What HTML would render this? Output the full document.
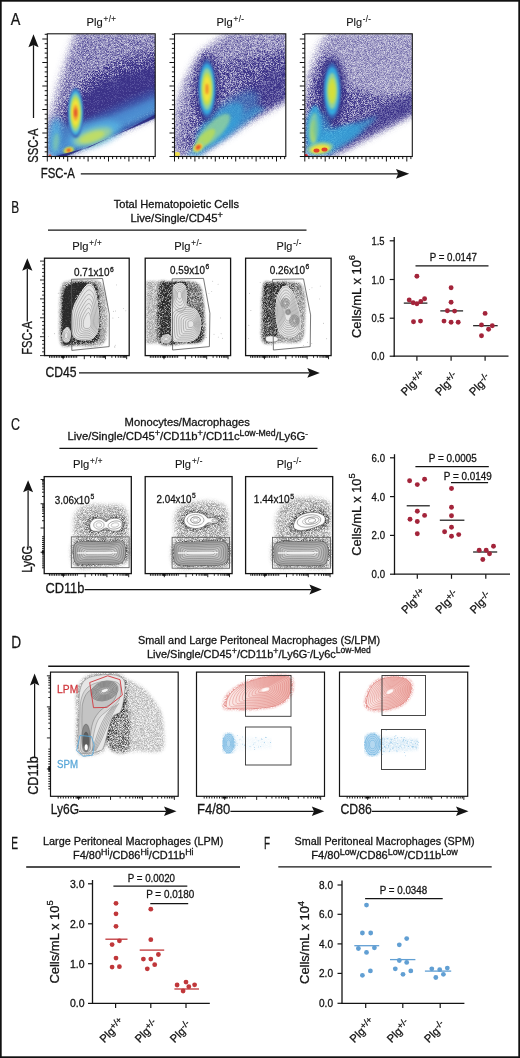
<!DOCTYPE html>
<html><head><meta charset="utf-8"><title>Figure</title>
<style>html,body{margin:0;padding:0;background:#fff;} body{width:520px;height:1058px;overflow:hidden;font-family:"Liberation Sans",sans-serif;} svg{display:block;will-change:transform;}</style>
</head><body><svg width="520" height="1058" viewBox="0 0 520 1058" font-family="Liberation Sans, sans-serif"><defs><filter id="b1" x="-50%" y="-50%" width="200%" height="200%"><feGaussianBlur stdDeviation="1.0"/></filter><filter id="b15" x="-50%" y="-50%" width="200%" height="200%"><feGaussianBlur stdDeviation="1.5"/></filter><filter id="b2" x="-50%" y="-50%" width="200%" height="200%"><feGaussianBlur stdDeviation="2.0"/></filter><filter id="b3" x="-50%" y="-50%" width="200%" height="200%"><feGaussianBlur stdDeviation="3.0"/></filter><filter id="b05" x="-50%" y="-50%" width="200%" height="200%"><feGaussianBlur stdDeviation="0.6"/></filter><clipPath id="cA0"><rect x="47.3" y="33.8" width="107.89999999999999" height="122.7"/></clipPath><filter id="spA0" x="47.3" y="33.8" width="107.89999999999999" height="122.7" filterUnits="userSpaceOnUse" color-interpolation-filters="sRGB"><feGaussianBlur in="SourceAlpha" stdDeviation="2.5" result="d"/><feTurbulence type="fractalNoise" baseFrequency="1.7" numOctaves="1" seed="7" result="n"/><feColorMatrix in="n" type="matrix" values="0 0 0 0 0  0 0 0 0 0  0 0 0 0 0  2.6 0 0 0 -0.8" result="na"/><feComposite in="d" in2="na" operator="arithmetic" k1="1.6" k2="0.25" k3="0" k4="0" result="t"/><feFlood flood-color="#3b3288" result="f"/><feComposite in="f" in2="t" operator="in"/></filter><clipPath id="cA1"><rect x="174.5" y="33.8" width="111.30000000000001" height="122.7"/></clipPath><filter id="spA1" x="174.5" y="33.8" width="111.30000000000001" height="122.7" filterUnits="userSpaceOnUse" color-interpolation-filters="sRGB"><feGaussianBlur in="SourceAlpha" stdDeviation="2.5" result="d"/><feTurbulence type="fractalNoise" baseFrequency="1.7" numOctaves="1" seed="8" result="n"/><feColorMatrix in="n" type="matrix" values="0 0 0 0 0  0 0 0 0 0  0 0 0 0 0  2.6 0 0 0 -0.8" result="na"/><feComposite in="d" in2="na" operator="arithmetic" k1="1.6" k2="0.25" k3="0" k4="0" result="t"/><feFlood flood-color="#3b3288" result="f"/><feComposite in="f" in2="t" operator="in"/></filter><clipPath id="cA2"><rect x="304.8" y="33.8" width="107.5" height="122.7"/></clipPath><filter id="spA2" x="304.8" y="33.8" width="107.5" height="122.7" filterUnits="userSpaceOnUse" color-interpolation-filters="sRGB"><feGaussianBlur in="SourceAlpha" stdDeviation="2.5" result="d"/><feTurbulence type="fractalNoise" baseFrequency="1.7" numOctaves="1" seed="9" result="n"/><feColorMatrix in="n" type="matrix" values="0 0 0 0 0  0 0 0 0 0  0 0 0 0 0  2.6 0 0 0 -0.8" result="na"/><feComposite in="d" in2="na" operator="arithmetic" k1="1.6" k2="0.25" k3="0" k4="0" result="t"/><feFlood flood-color="#3b3288" result="f"/><feComposite in="f" in2="t" operator="in"/></filter><filter id="spk1" x="44.5" y="258.2" width="84.69999999999999" height="97.40000000000003" filterUnits="userSpaceOnUse" color-interpolation-filters="sRGB"><feGaussianBlur in="SourceAlpha" stdDeviation="1.0" result="d"/><feTurbulence type="fractalNoise" baseFrequency="1.6" numOctaves="2" seed="11" result="n"/><feColorMatrix in="n" type="matrix" values="0 0 0 0 0  0 0 0 0 0  0 0 0 0 0  2.0 0 0 0 -0.5" result="na0"/><feOffset in="na0" dx="0" dy="0" result="na"/><feComposite in="d" in2="na" operator="arithmetic" k1="1.2" k2="0.4" k3="0" k4="0" result="t"/><feFlood flood-color="#2a2a2a" result="f"/><feComposite in="f" in2="t" operator="in"/></filter><filter id="spk2" x="145.2" y="258.2" width="85.4" height="97.40000000000003" filterUnits="userSpaceOnUse" color-interpolation-filters="sRGB"><feGaussianBlur in="SourceAlpha" stdDeviation="1.0" result="d"/><feTurbulence type="fractalNoise" baseFrequency="1.6" numOctaves="2" seed="12" result="n"/><feColorMatrix in="n" type="matrix" values="0 0 0 0 0  0 0 0 0 0  0 0 0 0 0  2.0 0 0 0 -0.5" result="na0"/><feOffset in="na0" dx="0" dy="0" result="na"/><feComposite in="d" in2="na" operator="arithmetic" k1="1.2" k2="0.4" k3="0" k4="0" result="t"/><feFlood flood-color="#2a2a2a" result="f"/><feComposite in="f" in2="t" operator="in"/></filter><filter id="spk3" x="245.6" y="258.2" width="85.50000000000003" height="97.40000000000003" filterUnits="userSpaceOnUse" color-interpolation-filters="sRGB"><feGaussianBlur in="SourceAlpha" stdDeviation="1.0" result="d"/><feTurbulence type="fractalNoise" baseFrequency="1.6" numOctaves="2" seed="13" result="n"/><feColorMatrix in="n" type="matrix" values="0 0 0 0 0  0 0 0 0 0  0 0 0 0 0  2.0 0 0 0 -0.5" result="na0"/><feOffset in="na0" dx="0" dy="0" result="na"/><feComposite in="d" in2="na" operator="arithmetic" k1="1.2" k2="0.4" k3="0" k4="0" result="t"/><feFlood flood-color="#2a2a2a" result="f"/><feComposite in="f" in2="t" operator="in"/></filter><filter id="spk4" x="44.2" y="476.6" width="87.10000000000001" height="97.0" filterUnits="userSpaceOnUse" color-interpolation-filters="sRGB"><feGaussianBlur in="SourceAlpha" stdDeviation="2.2" result="d"/><feTurbulence type="fractalNoise" baseFrequency="1.6" numOctaves="2" seed="21" result="n"/><feColorMatrix in="n" type="matrix" values="0 0 0 0 0  0 0 0 0 0  0 0 0 0 0  2.4 0 0 0 -0.7" result="na0"/><feOffset in="na0" dx="0" dy="0" result="na"/><feComposite in="d" in2="na" operator="arithmetic" k1="1.5" k2="0.2" k3="0" k4="0" result="t"/><feFlood flood-color="#2a2a2a" result="f"/><feComposite in="f" in2="t" operator="in"/></filter><filter id="spk5" x="145.2" y="476.6" width="86.9" height="97.0" filterUnits="userSpaceOnUse" color-interpolation-filters="sRGB"><feGaussianBlur in="SourceAlpha" stdDeviation="2.2" result="d"/><feTurbulence type="fractalNoise" baseFrequency="1.6" numOctaves="2" seed="22" result="n"/><feColorMatrix in="n" type="matrix" values="0 0 0 0 0  0 0 0 0 0  0 0 0 0 0  2.4 0 0 0 -0.7" result="na0"/><feOffset in="na0" dx="0" dy="0" result="na"/><feComposite in="d" in2="na" operator="arithmetic" k1="1.5" k2="0.2" k3="0" k4="0" result="t"/><feFlood flood-color="#2a2a2a" result="f"/><feComposite in="f" in2="t" operator="in"/></filter><filter id="spk6" x="245.6" y="476.6" width="87.1" height="97.0" filterUnits="userSpaceOnUse" color-interpolation-filters="sRGB"><feGaussianBlur in="SourceAlpha" stdDeviation="2.2" result="d"/><feTurbulence type="fractalNoise" baseFrequency="1.6" numOctaves="2" seed="23" result="n"/><feColorMatrix in="n" type="matrix" values="0 0 0 0 0  0 0 0 0 0  0 0 0 0 0  2.4 0 0 0 -0.7" result="na0"/><feOffset in="na0" dx="0" dy="0" result="na"/><feComposite in="d" in2="na" operator="arithmetic" k1="1.5" k2="0.2" k3="0" k4="0" result="t"/><feFlood flood-color="#2a2a2a" result="f"/><feComposite in="f" in2="t" operator="in"/></filter><filter id="spk7" x="50.5" y="672.1" width="127.69999999999999" height="124.19999999999993" filterUnits="userSpaceOnUse" color-interpolation-filters="sRGB"><feGaussianBlur in="SourceAlpha" stdDeviation="1.4" result="d"/><feTurbulence type="fractalNoise" baseFrequency="1.6" numOctaves="2" seed="31" result="n"/><feColorMatrix in="n" type="matrix" values="0 0 0 0 0  0 0 0 0 0  0 0 0 0 0  2.4 0 0 0 -0.7" result="na0"/><feOffset in="na0" dx="0" dy="0" result="na"/><feComposite in="d" in2="na" operator="arithmetic" k1="1.5" k2="0.2" k3="0" k4="0" result="t"/><feFlood flood-color="#1a1a1a" result="f"/><feComposite in="f" in2="t" operator="in"/></filter><linearGradient id="pinkg" x1="0" y1="0" x2="1" y2="0"><stop offset="0" stop-color="#fcebe9"/><stop offset="0.5" stop-color="#f6cfcb"/><stop offset="1" stop-color="#eeb0aa"/></linearGradient><filter id="spk8" x="196.5" y="672.1" width="128" height="124.2" filterUnits="userSpaceOnUse" color-interpolation-filters="sRGB"><feGaussianBlur in="SourceAlpha" stdDeviation="1.2" result="d"/><feTurbulence type="fractalNoise" baseFrequency="1.6" numOctaves="2" seed="41" result="n"/><feColorMatrix in="n" type="matrix" values="0 0 0 0 0  0 0 0 0 0  0 0 0 0 0  2.4 0 0 0 -0.7" result="na0"/><feOffset in="na0" dx="0" dy="0" result="na"/><feComposite in="d" in2="na" operator="arithmetic" k1="1.5" k2="0.2" k3="0" k4="0" result="t"/><feFlood flood-color="#d9534f" result="f"/><feComposite in="f" in2="t" operator="in"/></filter><filter id="spk9" x="222" y="732" width="50" height="22" filterUnits="userSpaceOnUse" color-interpolation-filters="sRGB"><feGaussianBlur in="SourceAlpha" stdDeviation="1.5" result="d"/><feTurbulence type="fractalNoise" baseFrequency="1.5" numOctaves="2" seed="42" result="n"/><feColorMatrix in="n" type="matrix" values="0 0 0 0 0  0 0 0 0 0  0 0 0 0 0  2.4 0 0 0 -0.7" result="na0"/><feOffset in="na0" dx="0" dy="0" result="na"/><feComposite in="d" in2="na" operator="arithmetic" k1="1.2" k2="0.3" k3="0" k4="0" result="t"/><feFlood flood-color="#4aa0d8" result="f"/><feComposite in="f" in2="t" operator="in"/></filter><filter id="spk10" x="339.5" y="672.1" width="128.2" height="124.2" filterUnits="userSpaceOnUse" color-interpolation-filters="sRGB"><feGaussianBlur in="SourceAlpha" stdDeviation="1.2" result="d"/><feTurbulence type="fractalNoise" baseFrequency="1.6" numOctaves="2" seed="43" result="n"/><feColorMatrix in="n" type="matrix" values="0 0 0 0 0  0 0 0 0 0  0 0 0 0 0  2.4 0 0 0 -0.7" result="na0"/><feOffset in="na0" dx="0" dy="0" result="na"/><feComposite in="d" in2="na" operator="arithmetic" k1="1.5" k2="0.2" k3="0" k4="0" result="t"/><feFlood flood-color="#d9534f" result="f"/><feComposite in="f" in2="t" operator="in"/></filter><filter id="spk11" x="364" y="732" width="55" height="25" filterUnits="userSpaceOnUse" color-interpolation-filters="sRGB"><feGaussianBlur in="SourceAlpha" stdDeviation="1.5" result="d"/><feTurbulence type="fractalNoise" baseFrequency="1.5" numOctaves="2" seed="44" result="n"/><feColorMatrix in="n" type="matrix" values="0 0 0 0 0  0 0 0 0 0  0 0 0 0 0  2.4 0 0 0 -0.7" result="na0"/><feOffset in="na0" dx="0" dy="0" result="na"/><feComposite in="d" in2="na" operator="arithmetic" k1="1.2" k2="0.3" k3="0" k4="0" result="t"/><feFlood flood-color="#4aa0d8" result="f"/><feComposite in="f" in2="t" operator="in"/></filter></defs><rect x="0.8" y="0.8" width="518.4" height="1056.4" fill="none" stroke="#111" stroke-width="1.8"/><text transform="translate(10.80,24.60) scale(0.8723,1)" fill="#141414" stroke="#141414" stroke-width="0.25" ><tspan font-size="16.50">A</tspan></text><text transform="translate(11.30,212.50) scale(0.7178,1)" fill="#141414" stroke="#141414" stroke-width="0.25" ><tspan font-size="16.50">B</tspan></text><text transform="translate(10.90,430.20) scale(0.7555,1)" fill="#141414" stroke="#141414" stroke-width="0.25" ><tspan font-size="16.50">C</tspan></text><text transform="translate(11.20,648.40) scale(0.8310,1)" fill="#141414" stroke="#141414" stroke-width="0.25" ><tspan font-size="16.50">D</tspan></text><text transform="translate(11.20,849.00) scale(0.6179,1)" fill="#141414" stroke="#141414" stroke-width="0.25" ><tspan font-size="16.50">E</tspan></text><text transform="translate(264.00,849.20) scale(0.6051,1)" fill="#141414" stroke="#141414" stroke-width="0.25" ><tspan font-size="16.50">F</tspan></text><g clip-path="url(#cA0)"><path d="M44.0,138.0 L58.0,95.0 L70.0,52.0 L78.0,30.0 L160.0,30.0 L160.0,112.0 L60.0,157.0 L44.0,157.0 Z" fill="#3b3288" opacity="0.16" filter="url(#b3)"/><path d="M58.0,140.0 L68.0,112.0 L92.0,88.0 L125.0,74.0 L158.0,66.0 L158.0,104.0 L110.0,122.0 L68.0,142.0 Z" fill="#3a3490" opacity="0.75" filter="url(#b3)"/><g filter="url(#spA0)"><path d="M46.0,130.0 L52.0,110.0 L60.0,80.0 L70.0,50.0 L76.0,32.0 L160.0,32.0 L160.0,113.0 L66.0,155.0 L46.0,157.0 Z" fill="#000" opacity="0.45" filter="url(#b3)"/><path d="M56.0,140.0 L66.0,105.0 L86.0,78.0 L118.0,62.0 L160.0,52.0 L160.0,113.0 L110.0,133.0 L66.0,154.0 Z" fill="#000" opacity="0.6" filter="url(#b3)"/><path d="M60.0,140.0 L72.0,112.0 L95.0,88.0 L130.0,72.0 L160.0,64.0 L160.0,112.0 L70.0,152.0 Z" fill="#000" opacity="0.6" filter="url(#b2)"/></g><path d="M54.0,155.0 L90.0,141.0 L130.0,123.0 L158.0,110.0 L158.0,116.0 L62.0,157.0 Z" fill="#2b3f9a" opacity="0.9" filter="url(#b1)"/><path d="M58.0,152.0 L90.0,140.0 L125.0,124.0 L158.0,108.0 L158.0,88.0 L125.0,102.0 L95.0,116.0 L70.0,128.0 Z" fill="#3f5fb2" opacity="0.7" filter="url(#b3)"/><path d="M62.0,150.0 L95.0,137.0 L130.0,121.0 L158.0,106.0 L158.0,97.0 L125.0,111.0 L90.0,127.0 L66.0,139.0 Z" fill="#4a7ccc" opacity="0.6" filter="url(#b2)"/><path d="M70.0,148.0 L100.0,136.0 L130.0,123.0 L158.0,110.0 L158.0,105.0 L128.0,118.0 L98.0,131.0 L72.0,142.0 Z" fill="#58a8de" opacity="0.45" filter="url(#b2)"/><ellipse cx="57.00" cy="143.00" rx="8.00" ry="13.00" transform="rotate(8 57.00 143.00)" fill="#3f8fd0" opacity="0.55" filter="url(#b2)"/><path d="M50.0,157.0 L49.0,125.0 L56.0,116.0 L68.0,126.0 L85.0,122.0 L110.0,116.0 L140.0,104.0 L158.0,96.0 L158.0,112.0 L125.0,128.0 L95.0,142.0 L65.0,155.0 Z" fill="#4f9ad8" opacity="0.7" filter="url(#b3)"/><ellipse cx="95.00" cy="134.50" rx="27.00" ry="11.00" transform="rotate(-18 95.00 134.50)" fill="#5bbde6" opacity="0.7" filter="url(#b3)"/><ellipse cx="93.00" cy="136.50" rx="20.00" ry="7.20" transform="rotate(-18 93.00 136.50)" fill="#9fd39a" opacity="0.9" filter="url(#b2)"/><ellipse cx="92.00" cy="137.00" rx="13.00" ry="4.60" transform="rotate(-18 92.00 137.00)" fill="#c2de62" opacity="0.9" filter="url(#b15)"/><ellipse cx="55.00" cy="138.00" rx="5.00" ry="17.00" transform="rotate(5 55.00 138.00)" fill="#52b0e0" opacity="0.7" filter="url(#b2)"/><ellipse cx="56.00" cy="142.00" rx="3.00" ry="9.00" transform="rotate(5 56.00 142.00)" fill="#8fd0a0" opacity="0.6" filter="url(#b15)"/><ellipse cx="75.60" cy="112.80" rx="7.50" ry="25.00" transform="rotate(0 75.60 112.80)" fill="#3a64b4" opacity="1.0" filter="url(#b1)"/><ellipse cx="75.60" cy="112.80" rx="6.75" ry="22.50" transform="rotate(0 75.60 112.80)" fill="#42b0e0" opacity="1.0" filter="url(#b1)"/><ellipse cx="75.60" cy="112.80" rx="5.70" ry="19.00" transform="rotate(0 75.60 112.80)" fill="#8fd0a0" opacity="1.0" filter="url(#b1)"/><ellipse cx="75.60" cy="112.80" rx="4.72" ry="15.75" transform="rotate(0 75.60 112.80)" fill="#c7e04a" opacity="1.0" filter="url(#b1)"/><ellipse cx="75.60" cy="112.80" rx="3.75" ry="12.50" transform="rotate(0 75.60 112.80)" fill="#f4e23a" opacity="1.0" filter="url(#b1)"/><ellipse cx="75.60" cy="112.80" rx="2.40" ry="8.00" transform="rotate(0 75.60 112.80)" fill="#f0a030" opacity="1.0" filter="url(#b1)"/><ellipse cx="75.60" cy="112.80" rx="1.28" ry="4.25" transform="rotate(0 75.60 112.80)" fill="#e04a2a" opacity="1.0" filter="url(#b1)"/><ellipse cx="68.70" cy="150.30" rx="5.50" ry="3.20" transform="rotate(-15 68.70 150.30)" fill="#a8d870" opacity="1.0" filter="url(#b1)"/><ellipse cx="68.70" cy="150.30" rx="3.85" ry="2.24" transform="rotate(-15 68.70 150.30)" fill="#f0e040" opacity="1.0" filter="url(#b1)"/><ellipse cx="68.70" cy="150.30" rx="2.48" ry="1.44" transform="rotate(-15 68.70 150.30)" fill="#f08a2c" opacity="1.0" filter="url(#b1)"/><ellipse cx="68.70" cy="150.30" rx="1.65" ry="0.96" transform="rotate(-15 68.70 150.30)" fill="#d8282a" opacity="1.0" filter="url(#b1)"/><ellipse cx="50.00" cy="155.50" rx="1.40" ry="1.00" transform="rotate(0 50.00 155.50)" fill="#e04a2a" opacity="0.9" filter="url(#b05)"/><path d="M50.0,157.5 L90.0,147.0 L130.0,128.0 L158.0,113.0 L158.0,117.0 L62.0,158.0 Z" fill="#2b2a80" opacity="0.9" filter="url(#b05)"/></g><g clip-path="url(#cA1)"><path d="M172.0,150.0 L175.0,112.0 L184.0,82.0 L198.0,57.0 L214.0,42.0 L230.0,32.0 L290.0,32.0 L290.0,98.0 L240.0,125.0 L198.0,155.0 L172.0,157.0 Z" fill="#3b3288" opacity="0.14" filter="url(#b3)"/><path d="M200.0,150.0 L215.0,120.0 L240.0,95.0 L288.0,62.0 L288.0,98.0 L240.0,125.0 L205.0,150.0 Z" fill="#3a3490" opacity="0.45" filter="url(#b3)"/><g filter="url(#spA1)"><path d="M172.0,150.0 L175.0,112.0 L184.0,82.0 L198.0,57.0 L214.0,42.0 L230.0,32.0 L290.0,32.0 L290.0,98.0 L240.0,125.0 L198.0,155.0 L172.0,157.0 Z" fill="#000" opacity="0.42" filter="url(#b3)"/><path d="M182.0,150.0 L190.0,115.0 L200.0,80.0 L225.0,62.0 L260.0,52.0 L290.0,50.0 L290.0,97.0 L200.0,153.0 Z" fill="#000" opacity="0.32" filter="url(#b3)"/><ellipse cx="207.00" cy="92.00" rx="14.00" ry="42.00" transform="rotate(0 207.00 92.00)" fill="#000" opacity="0.4" filter="url(#b3)"/><path d="M235.0,70.0 L286.0,55.0 L286.0,97.0 L245.0,118.0 Z" fill="#000" opacity="0.3" filter="url(#b3)"/></g><path d="M186.0,156.0 L200.0,142.0 L225.0,125.0 L255.0,106.0 L266.0,108.0 L230.0,134.0 L205.0,152.0 L200.0,157.0 Z" fill="#35a9de" opacity="0.6" filter="url(#b2)"/><ellipse cx="228.00" cy="118.00" rx="38.00" ry="15.00" transform="rotate(-40 228.00 118.00)" fill="#3f8fd0" opacity="0.5" filter="url(#b3)"/><ellipse cx="220.00" cy="125.00" rx="30.00" ry="12.00" transform="rotate(-42 220.00 125.00)" fill="#35a9de" opacity="0.65" filter="url(#b2)"/><ellipse cx="213.00" cy="131.00" rx="23.00" ry="8.00" transform="rotate(-45 213.00 131.00)" fill="#8fd0a0" opacity="0.85" filter="url(#b15)"/><ellipse cx="206.00" cy="138.00" rx="12.00" ry="5.00" transform="rotate(-45 206.00 138.00)" fill="#b7dc5a" opacity="0.85" filter="url(#b1)"/><ellipse cx="207.00" cy="89.00" rx="12.00" ry="33.00" transform="rotate(0 207.00 89.00)" fill="#2e2a80" opacity="0.5" filter="url(#b2)"/><ellipse cx="207.00" cy="89.00" rx="8.50" ry="29.00" transform="rotate(0 207.00 89.00)" fill="#3a64b4" opacity="1.0" filter="url(#b1)"/><ellipse cx="207.00" cy="89.00" rx="7.48" ry="25.52" transform="rotate(0 207.00 89.00)" fill="#35a9de" opacity="1.0" filter="url(#b1)"/><ellipse cx="207.00" cy="89.00" rx="6.12" ry="20.88" transform="rotate(0 207.00 89.00)" fill="#8fd0a0" opacity="1.0" filter="url(#b1)"/><ellipse cx="207.00" cy="89.00" rx="4.76" ry="16.24" transform="rotate(0 207.00 89.00)" fill="#c7e04a" opacity="1.0" filter="url(#b1)"/><ellipse cx="207.00" cy="89.00" rx="3.57" ry="12.18" transform="rotate(0 207.00 89.00)" fill="#f4e23a" opacity="1.0" filter="url(#b1)"/><ellipse cx="207.00" cy="89.00" rx="1.53" ry="5.22" transform="rotate(0 207.00 89.00)" fill="#f08a2c" opacity="1.0" filter="url(#b1)"/><ellipse cx="198.30" cy="147.30" rx="6.50" ry="4.00" transform="rotate(-40 198.30 147.30)" fill="#8fd0a0" opacity="1.0" filter="url(#b1)"/><ellipse cx="198.30" cy="147.30" rx="4.88" ry="3.00" transform="rotate(-40 198.30 147.30)" fill="#f4e23a" opacity="1.0" filter="url(#b1)"/><ellipse cx="198.30" cy="147.30" rx="3.25" ry="2.00" transform="rotate(-40 198.30 147.30)" fill="#f08a2c" opacity="1.0" filter="url(#b1)"/><ellipse cx="198.30" cy="147.30" rx="1.95" ry="1.20" transform="rotate(-40 198.30 147.30)" fill="#d8282a" opacity="1.0" filter="url(#b1)"/><ellipse cx="177.00" cy="154.00" rx="3.00" ry="2.00" transform="rotate(0 177.00 154.00)" fill="#f4e23a" opacity="0.9" filter="url(#b05)"/></g><g clip-path="url(#cA2)"><path d="M303.0,125.0 L307.0,98.0 L314.0,68.0 L322.0,45.0 L332.0,32.0 L416.0,32.0 L416.0,112.0 L330.0,157.0 L303.0,157.0 Z" fill="#3b3288" opacity="0.14" filter="url(#b3)"/><path d="M335.0,145.0 L350.0,125.0 L380.0,108.0 L415.0,92.0 L415.0,112.0 L370.0,135.0 L338.0,152.0 Z" fill="#3a3490" opacity="0.55" filter="url(#b3)"/><ellipse cx="332.00" cy="91.00" rx="14.00" ry="36.00" transform="rotate(0 332.00 91.00)" fill="#3a3490" opacity="0.35" filter="url(#b3)"/><g filter="url(#spA2)"><path d="M302.0,135.0 L304.0,100.0 L309.0,72.0 L317.0,48.0 L328.0,32.0 L416.0,32.0 L416.0,112.0 L330.0,157.0 L302.0,157.0 Z" fill="#000" opacity="0.36" filter="url(#b3)"/><path d="M304.0,140.0 L306.0,100.0 L314.0,70.0 L325.0,55.0 L335.0,60.0 L330.0,120.0 L315.0,150.0 Z" fill="#000" opacity="0.35" filter="url(#b3)"/><path d="M306.0,150.0 L312.0,110.0 L322.0,72.0 L345.0,85.0 L380.0,98.0 L416.0,92.0 L416.0,112.0 L330.0,155.0 Z" fill="#000" opacity="0.45" filter="url(#b3)"/><ellipse cx="332.00" cy="94.00" rx="13.00" ry="38.00" transform="rotate(0 332.00 94.00)" fill="#000" opacity="0.4" filter="url(#b3)"/></g><path d="M306.0,156.0 L307.0,120.0 L316.0,104.0 L324.0,130.0 L350.0,125.0 L378.0,116.0 L360.0,134.0 L330.0,155.0 Z" fill="#35a9de" opacity="0.65" filter="url(#b2)"/><ellipse cx="314.00" cy="127.00" rx="7.00" ry="21.00" transform="rotate(3 314.00 127.00)" fill="#35a9de" opacity="0.8" filter="url(#b15)"/><ellipse cx="314.00" cy="129.00" rx="5.00" ry="16.00" transform="rotate(3 314.00 129.00)" fill="#8fd0a0" opacity="0.9" filter="url(#b15)"/><ellipse cx="314.00" cy="131.00" rx="3.20" ry="11.00" transform="rotate(3 314.00 131.00)" fill="#b7dc5a" opacity="0.8" filter="url(#b1)"/><ellipse cx="340.00" cy="136.00" rx="22.00" ry="8.00" transform="rotate(-25 340.00 136.00)" fill="#35a9de" opacity="0.55" filter="url(#b2)"/><ellipse cx="322.00" cy="128.00" rx="9.00" ry="16.00" transform="rotate(0 322.00 128.00)" fill="#35a9de" opacity="0.5" filter="url(#b2)"/><ellipse cx="332.00" cy="91.00" rx="12.00" ry="33.00" transform="rotate(0 332.00 91.00)" fill="#2e2a80" opacity="0.5" filter="url(#b2)"/><ellipse cx="332.10" cy="91.00" rx="8.50" ry="28.00" transform="rotate(0 332.10 91.00)" fill="#3a64b4" opacity="1.0" filter="url(#b1)"/><ellipse cx="332.10" cy="91.00" rx="7.31" ry="24.08" transform="rotate(0 332.10 91.00)" fill="#35a9de" opacity="1.0" filter="url(#b1)"/><ellipse cx="332.10" cy="91.00" rx="5.44" ry="17.92" transform="rotate(0 332.10 91.00)" fill="#8fd0a0" opacity="1.0" filter="url(#b1)"/><ellipse cx="332.10" cy="91.00" rx="3.91" ry="12.88" transform="rotate(0 332.10 91.00)" fill="#c7e04a" opacity="1.0" filter="url(#b1)"/><ellipse cx="332.10" cy="91.00" rx="2.38" ry="7.84" transform="rotate(0 332.10 91.00)" fill="#d6df3a" opacity="1.0" filter="url(#b1)"/><ellipse cx="320.00" cy="148.00" rx="13.00" ry="6.00" transform="rotate(-8 320.00 148.00)" fill="#8fd0a0" opacity="0.9" filter="url(#b1)"/><ellipse cx="320.00" cy="149.00" rx="10.00" ry="4.30" transform="rotate(-8 320.00 149.00)" fill="#f4e23a" opacity="0.95" filter="url(#b1)"/><ellipse cx="316.50" cy="150.50" rx="3.00" ry="2.00" transform="rotate(0 316.50 150.50)" fill="#e0402a" opacity="1.0" filter="url(#b05)"/><ellipse cx="324.50" cy="149.50" rx="3.00" ry="2.00" transform="rotate(0 324.50 149.50)" fill="#e0402a" opacity="1.0" filter="url(#b05)"/><ellipse cx="306.00" cy="155.50" rx="2.00" ry="1.50" transform="rotate(0 306.00 155.50)" fill="#d8282a" opacity="1.0" filter="url(#b05)"/></g><rect x="47.30" y="33.80" width="107.90" height="122.70" fill="none" stroke="#141414" stroke-width="1.1" /><line x1="42.30" y1="156.50" x2="47.30" y2="156.50" stroke="#141414" stroke-width="1.0" /><line x1="44.70" y1="151.80" x2="47.30" y2="151.80" stroke="#141414" stroke-width="1.0" /><line x1="44.70" y1="147.10" x2="47.30" y2="147.10" stroke="#141414" stroke-width="1.0" /><line x1="44.70" y1="142.40" x2="47.30" y2="142.40" stroke="#141414" stroke-width="1.0" /><line x1="44.70" y1="137.70" x2="47.30" y2="137.70" stroke="#141414" stroke-width="1.0" /><line x1="42.30" y1="133.00" x2="47.30" y2="133.00" stroke="#141414" stroke-width="1.0" /><line x1="44.70" y1="128.30" x2="47.30" y2="128.30" stroke="#141414" stroke-width="1.0" /><line x1="44.70" y1="123.60" x2="47.30" y2="123.60" stroke="#141414" stroke-width="1.0" /><line x1="44.70" y1="118.90" x2="47.30" y2="118.90" stroke="#141414" stroke-width="1.0" /><line x1="44.70" y1="114.20" x2="47.30" y2="114.20" stroke="#141414" stroke-width="1.0" /><line x1="42.30" y1="109.50" x2="47.30" y2="109.50" stroke="#141414" stroke-width="1.0" /><line x1="44.70" y1="104.80" x2="47.30" y2="104.80" stroke="#141414" stroke-width="1.0" /><line x1="44.70" y1="100.10" x2="47.30" y2="100.10" stroke="#141414" stroke-width="1.0" /><line x1="44.70" y1="95.40" x2="47.30" y2="95.40" stroke="#141414" stroke-width="1.0" /><line x1="44.70" y1="90.70" x2="47.30" y2="90.70" stroke="#141414" stroke-width="1.0" /><line x1="42.30" y1="86.00" x2="47.30" y2="86.00" stroke="#141414" stroke-width="1.0" /><line x1="44.70" y1="81.30" x2="47.30" y2="81.30" stroke="#141414" stroke-width="1.0" /><line x1="44.70" y1="76.60" x2="47.30" y2="76.60" stroke="#141414" stroke-width="1.0" /><line x1="44.70" y1="71.90" x2="47.30" y2="71.90" stroke="#141414" stroke-width="1.0" /><line x1="44.70" y1="67.20" x2="47.30" y2="67.20" stroke="#141414" stroke-width="1.0" /><line x1="42.30" y1="62.50" x2="47.30" y2="62.50" stroke="#141414" stroke-width="1.0" /><line x1="44.70" y1="57.80" x2="47.30" y2="57.80" stroke="#141414" stroke-width="1.0" /><line x1="44.70" y1="53.10" x2="47.30" y2="53.10" stroke="#141414" stroke-width="1.0" /><line x1="44.70" y1="48.40" x2="47.30" y2="48.40" stroke="#141414" stroke-width="1.0" /><line x1="44.70" y1="43.70" x2="47.30" y2="43.70" stroke="#141414" stroke-width="1.0" /><line x1="42.30" y1="39.00" x2="47.30" y2="39.00" stroke="#141414" stroke-width="1.0" /><line x1="44.70" y1="34.30" x2="47.30" y2="34.30" stroke="#141414" stroke-width="1.0" /><line x1="47.30" y1="156.50" x2="47.30" y2="161.50" stroke="#141414" stroke-width="1.0" /><line x1="51.38" y1="156.50" x2="51.38" y2="159.10" stroke="#141414" stroke-width="1.0" /><line x1="55.46" y1="156.50" x2="55.46" y2="159.10" stroke="#141414" stroke-width="1.0" /><line x1="59.54" y1="156.50" x2="59.54" y2="159.10" stroke="#141414" stroke-width="1.0" /><line x1="63.62" y1="156.50" x2="63.62" y2="159.10" stroke="#141414" stroke-width="1.0" /><line x1="67.70" y1="156.50" x2="67.70" y2="161.50" stroke="#141414" stroke-width="1.0" /><line x1="71.78" y1="156.50" x2="71.78" y2="159.10" stroke="#141414" stroke-width="1.0" /><line x1="75.86" y1="156.50" x2="75.86" y2="159.10" stroke="#141414" stroke-width="1.0" /><line x1="79.94" y1="156.50" x2="79.94" y2="159.10" stroke="#141414" stroke-width="1.0" /><line x1="84.02" y1="156.50" x2="84.02" y2="159.10" stroke="#141414" stroke-width="1.0" /><line x1="88.10" y1="156.50" x2="88.10" y2="161.50" stroke="#141414" stroke-width="1.0" /><line x1="92.18" y1="156.50" x2="92.18" y2="159.10" stroke="#141414" stroke-width="1.0" /><line x1="96.26" y1="156.50" x2="96.26" y2="159.10" stroke="#141414" stroke-width="1.0" /><line x1="100.34" y1="156.50" x2="100.34" y2="159.10" stroke="#141414" stroke-width="1.0" /><line x1="104.42" y1="156.50" x2="104.42" y2="159.10" stroke="#141414" stroke-width="1.0" /><line x1="108.50" y1="156.50" x2="108.50" y2="161.50" stroke="#141414" stroke-width="1.0" /><line x1="112.58" y1="156.50" x2="112.58" y2="159.10" stroke="#141414" stroke-width="1.0" /><line x1="116.66" y1="156.50" x2="116.66" y2="159.10" stroke="#141414" stroke-width="1.0" /><line x1="120.74" y1="156.50" x2="120.74" y2="159.10" stroke="#141414" stroke-width="1.0" /><line x1="124.82" y1="156.50" x2="124.82" y2="159.10" stroke="#141414" stroke-width="1.0" /><line x1="128.90" y1="156.50" x2="128.90" y2="161.50" stroke="#141414" stroke-width="1.0" /><line x1="132.98" y1="156.50" x2="132.98" y2="159.10" stroke="#141414" stroke-width="1.0" /><line x1="137.06" y1="156.50" x2="137.06" y2="159.10" stroke="#141414" stroke-width="1.0" /><line x1="141.14" y1="156.50" x2="141.14" y2="159.10" stroke="#141414" stroke-width="1.0" /><line x1="145.22" y1="156.50" x2="145.22" y2="159.10" stroke="#141414" stroke-width="1.0" /><line x1="149.30" y1="156.50" x2="149.30" y2="161.50" stroke="#141414" stroke-width="1.0" /><line x1="153.38" y1="156.50" x2="153.38" y2="159.10" stroke="#141414" stroke-width="1.0" /><rect x="174.50" y="33.80" width="111.30" height="122.70" fill="none" stroke="#141414" stroke-width="1.1" /><line x1="169.50" y1="156.50" x2="174.50" y2="156.50" stroke="#141414" stroke-width="1.0" /><line x1="171.90" y1="151.80" x2="174.50" y2="151.80" stroke="#141414" stroke-width="1.0" /><line x1="171.90" y1="147.10" x2="174.50" y2="147.10" stroke="#141414" stroke-width="1.0" /><line x1="171.90" y1="142.40" x2="174.50" y2="142.40" stroke="#141414" stroke-width="1.0" /><line x1="171.90" y1="137.70" x2="174.50" y2="137.70" stroke="#141414" stroke-width="1.0" /><line x1="169.50" y1="133.00" x2="174.50" y2="133.00" stroke="#141414" stroke-width="1.0" /><line x1="171.90" y1="128.30" x2="174.50" y2="128.30" stroke="#141414" stroke-width="1.0" /><line x1="171.90" y1="123.60" x2="174.50" y2="123.60" stroke="#141414" stroke-width="1.0" /><line x1="171.90" y1="118.90" x2="174.50" y2="118.90" stroke="#141414" stroke-width="1.0" /><line x1="171.90" y1="114.20" x2="174.50" y2="114.20" stroke="#141414" stroke-width="1.0" /><line x1="169.50" y1="109.50" x2="174.50" y2="109.50" stroke="#141414" stroke-width="1.0" /><line x1="171.90" y1="104.80" x2="174.50" y2="104.80" stroke="#141414" stroke-width="1.0" /><line x1="171.90" y1="100.10" x2="174.50" y2="100.10" stroke="#141414" stroke-width="1.0" /><line x1="171.90" y1="95.40" x2="174.50" y2="95.40" stroke="#141414" stroke-width="1.0" /><line x1="171.90" y1="90.70" x2="174.50" y2="90.70" stroke="#141414" stroke-width="1.0" /><line x1="169.50" y1="86.00" x2="174.50" y2="86.00" stroke="#141414" stroke-width="1.0" /><line x1="171.90" y1="81.30" x2="174.50" y2="81.30" stroke="#141414" stroke-width="1.0" /><line x1="171.90" y1="76.60" x2="174.50" y2="76.60" stroke="#141414" stroke-width="1.0" /><line x1="171.90" y1="71.90" x2="174.50" y2="71.90" stroke="#141414" stroke-width="1.0" /><line x1="171.90" y1="67.20" x2="174.50" y2="67.20" stroke="#141414" stroke-width="1.0" /><line x1="169.50" y1="62.50" x2="174.50" y2="62.50" stroke="#141414" stroke-width="1.0" /><line x1="171.90" y1="57.80" x2="174.50" y2="57.80" stroke="#141414" stroke-width="1.0" /><line x1="171.90" y1="53.10" x2="174.50" y2="53.10" stroke="#141414" stroke-width="1.0" /><line x1="171.90" y1="48.40" x2="174.50" y2="48.40" stroke="#141414" stroke-width="1.0" /><line x1="171.90" y1="43.70" x2="174.50" y2="43.70" stroke="#141414" stroke-width="1.0" /><line x1="169.50" y1="39.00" x2="174.50" y2="39.00" stroke="#141414" stroke-width="1.0" /><line x1="171.90" y1="34.30" x2="174.50" y2="34.30" stroke="#141414" stroke-width="1.0" /><line x1="174.50" y1="156.50" x2="174.50" y2="161.50" stroke="#141414" stroke-width="1.0" /><line x1="178.58" y1="156.50" x2="178.58" y2="159.10" stroke="#141414" stroke-width="1.0" /><line x1="182.66" y1="156.50" x2="182.66" y2="159.10" stroke="#141414" stroke-width="1.0" /><line x1="186.74" y1="156.50" x2="186.74" y2="159.10" stroke="#141414" stroke-width="1.0" /><line x1="190.82" y1="156.50" x2="190.82" y2="159.10" stroke="#141414" stroke-width="1.0" /><line x1="194.90" y1="156.50" x2="194.90" y2="161.50" stroke="#141414" stroke-width="1.0" /><line x1="198.98" y1="156.50" x2="198.98" y2="159.10" stroke="#141414" stroke-width="1.0" /><line x1="203.06" y1="156.50" x2="203.06" y2="159.10" stroke="#141414" stroke-width="1.0" /><line x1="207.14" y1="156.50" x2="207.14" y2="159.10" stroke="#141414" stroke-width="1.0" /><line x1="211.22" y1="156.50" x2="211.22" y2="159.10" stroke="#141414" stroke-width="1.0" /><line x1="215.30" y1="156.50" x2="215.30" y2="161.50" stroke="#141414" stroke-width="1.0" /><line x1="219.38" y1="156.50" x2="219.38" y2="159.10" stroke="#141414" stroke-width="1.0" /><line x1="223.46" y1="156.50" x2="223.46" y2="159.10" stroke="#141414" stroke-width="1.0" /><line x1="227.54" y1="156.50" x2="227.54" y2="159.10" stroke="#141414" stroke-width="1.0" /><line x1="231.62" y1="156.50" x2="231.62" y2="159.10" stroke="#141414" stroke-width="1.0" /><line x1="235.70" y1="156.50" x2="235.70" y2="161.50" stroke="#141414" stroke-width="1.0" /><line x1="239.78" y1="156.50" x2="239.78" y2="159.10" stroke="#141414" stroke-width="1.0" /><line x1="243.86" y1="156.50" x2="243.86" y2="159.10" stroke="#141414" stroke-width="1.0" /><line x1="247.94" y1="156.50" x2="247.94" y2="159.10" stroke="#141414" stroke-width="1.0" /><line x1="252.02" y1="156.50" x2="252.02" y2="159.10" stroke="#141414" stroke-width="1.0" /><line x1="256.10" y1="156.50" x2="256.10" y2="161.50" stroke="#141414" stroke-width="1.0" /><line x1="260.18" y1="156.50" x2="260.18" y2="159.10" stroke="#141414" stroke-width="1.0" /><line x1="264.26" y1="156.50" x2="264.26" y2="159.10" stroke="#141414" stroke-width="1.0" /><line x1="268.34" y1="156.50" x2="268.34" y2="159.10" stroke="#141414" stroke-width="1.0" /><line x1="272.42" y1="156.50" x2="272.42" y2="159.10" stroke="#141414" stroke-width="1.0" /><line x1="276.50" y1="156.50" x2="276.50" y2="161.50" stroke="#141414" stroke-width="1.0" /><line x1="280.58" y1="156.50" x2="280.58" y2="159.10" stroke="#141414" stroke-width="1.0" /><line x1="284.66" y1="156.50" x2="284.66" y2="159.10" stroke="#141414" stroke-width="1.0" /><rect x="304.80" y="33.80" width="107.50" height="122.70" fill="none" stroke="#141414" stroke-width="1.1" /><line x1="299.80" y1="156.50" x2="304.80" y2="156.50" stroke="#141414" stroke-width="1.0" /><line x1="302.20" y1="151.80" x2="304.80" y2="151.80" stroke="#141414" stroke-width="1.0" /><line x1="302.20" y1="147.10" x2="304.80" y2="147.10" stroke="#141414" stroke-width="1.0" /><line x1="302.20" y1="142.40" x2="304.80" y2="142.40" stroke="#141414" stroke-width="1.0" /><line x1="302.20" y1="137.70" x2="304.80" y2="137.70" stroke="#141414" stroke-width="1.0" /><line x1="299.80" y1="133.00" x2="304.80" y2="133.00" stroke="#141414" stroke-width="1.0" /><line x1="302.20" y1="128.30" x2="304.80" y2="128.30" stroke="#141414" stroke-width="1.0" /><line x1="302.20" y1="123.60" x2="304.80" y2="123.60" stroke="#141414" stroke-width="1.0" /><line x1="302.20" y1="118.90" x2="304.80" y2="118.90" stroke="#141414" stroke-width="1.0" /><line x1="302.20" y1="114.20" x2="304.80" y2="114.20" stroke="#141414" stroke-width="1.0" /><line x1="299.80" y1="109.50" x2="304.80" y2="109.50" stroke="#141414" stroke-width="1.0" /><line x1="302.20" y1="104.80" x2="304.80" y2="104.80" stroke="#141414" stroke-width="1.0" /><line x1="302.20" y1="100.10" x2="304.80" y2="100.10" stroke="#141414" stroke-width="1.0" /><line x1="302.20" y1="95.40" x2="304.80" y2="95.40" stroke="#141414" stroke-width="1.0" /><line x1="302.20" y1="90.70" x2="304.80" y2="90.70" stroke="#141414" stroke-width="1.0" /><line x1="299.80" y1="86.00" x2="304.80" y2="86.00" stroke="#141414" stroke-width="1.0" /><line x1="302.20" y1="81.30" x2="304.80" y2="81.30" stroke="#141414" stroke-width="1.0" /><line x1="302.20" y1="76.60" x2="304.80" y2="76.60" stroke="#141414" stroke-width="1.0" /><line x1="302.20" y1="71.90" x2="304.80" y2="71.90" stroke="#141414" stroke-width="1.0" /><line x1="302.20" y1="67.20" x2="304.80" y2="67.20" stroke="#141414" stroke-width="1.0" /><line x1="299.80" y1="62.50" x2="304.80" y2="62.50" stroke="#141414" stroke-width="1.0" /><line x1="302.20" y1="57.80" x2="304.80" y2="57.80" stroke="#141414" stroke-width="1.0" /><line x1="302.20" y1="53.10" x2="304.80" y2="53.10" stroke="#141414" stroke-width="1.0" /><line x1="302.20" y1="48.40" x2="304.80" y2="48.40" stroke="#141414" stroke-width="1.0" /><line x1="302.20" y1="43.70" x2="304.80" y2="43.70" stroke="#141414" stroke-width="1.0" /><line x1="299.80" y1="39.00" x2="304.80" y2="39.00" stroke="#141414" stroke-width="1.0" /><line x1="302.20" y1="34.30" x2="304.80" y2="34.30" stroke="#141414" stroke-width="1.0" /><line x1="304.80" y1="156.50" x2="304.80" y2="161.50" stroke="#141414" stroke-width="1.0" /><line x1="308.88" y1="156.50" x2="308.88" y2="159.10" stroke="#141414" stroke-width="1.0" /><line x1="312.96" y1="156.50" x2="312.96" y2="159.10" stroke="#141414" stroke-width="1.0" /><line x1="317.04" y1="156.50" x2="317.04" y2="159.10" stroke="#141414" stroke-width="1.0" /><line x1="321.12" y1="156.50" x2="321.12" y2="159.10" stroke="#141414" stroke-width="1.0" /><line x1="325.20" y1="156.50" x2="325.20" y2="161.50" stroke="#141414" stroke-width="1.0" /><line x1="329.28" y1="156.50" x2="329.28" y2="159.10" stroke="#141414" stroke-width="1.0" /><line x1="333.36" y1="156.50" x2="333.36" y2="159.10" stroke="#141414" stroke-width="1.0" /><line x1="337.44" y1="156.50" x2="337.44" y2="159.10" stroke="#141414" stroke-width="1.0" /><line x1="341.52" y1="156.50" x2="341.52" y2="159.10" stroke="#141414" stroke-width="1.0" /><line x1="345.60" y1="156.50" x2="345.60" y2="161.50" stroke="#141414" stroke-width="1.0" /><line x1="349.68" y1="156.50" x2="349.68" y2="159.10" stroke="#141414" stroke-width="1.0" /><line x1="353.76" y1="156.50" x2="353.76" y2="159.10" stroke="#141414" stroke-width="1.0" /><line x1="357.84" y1="156.50" x2="357.84" y2="159.10" stroke="#141414" stroke-width="1.0" /><line x1="361.92" y1="156.50" x2="361.92" y2="159.10" stroke="#141414" stroke-width="1.0" /><line x1="366.00" y1="156.50" x2="366.00" y2="161.50" stroke="#141414" stroke-width="1.0" /><line x1="370.08" y1="156.50" x2="370.08" y2="159.10" stroke="#141414" stroke-width="1.0" /><line x1="374.16" y1="156.50" x2="374.16" y2="159.10" stroke="#141414" stroke-width="1.0" /><line x1="378.24" y1="156.50" x2="378.24" y2="159.10" stroke="#141414" stroke-width="1.0" /><line x1="382.32" y1="156.50" x2="382.32" y2="159.10" stroke="#141414" stroke-width="1.0" /><line x1="386.40" y1="156.50" x2="386.40" y2="161.50" stroke="#141414" stroke-width="1.0" /><line x1="390.48" y1="156.50" x2="390.48" y2="159.10" stroke="#141414" stroke-width="1.0" /><line x1="394.56" y1="156.50" x2="394.56" y2="159.10" stroke="#141414" stroke-width="1.0" /><line x1="398.64" y1="156.50" x2="398.64" y2="159.10" stroke="#141414" stroke-width="1.0" /><line x1="402.72" y1="156.50" x2="402.72" y2="159.10" stroke="#141414" stroke-width="1.0" /><line x1="406.80" y1="156.50" x2="406.80" y2="161.50" stroke="#141414" stroke-width="1.0" /><line x1="410.88" y1="156.50" x2="410.88" y2="159.10" stroke="#141414" stroke-width="1.0" /><text transform="translate(86.45,25.80) scale(0.9934,1)" fill="#141414" stroke="#141414" stroke-width="0.12" ><tspan font-size="11.30">Plg</tspan><tspan font-size="8.14" dy="-3.84" dx="0.90">+</tspan><tspan font-size="8.14" dx="0.35">/</tspan><tspan font-size="8.14" dx="0.35">+</tspan></text><text transform="translate(216.50,25.80) scale(0.9908,1)" fill="#141414" stroke="#141414" stroke-width="0.12" ><tspan font-size="11.30">Plg</tspan><tspan font-size="8.14" dy="-3.84" dx="0.90">+</tspan><tspan font-size="8.14" dx="0.35">/</tspan><tspan font-size="8.14" dx="0.35">-</tspan></text><text transform="translate(346.20,25.80) scale(0.9683,1)" fill="#141414" stroke="#141414" stroke-width="0.12" ><tspan font-size="11.30">Plg</tspan><tspan font-size="8.14" dy="-3.84" dx="0.90">-</tspan><tspan font-size="8.14" dx="0.35">/</tspan><tspan font-size="8.14" dx="0.35">-</tspan></text><line x1="33.50" y1="45.20" x2="33.50" y2="118.00" stroke="#141414" stroke-width="1.25" /><path d="M33.50,34.20 L28.40,47.20 L33.50,45.00 L38.60,47.20 Z" fill="#141414"/><line x1="80.80" y1="173.80" x2="398.00" y2="173.80" stroke="#141414" stroke-width="1.25" /><path d="M409.20,173.80 L396.00,168.90 L398.20,173.80 L396.00,178.70 Z" fill="#141414"/><text transform="translate(37.90,162.80) rotate(-90) scale(0.7904,1)" fill="#141414" stroke="#141414" stroke-width="0.28" ><tspan font-size="14.20">SSC-A</tspan></text><text transform="translate(40.80,178.00) scale(0.8143,1)" fill="#141414" stroke="#141414" stroke-width="0.28" ><tspan font-size="14.00">FSC-A</tspan></text><text transform="translate(113.80,207.60) scale(1.0477,1)" fill="#141414" stroke="#141414" stroke-width="0.28" ><tspan font-size="10.60">Total Hematopoietic Cells</tspan></text><text transform="translate(130.40,221.90) scale(1.0653,1)" fill="#141414" stroke="#141414" stroke-width="0.28" ><tspan font-size="10.60">Live/Single/CD45</tspan><tspan font-size="8.60" dy="-4.00">+</tspan></text><line x1="48.00" y1="230.10" x2="306.50" y2="230.10" stroke="#141414" stroke-width="1.4" /><text transform="translate(72.25,249.60) scale(0.9934,1)" fill="#141414" stroke="#141414" stroke-width="0.12" ><tspan font-size="11.30">Plg</tspan><tspan font-size="8.14" dy="-3.84" dx="0.90">+</tspan><tspan font-size="8.14" dx="0.35">/</tspan><tspan font-size="8.14" dx="0.35">+</tspan></text><text transform="translate(174.30,249.60) scale(0.9908,1)" fill="#141414" stroke="#141414" stroke-width="0.12" ><tspan font-size="11.30">Plg</tspan><tspan font-size="8.14" dy="-3.84" dx="0.90">+</tspan><tspan font-size="8.14" dx="0.35">/</tspan><tspan font-size="8.14" dx="0.35">-</tspan></text><text transform="translate(276.60,249.60) scale(0.9683,1)" fill="#141414" stroke="#141414" stroke-width="0.12" ><tspan font-size="11.30">Plg</tspan><tspan font-size="8.14" dy="-3.84" dx="0.90">-</tspan><tspan font-size="8.14" dx="0.35">/</tspan><tspan font-size="8.14" dx="0.35">-</tspan></text><circle cx="66.23" cy="315.97" r="0.40" fill="#888"/><circle cx="76.62" cy="320.11" r="0.40" fill="#888"/><circle cx="96.74" cy="282.75" r="0.40" fill="#888"/><circle cx="48.54" cy="336.32" r="0.40" fill="#888"/><circle cx="67.91" cy="294.46" r="0.40" fill="#888"/><circle cx="125.86" cy="310.84" r="0.40" fill="#888"/><circle cx="113.33" cy="311.26" r="0.40" fill="#888"/><circle cx="97.79" cy="288.65" r="0.40" fill="#888"/><circle cx="97.46" cy="338.44" r="0.40" fill="#888"/><circle cx="88.67" cy="329.64" r="0.40" fill="#888"/><circle cx="100.34" cy="282.64" r="0.40" fill="#888"/><circle cx="107.17" cy="319.22" r="0.40" fill="#888"/><circle cx="71.21" cy="280.35" r="0.40" fill="#888"/><circle cx="115.62" cy="311.01" r="0.40" fill="#888"/><circle cx="104.07" cy="339.19" r="0.40" fill="#888"/><circle cx="103.70" cy="342.12" r="0.40" fill="#888"/><circle cx="78.58" cy="333.78" r="0.40" fill="#888"/><circle cx="82.49" cy="343.13" r="0.40" fill="#888"/><circle cx="116.67" cy="284.96" r="0.40" fill="#888"/><circle cx="58.20" cy="293.26" r="0.40" fill="#888"/><circle cx="123.48" cy="308.47" r="0.40" fill="#888"/><circle cx="96.82" cy="299.09" r="0.40" fill="#888"/><circle cx="87.42" cy="304.98" r="0.40" fill="#888"/><circle cx="75.12" cy="318.80" r="0.40" fill="#888"/><circle cx="93.48" cy="340.95" r="0.40" fill="#888"/><circle cx="101.17" cy="342.67" r="0.40" fill="#888"/><circle cx="114.90" cy="346.97" r="0.40" fill="#888"/><circle cx="100.33" cy="289.52" r="0.40" fill="#888"/><circle cx="115.23" cy="345.15" r="0.40" fill="#888"/><circle cx="118.70" cy="317.70" r="0.40" fill="#888"/><circle cx="103.68" cy="292.85" r="0.40" fill="#888"/><circle cx="112.95" cy="318.00" r="0.40" fill="#888"/><circle cx="69.93" cy="282.60" r="0.40" fill="#888"/><circle cx="114.71" cy="346.89" r="0.40" fill="#888"/><circle cx="54.47" cy="333.76" r="0.40" fill="#888"/><path d="M63.00,300.00 C63.92,294.33 64.17,288.83 68.00,286.00 C71.83,283.17 84.00,282.00 86.00,283.00 C88.00,284.00 82.00,288.83 80.00,292.00 C78.00,295.17 75.42,294.83 74.00,302.00 C72.58,309.17 72.00,328.17 71.50,335.00 C71.00,341.83 72.42,341.67 71.00,343.00 C69.58,344.33 64.42,346.83 63.00,343.00 C61.58,339.17 62.50,327.17 62.50,320.00 C62.50,312.83 62.08,305.67 63.00,300.00 Z" fill="#111" opacity="0.7" filter="url(#b05)"/><g filter="url(#spk1)"><path d="M61.00,288.00 C62.50,281.50 63.17,282.33 68.00,281.00 C72.83,279.67 84.50,279.67 90.00,280.00 C95.50,280.33 98.33,279.67 101.00,283.00 C103.67,286.33 105.00,292.17 106.00,300.00 C107.00,307.83 107.83,322.50 107.00,330.00 C106.17,337.50 106.33,342.33 101.00,345.00 C95.67,347.67 81.67,346.00 75.00,346.00 C68.33,346.00 63.67,349.33 61.00,345.00 C58.33,340.67 59.00,329.50 59.00,320.00 C59.00,310.50 59.50,294.50 61.00,288.00 Z" fill="#000" opacity="0.35"/><path d="M63.00,292.00 C64.33,286.00 65.17,285.50 70.00,284.00 C74.83,282.50 87.33,282.00 92.00,283.00 C96.67,284.00 96.67,283.83 98.00,290.00 C99.33,296.17 100.00,311.67 100.00,320.00 C100.00,328.33 101.33,336.00 98.00,340.00 C94.67,344.00 85.83,343.50 80.00,344.00 C74.17,344.50 66.00,347.00 63.00,343.00 C60.00,339.00 62.00,328.50 62.00,320.00 C62.00,311.50 61.67,298.00 63.00,292.00 Z" fill="#000" opacity="0.8"/><path d="M63.00,300.00 C64.33,294.17 66.17,287.83 70.00,285.00 C73.83,282.17 84.33,281.83 86.00,283.00 C87.67,284.17 82.17,288.83 80.00,292.00 C77.83,295.17 74.50,294.83 73.00,302.00 C71.50,309.17 71.50,328.17 71.00,335.00 C70.50,341.83 71.33,341.67 70.00,343.00 C68.67,344.33 64.33,346.83 63.00,343.00 C61.67,339.17 62.00,327.17 62.00,320.00 C62.00,312.83 61.67,305.83 63.00,300.00 Z" fill="#000" opacity="1"/></g><path d="M88.50,284.20 C89.58,283.87 90.50,284.20 91.50,285.00 C92.50,285.80 93.67,287.00 94.50,289.00 C95.33,291.00 95.92,294.00 96.50,297.00 C97.08,300.00 97.62,303.17 98.00,307.00 C98.38,310.83 98.88,316.00 98.80,320.00 C98.72,324.00 98.47,328.00 97.50,331.00 C96.53,334.00 95.08,336.50 93.00,338.00 C90.92,339.50 87.67,339.83 85.00,340.00 C82.33,340.17 79.00,339.83 77.00,339.00 C75.00,338.17 73.92,337.17 73.00,335.00 C72.08,332.83 71.70,329.17 71.50,326.00 C71.30,322.83 71.47,319.00 71.80,316.00 C72.13,313.00 72.63,310.67 73.50,308.00 C74.37,305.33 75.75,302.50 77.00,300.00 C78.25,297.50 79.67,295.17 81.00,293.00 C82.33,290.83 83.75,288.47 85.00,287.00 C86.25,285.53 87.42,284.53 88.50,284.20 Z" fill="#e6e6e6" stroke="#fafafa" stroke-width="1.0"/><path d="M88.48,285.39 C89.54,285.07 90.42,285.39 91.39,286.17 C92.36,286.95 93.50,288.11 94.31,290.05 C95.11,291.99 95.68,294.90 96.25,297.81 C96.81,300.72 97.33,303.79 97.70,307.51 C98.07,311.23 98.56,316.24 98.48,320.12 C98.40,324.00 98.15,327.88 97.22,330.79 C96.28,333.70 94.87,336.12 92.85,337.58 C90.83,339.03 87.68,339.36 85.09,339.52 C82.50,339.68 79.27,339.36 77.33,338.55 C75.39,337.74 74.34,336.77 73.45,334.67 C72.56,332.57 72.19,329.01 72.00,325.94 C71.80,322.87 71.96,319.15 72.29,316.24 C72.61,313.33 73.09,311.07 73.94,308.48 C74.78,305.89 76.12,303.15 77.33,300.72 C78.54,298.30 79.92,296.03 81.21,293.93 C82.50,291.83 83.88,289.53 85.09,288.11 C86.30,286.69 87.43,285.72 88.48,285.39 Z" fill="none" stroke="#7e7e7e" stroke-width="0.5"/><path d="M88.43,289.94 C89.35,289.66 90.14,289.94 91.00,290.63 C91.85,291.31 92.85,292.34 93.56,294.05 C94.28,295.76 94.77,298.33 95.27,300.90 C95.77,303.46 96.23,306.17 96.56,309.45 C96.89,312.73 97.31,317.15 97.24,320.58 C97.17,324.00 96.96,327.42 96.13,329.99 C95.30,332.56 94.06,334.70 92.28,335.98 C90.50,337.26 87.71,337.55 85.43,337.69 C83.15,337.83 80.30,337.55 78.59,336.84 C76.88,336.12 75.95,335.27 75.16,333.41 C74.38,331.56 74.05,328.42 73.88,325.71 C73.71,323.00 73.85,319.72 74.14,317.15 C74.42,314.59 74.85,312.59 75.59,310.31 C76.33,308.03 77.52,305.60 78.59,303.46 C79.66,301.32 80.87,299.33 82.01,297.47 C83.15,295.62 84.36,293.59 85.43,292.34 C86.50,291.08 87.50,290.23 88.43,289.94 Z" fill="none" stroke="#7e7e7e" stroke-width="0.5"/><path d="M88.37,294.49 C89.17,294.24 89.85,294.49 90.59,295.08 C91.34,295.68 92.20,296.57 92.82,298.05 C93.44,299.53 93.87,301.76 94.30,303.98 C94.73,306.21 95.13,308.55 95.41,311.40 C95.70,314.24 96.07,318.07 96.01,321.03 C95.95,324.00 95.76,326.97 95.04,329.19 C94.33,331.41 93.25,333.27 91.71,334.38 C90.16,335.49 87.75,335.74 85.78,335.86 C83.80,335.99 81.33,335.74 79.84,335.12 C78.36,334.50 77.56,333.76 76.88,332.16 C76.20,330.55 75.91,327.83 75.77,325.48 C75.62,323.13 75.74,320.29 75.99,318.07 C76.24,315.84 76.61,314.11 77.25,312.14 C77.89,310.16 78.92,308.06 79.84,306.21 C80.77,304.35 81.82,302.62 82.81,301.02 C83.80,299.41 84.85,297.65 85.78,296.57 C86.70,295.48 87.57,294.74 88.37,294.49 Z" fill="none" stroke="#7e7e7e" stroke-width="0.5"/><path d="M88.31,299.04 C88.99,298.83 89.57,299.04 90.19,299.54 C90.82,300.04 91.55,300.80 92.08,302.05 C92.60,303.30 92.96,305.19 93.33,307.07 C93.70,308.95 94.03,310.93 94.27,313.34 C94.51,315.74 94.83,318.98 94.77,321.49 C94.72,324.00 94.56,326.51 93.96,328.39 C93.35,330.27 92.44,331.84 91.14,332.78 C89.83,333.72 87.79,333.93 86.12,334.03 C84.45,334.14 82.36,333.93 81.10,333.41 C79.85,332.88 79.17,332.26 78.59,330.90 C78.02,329.54 77.78,327.24 77.65,325.25 C77.53,323.27 77.63,320.86 77.84,318.98 C78.05,317.10 78.36,315.64 78.91,313.97 C79.45,312.29 80.32,310.52 81.10,308.95 C81.89,307.38 82.77,305.92 83.61,304.56 C84.45,303.20 85.33,301.72 86.12,300.80 C86.90,299.88 87.63,299.25 88.31,299.04 Z" fill="none" stroke="#7e7e7e" stroke-width="0.5"/><path d="M88.26,303.59 C88.81,303.42 89.28,303.59 89.80,304.00 C90.31,304.41 90.91,305.02 91.33,306.05 C91.76,307.08 92.06,308.61 92.36,310.15 C92.66,311.69 92.93,313.32 93.13,315.28 C93.33,317.25 93.58,319.90 93.54,321.95 C93.50,324.00 93.37,326.05 92.87,327.59 C92.38,329.13 91.63,330.41 90.56,331.18 C89.50,331.95 87.83,332.12 86.46,332.21 C85.09,332.29 83.38,332.12 82.36,331.69 C81.33,331.27 80.78,330.75 80.31,329.64 C79.84,328.53 79.64,326.65 79.54,325.03 C79.44,323.40 79.52,321.44 79.69,319.90 C79.86,318.36 80.12,317.16 80.56,315.79 C81.01,314.43 81.72,312.97 82.36,311.69 C83.00,310.41 83.73,309.21 84.41,308.10 C85.09,306.99 85.82,305.78 86.46,305.02 C87.10,304.27 87.70,303.76 88.26,303.59 Z" fill="none" stroke="#7e7e7e" stroke-width="0.5"/><path d="M88.20,308.14 C88.63,308.00 89.00,308.14 89.39,308.46 C89.79,308.77 90.26,309.25 90.59,310.05 C90.92,310.85 91.16,312.04 91.39,313.24 C91.62,314.43 91.83,315.70 91.99,317.22 C92.14,318.75 92.34,320.81 92.30,322.41 C92.27,324.00 92.17,325.59 91.79,326.79 C91.40,327.99 90.82,328.98 89.99,329.58 C89.16,330.18 87.87,330.31 86.80,330.38 C85.74,330.44 84.41,330.31 83.62,329.98 C82.82,329.65 82.39,329.25 82.02,328.38 C81.66,327.52 81.50,326.06 81.42,324.80 C81.34,323.53 81.41,322.01 81.54,320.81 C81.68,319.62 81.88,318.69 82.22,317.62 C82.57,316.56 83.12,315.43 83.62,314.43 C84.11,313.44 84.68,312.51 85.21,311.64 C85.74,310.78 86.31,309.84 86.80,309.25 C87.30,308.67 87.77,308.27 88.20,308.14 Z" fill="none" stroke="#7e7e7e" stroke-width="0.5"/><path d="M88.14,312.69 C88.45,312.59 88.71,312.69 89.00,312.91 C89.28,313.14 89.61,313.48 89.85,314.05 C90.08,314.62 90.25,315.47 90.42,316.32 C90.58,317.18 90.73,318.08 90.84,319.17 C90.95,320.26 91.09,321.73 91.07,322.86 C91.05,324.00 90.98,325.14 90.70,325.99 C90.43,326.84 90.01,327.55 89.42,327.98 C88.83,328.41 87.91,328.50 87.15,328.55 C86.39,328.60 85.44,328.50 84.87,328.26 C84.30,328.03 84.00,327.74 83.74,327.13 C83.48,326.51 83.37,325.47 83.31,324.57 C83.25,323.67 83.30,322.58 83.39,321.73 C83.49,320.87 83.63,320.21 83.88,319.45 C84.12,318.69 84.52,317.89 84.87,317.18 C85.23,316.47 85.63,315.80 86.01,315.19 C86.39,314.57 86.79,313.90 87.15,313.48 C87.50,313.06 87.83,312.78 88.14,312.69 Z" fill="none" stroke="#7e7e7e" stroke-width="0.5"/><path d="M64.00,330.00 C64.92,328.58 66.92,327.00 68.00,327.50 C69.08,328.00 70.33,330.75 70.50,333.00 C70.67,335.25 70.08,339.58 69.00,341.00 C67.92,342.42 65.08,342.33 64.00,341.50 C62.92,340.67 62.50,337.92 62.50,336.00 C62.50,334.08 63.08,331.42 64.00,330.00 Z" fill="#e6e6e6" stroke="#fafafa" stroke-width="1.0"/><path d="M64.06,330.18 C64.95,328.81 66.89,327.27 67.94,327.75 C68.99,328.24 70.20,330.91 70.36,333.09 C70.53,335.27 69.96,339.48 68.91,340.85 C67.86,342.22 65.11,342.14 64.06,341.33 C63.01,340.53 62.60,337.86 62.60,336.00 C62.60,334.14 63.17,331.55 64.06,330.18 Z" fill="none" stroke="#7e7e7e" stroke-width="0.5"/><path d="M64.59,331.78 C65.24,330.78 66.64,329.67 67.41,330.02 C68.17,330.37 69.05,332.31 69.17,333.89 C69.28,335.47 68.87,338.52 68.11,339.52 C67.35,340.51 65.36,340.45 64.59,339.87 C63.83,339.28 63.54,337.35 63.54,336.00 C63.54,334.65 63.95,332.78 64.59,331.78 Z" fill="none" stroke="#7e7e7e" stroke-width="0.5"/><path d="M65.13,333.38 C65.53,332.76 66.40,332.07 66.87,332.29 C67.35,332.51 67.89,333.71 67.97,334.69 C68.04,335.67 67.78,337.56 67.31,338.18 C66.84,338.80 65.60,338.77 65.13,338.40 C64.65,338.04 64.47,336.84 64.47,336.00 C64.47,335.16 64.73,334.00 65.13,333.38 Z" fill="none" stroke="#7e7e7e" stroke-width="0.5"/><path d="M71.5,279.3 L102.5,278.5 L109.3,314.0 L109.2,346.6 L71.8,350.4 Z" fill="none" stroke="#555" stroke-width="0.8"/><text transform="translate(74.10,276.20) scale(0.9201,1)" fill="#141414" stroke="#141414" stroke-width="0.28" ><tspan font-size="10.80">0.71x10</tspan><tspan font-size="7.40" dy="-4.60" dx="0.60">6</tspan></text><circle cx="166.94" cy="285.36" r="0.40" fill="#888"/><circle cx="179.65" cy="288.96" r="0.40" fill="#888"/><circle cx="153.48" cy="306.07" r="0.40" fill="#888"/><circle cx="221.09" cy="333.75" r="0.40" fill="#888"/><circle cx="208.95" cy="293.60" r="0.40" fill="#888"/><circle cx="190.81" cy="297.40" r="0.40" fill="#888"/><circle cx="161.91" cy="285.57" r="0.40" fill="#888"/><circle cx="165.22" cy="342.57" r="0.40" fill="#888"/><circle cx="214.02" cy="334.18" r="0.40" fill="#888"/><circle cx="211.76" cy="291.62" r="0.40" fill="#888"/><circle cx="172.80" cy="321.71" r="0.40" fill="#888"/><circle cx="206.31" cy="337.51" r="0.40" fill="#888"/><circle cx="218.08" cy="284.22" r="0.40" fill="#888"/><circle cx="196.30" cy="324.82" r="0.40" fill="#888"/><circle cx="188.37" cy="290.54" r="0.40" fill="#888"/><circle cx="185.80" cy="284.40" r="0.40" fill="#888"/><circle cx="222.41" cy="338.26" r="0.40" fill="#888"/><circle cx="191.68" cy="299.04" r="0.40" fill="#888"/><circle cx="220.36" cy="317.92" r="0.40" fill="#888"/><circle cx="218.26" cy="337.05" r="0.40" fill="#888"/><circle cx="188.56" cy="306.93" r="0.40" fill="#888"/><circle cx="195.75" cy="308.11" r="0.40" fill="#888"/><circle cx="161.01" cy="299.37" r="0.40" fill="#888"/><circle cx="212.72" cy="281.20" r="0.40" fill="#888"/><circle cx="151.88" cy="321.67" r="0.40" fill="#888"/><g filter="url(#spk2)"><path d="M146,281 L165,281 L165,343.5 L146,343.5 Z" fill="#000" opacity="0.3"/><path d="M159.00,284.00 C161.17,277.58 164.83,281.92 170.00,281.50 C175.17,281.08 184.83,280.42 190.00,281.50 C195.17,282.58 198.50,281.58 201.00,288.00 C203.50,294.42 204.67,311.17 205.00,320.00 C205.33,328.83 206.33,337.08 203.00,341.00 C199.67,344.92 192.17,343.08 185.00,343.50 C177.83,343.92 164.67,347.42 160.00,343.50 C155.33,339.58 157.17,329.92 157.00,320.00 C156.83,310.08 156.83,290.42 159.00,284.00 Z" fill="#000" opacity="0.55"/><path d="M162.00,286.00 C163.83,279.75 168.00,283.00 172.00,282.50 C176.00,282.00 183.33,279.08 186.00,283.00 C188.67,286.92 185.67,301.50 188.00,306.00 C190.33,310.50 197.67,306.83 200.00,310.00 C202.33,313.17 202.00,319.83 202.00,325.00 C202.00,330.17 202.83,338.00 200.00,341.00 C197.17,344.00 191.33,342.67 185.00,343.00 C178.67,343.33 166.00,346.83 162.00,343.00 C158.00,339.17 161.00,329.50 161.00,320.00 C161.00,310.50 160.17,292.25 162.00,286.00 Z" fill="#000" opacity="0.7"/></g><path d="M179.00,283.50 C180.92,283.33 183.75,283.58 185.00,286.00 C186.25,288.42 186.17,294.67 186.50,298.00 C186.83,301.33 185.42,304.00 187.00,306.00 C188.58,308.00 193.75,307.67 196.00,310.00 C198.25,312.33 199.92,316.17 200.50,320.00 C201.08,323.83 200.75,329.58 199.50,333.00 C198.25,336.42 196.25,339.08 193.00,340.50 C189.75,341.92 183.33,341.58 180.00,341.50 C176.67,341.42 174.42,342.75 173.00,340.00 C171.58,337.25 171.67,331.67 171.50,325.00 C171.33,318.33 171.67,306.33 172.00,300.00 C172.33,293.67 172.33,289.75 173.50,287.00 C174.67,284.25 177.08,283.67 179.00,283.50 Z" fill="#e6e6e6" stroke="#fafafa" stroke-width="1.0"/><path d="M173.57,312.36 C175.91,309.45 182.46,307.83 186.18,307.51 C189.90,307.19 193.54,308.32 195.88,310.42 C198.22,312.52 199.68,316.40 200.25,320.12 C200.81,323.84 200.49,329.42 199.28,332.73 C198.06,336.04 196.12,338.63 192.97,340.00 C189.82,341.38 183.59,341.06 180.36,340.98 C177.13,340.89 174.94,342.19 173.57,339.52 C172.20,336.85 172.12,329.50 172.12,324.97 C172.12,320.44 171.23,315.27 173.57,312.36 Z" fill="none" stroke="#7e7e7e" stroke-width="0.5"/><path d="M175.66,313.68 C177.74,311.10 183.54,309.67 186.84,309.38 C190.14,309.09 193.36,310.10 195.44,311.96 C197.52,313.82 198.81,317.26 199.31,320.56 C199.81,323.86 199.52,328.80 198.45,331.74 C197.38,334.68 195.66,336.97 192.86,338.19 C190.07,339.41 184.55,339.12 181.68,339.05 C178.81,338.98 176.88,340.12 175.66,337.76 C174.44,335.39 174.37,328.87 174.37,324.86 C174.37,320.85 173.58,316.26 175.66,313.68 Z" fill="none" stroke="#7e7e7e" stroke-width="0.5"/><path d="M177.75,315.00 C179.56,312.75 184.62,311.50 187.50,311.25 C190.38,311.00 193.19,311.88 195.00,313.50 C196.81,315.12 197.94,318.12 198.38,321.00 C198.81,323.88 198.56,328.19 197.62,330.75 C196.69,333.31 195.19,335.31 192.75,336.38 C190.31,337.44 185.50,337.19 183.00,337.12 C180.50,337.06 178.81,338.06 177.75,336.00 C176.69,333.94 176.62,328.25 176.62,324.75 C176.62,321.25 175.94,317.25 177.75,315.00 Z" fill="none" stroke="#7e7e7e" stroke-width="0.5"/><path d="M179.84,316.32 C181.39,314.40 185.71,313.33 188.16,313.12 C190.61,312.91 193.01,313.65 194.56,315.04 C196.11,316.43 197.07,318.99 197.44,321.44 C197.81,323.89 197.60,327.57 196.80,329.76 C196.00,331.95 194.72,333.65 192.64,334.56 C190.56,335.47 186.45,335.25 184.32,335.20 C182.19,335.15 180.75,336.00 179.84,334.24 C178.93,332.48 178.88,327.63 178.88,324.64 C178.88,321.65 178.29,318.24 179.84,316.32 Z" fill="none" stroke="#7e7e7e" stroke-width="0.5"/><path d="M181.93,317.64 C183.21,316.05 186.79,315.17 188.82,314.99 C190.85,314.81 192.84,315.43 194.12,316.58 C195.40,317.73 196.20,319.85 196.50,321.88 C196.81,323.91 196.64,326.96 195.97,328.77 C195.31,330.58 194.25,331.99 192.53,332.75 C190.81,333.50 187.41,333.32 185.64,333.27 C183.87,333.23 182.68,333.94 181.93,332.48 C181.18,331.02 181.13,327.00 181.13,324.53 C181.13,322.06 180.65,319.23 181.93,317.64 Z" fill="none" stroke="#7e7e7e" stroke-width="0.5"/><path d="M184.02,318.96 C185.04,317.70 187.87,317.00 189.48,316.86 C191.09,316.72 192.67,317.21 193.68,318.12 C194.69,319.03 195.32,320.71 195.57,322.32 C195.81,323.93 195.68,326.34 195.15,327.78 C194.62,329.21 193.78,330.33 192.42,330.93 C191.05,331.53 188.36,331.38 186.96,331.35 C185.56,331.32 184.62,331.88 184.02,330.72 C183.43,329.57 183.39,326.38 183.39,324.42 C183.39,322.46 183.00,320.22 184.02,318.96 Z" fill="none" stroke="#7e7e7e" stroke-width="0.5"/><path d="M186.11,320.28 C186.86,319.35 188.95,318.83 190.14,318.73 C191.33,318.63 192.49,318.99 193.24,319.66 C193.99,320.33 194.45,321.57 194.63,322.76 C194.82,323.95 194.71,325.73 194.32,326.79 C193.94,327.85 193.32,328.68 192.31,329.12 C191.30,329.55 189.31,329.45 188.28,329.43 C187.25,329.40 186.55,329.81 186.11,328.96 C185.67,328.11 185.65,325.76 185.65,324.31 C185.65,322.86 185.36,321.21 186.11,320.28 Z" fill="none" stroke="#7e7e7e" stroke-width="0.5"/><path d="M188.20,321.60 C188.68,321.00 190.03,320.67 190.80,320.60 C191.57,320.53 192.32,320.77 192.80,321.20 C193.28,321.63 193.58,322.43 193.70,323.20 C193.82,323.97 193.75,325.12 193.50,325.80 C193.25,326.48 192.85,327.02 192.20,327.30 C191.55,327.58 190.27,327.52 189.60,327.50 C188.93,327.48 188.48,327.75 188.20,327.20 C187.92,326.65 187.90,325.13 187.90,324.20 C187.90,323.27 187.72,322.20 188.20,321.60 Z" fill="none" stroke="#7e7e7e" stroke-width="0.5"/><path d="M173.80,287.35 C174.91,285.53 177.20,284.18 179.03,284.02 C180.85,283.87 183.54,284.10 184.72,286.40 C185.91,288.70 185.99,294.32 186.15,297.80 C186.31,301.28 186.70,304.93 185.68,307.30 C184.65,309.68 182.11,312.37 179.97,312.05 C177.84,311.73 174.12,308.25 172.85,305.40 C171.58,302.55 172.22,297.96 172.38,294.95 C172.53,291.94 172.69,289.17 173.80,287.35 Z" fill="none" stroke="#7e7e7e" stroke-width="0.5"/><path d="M174.82,288.54 C175.73,287.05 177.62,285.94 179.11,285.81 C180.61,285.68 182.81,285.88 183.79,287.76 C184.76,289.64 184.83,294.26 184.96,297.12 C185.09,299.98 185.41,302.97 184.57,304.92 C183.72,306.87 181.64,309.08 179.89,308.82 C178.13,308.56 175.08,305.70 174.04,303.36 C173.00,301.02 173.52,297.25 173.65,294.78 C173.78,292.31 173.91,290.04 174.82,288.54 Z" fill="none" stroke="#7e7e7e" stroke-width="0.5"/><path d="M175.84,289.73 C176.55,288.56 178.03,287.70 179.19,287.60 C180.36,287.49 182.09,287.65 182.85,289.12 C183.62,290.59 183.67,294.20 183.77,296.44 C183.87,298.68 184.13,301.02 183.47,302.54 C182.80,304.06 181.18,305.79 179.81,305.59 C178.43,305.39 176.04,303.15 175.23,301.32 C174.42,299.49 174.82,296.54 174.93,294.61 C175.03,292.68 175.13,290.90 175.84,289.73 Z" fill="none" stroke="#7e7e7e" stroke-width="0.5"/><path d="M176.86,290.92 C177.37,290.08 178.44,289.45 179.28,289.38 C180.12,289.31 181.37,289.42 181.92,290.48 C182.47,291.54 182.51,294.15 182.58,295.76 C182.65,297.37 182.84,299.06 182.36,300.16 C181.88,301.26 180.71,302.51 179.72,302.36 C178.73,302.21 177.01,300.60 176.42,299.28 C175.83,297.96 176.13,295.83 176.20,294.44 C176.27,293.05 176.35,291.76 176.86,290.92 Z" fill="none" stroke="#7e7e7e" stroke-width="0.5"/><path d="M177.88,292.11 C178.19,291.59 178.85,291.21 179.37,291.17 C179.88,291.12 180.65,291.19 180.99,291.84 C181.32,292.49 181.34,294.09 181.39,295.08 C181.43,296.07 181.55,297.10 181.25,297.78 C180.96,298.45 180.24,299.22 179.63,299.13 C179.03,299.04 177.97,298.05 177.61,297.24 C177.25,296.43 177.43,295.12 177.47,294.27 C177.52,293.41 177.56,292.63 177.88,292.11 Z" fill="none" stroke="#7e7e7e" stroke-width="0.5"/><path d="M163.00,336.00 C164.17,335.25 166.67,334.17 168.00,334.50 C169.33,334.83 170.83,336.67 171.00,338.00 C171.17,339.33 170.33,341.75 169.00,342.50 C167.67,343.25 164.33,343.08 163.00,342.50 C161.67,341.92 161.00,340.08 161.00,339.00 C161.00,337.92 161.83,336.75 163.00,336.00 Z" fill="#e6e6e6" stroke="#fafafa" stroke-width="1.0"/><path d="M163.09,336.09 C164.22,335.36 166.65,334.31 167.94,334.63 C169.23,334.96 170.69,336.74 170.85,338.03 C171.01,339.32 170.20,341.67 168.91,342.39 C167.62,343.12 164.38,342.96 163.09,342.39 C161.80,341.83 161.15,340.05 161.15,339.00 C161.15,337.95 161.96,336.82 163.09,336.09 Z" fill="none" stroke="#7e7e7e" stroke-width="0.5"/><path d="M163.89,336.89 C164.71,336.36 166.47,335.60 167.41,335.83 C168.34,336.07 169.40,337.36 169.52,338.30 C169.63,339.23 169.05,340.93 168.11,341.46 C167.17,341.99 164.83,341.87 163.89,341.46 C162.95,341.05 162.48,339.76 162.48,339.00 C162.48,338.24 163.07,337.42 163.89,336.89 Z" fill="none" stroke="#7e7e7e" stroke-width="0.5"/><path d="M164.69,337.69 C165.20,337.36 166.29,336.89 166.87,337.04 C167.46,337.18 168.11,337.98 168.18,338.56 C168.26,339.15 167.89,340.20 167.31,340.53 C166.73,340.86 165.27,340.78 164.69,340.53 C164.11,340.27 163.82,339.47 163.82,339.00 C163.82,338.53 164.18,338.02 164.69,337.69 Z" fill="none" stroke="#7e7e7e" stroke-width="0.5"/><path d="M172.1,278.9 L203.5,278.4 L209.9,313.2 L209.4,346.6 L172.6,350.0 Z" fill="none" stroke="#555" stroke-width="0.8"/><text transform="translate(170.10,273.90) scale(0.9108,1)" fill="#141414" stroke="#141414" stroke-width="0.28" ><tspan font-size="10.80">0.59x10</tspan><tspan font-size="7.40" dy="-4.60" dx="0.60">6</tspan></text><circle cx="298.12" cy="329.68" r="0.40" fill="#888"/><circle cx="311.82" cy="343.61" r="0.40" fill="#888"/><circle cx="307.42" cy="342.21" r="0.40" fill="#888"/><circle cx="250.91" cy="310.51" r="0.40" fill="#888"/><circle cx="323.60" cy="323.24" r="0.40" fill="#888"/><circle cx="320.22" cy="286.06" r="0.40" fill="#888"/><circle cx="285.89" cy="295.31" r="0.40" fill="#888"/><circle cx="291.83" cy="318.03" r="0.40" fill="#888"/><circle cx="249.64" cy="293.24" r="0.40" fill="#888"/><circle cx="270.82" cy="341.79" r="0.40" fill="#888"/><circle cx="309.48" cy="289.28" r="0.40" fill="#888"/><circle cx="311.97" cy="287.83" r="0.40" fill="#888"/><circle cx="297.69" cy="286.99" r="0.40" fill="#888"/><circle cx="248.74" cy="338.68" r="0.40" fill="#888"/><circle cx="265.25" cy="293.15" r="0.40" fill="#888"/><circle cx="326.70" cy="338.75" r="0.40" fill="#888"/><circle cx="271.60" cy="344.93" r="0.40" fill="#888"/><circle cx="291.47" cy="325.24" r="0.40" fill="#888"/><circle cx="264.88" cy="343.50" r="0.40" fill="#888"/><circle cx="303.51" cy="345.28" r="0.40" fill="#888"/><circle cx="319.65" cy="298.94" r="0.40" fill="#888"/><circle cx="277.31" cy="289.72" r="0.40" fill="#888"/><circle cx="260.18" cy="282.72" r="0.40" fill="#888"/><circle cx="272.56" cy="320.06" r="0.40" fill="#888"/><circle cx="248.87" cy="325.25" r="0.40" fill="#888"/><g filter="url(#spk3)"><path d="M263.00,285.00 C264.83,278.67 266.67,282.50 272.00,282.00 C277.33,281.50 289.67,280.67 295.00,282.00 C300.33,283.33 302.33,283.67 304.00,290.00 C305.67,296.33 305.50,311.50 305.00,320.00 C304.50,328.50 305.17,337.25 301.00,341.00 C296.83,344.75 286.33,342.25 280.00,342.50 C273.67,342.75 266.17,346.25 263.00,342.50 C259.83,338.75 261.00,329.58 261.00,320.00 C261.00,310.42 261.17,291.33 263.00,285.00 Z" fill="#000" opacity="0.4"/><path d="M264.00,286.00 C266.00,279.83 271.17,283.33 275.00,283.00 C278.83,282.67 286.00,281.17 287.00,284.00 C288.00,286.83 282.50,292.33 281.00,300.00 C279.50,307.67 278.83,323.17 278.00,330.00 C277.17,336.83 278.33,339.17 276.00,341.00 C273.67,342.83 266.17,344.50 264.00,341.00 C261.83,337.50 263.00,329.17 263.00,320.00 C263.00,310.83 262.00,292.17 264.00,286.00 Z" fill="#000" opacity="0.6"/><path d="M264,283 L300,283 L300,290 L264,290 Z" fill="#000" opacity="0.3"/></g><path d="M284.00,286.50 C286.25,285.50 289.00,287.42 291.00,290.00 C293.00,292.58 294.50,297.33 296.00,302.00 C297.50,306.67 299.42,313.17 300.00,318.00 C300.58,322.83 300.67,327.92 299.50,331.00 C298.33,334.08 295.58,335.67 293.00,336.50 C290.42,337.33 286.50,337.42 284.00,336.00 C281.50,334.58 279.33,332.00 278.00,328.00 C276.67,324.00 276.08,317.33 276.00,312.00 C275.92,306.67 276.17,300.25 277.50,296.00 C278.83,291.75 281.75,287.50 284.00,286.50 Z" fill="#e6e6e6" stroke="#fafafa" stroke-width="1.0"/><path d="M284.12,287.36 C286.30,286.38 288.97,288.24 290.91,290.75 C292.85,293.26 294.31,297.86 295.76,302.39 C297.21,306.92 299.07,313.22 299.64,317.91 C300.21,322.60 300.29,327.53 299.15,330.52 C298.02,333.51 295.36,335.05 292.85,335.86 C290.34,336.66 286.55,336.74 284.12,335.37 C281.69,334.00 279.59,331.49 278.30,327.61 C277.01,323.73 276.44,317.26 276.36,312.09 C276.28,306.92 276.52,300.69 277.81,296.57 C279.11,292.45 281.94,288.33 284.12,287.36 Z" fill="none" stroke="#7e7e7e" stroke-width="0.5"/><path d="M284.52,290.20 C286.48,289.33 288.87,291.00 290.61,293.25 C292.35,295.50 293.65,299.63 294.96,303.69 C296.26,307.75 297.93,313.41 298.44,317.61 C298.95,321.81 299.02,326.24 298.00,328.92 C296.99,331.60 294.60,332.98 292.35,333.70 C290.10,334.43 286.69,334.50 284.52,333.27 C282.34,332.04 280.46,329.79 279.30,326.31 C278.14,322.83 277.63,317.03 277.56,312.39 C277.49,307.75 277.71,302.17 278.87,298.47 C280.02,294.77 282.56,291.07 284.52,290.20 Z" fill="none" stroke="#7e7e7e" stroke-width="0.5"/><path d="M284.92,293.06 C286.65,292.29 288.77,293.76 290.31,295.75 C291.85,297.74 293.00,301.40 294.16,304.99 C295.32,308.58 296.79,313.59 297.24,317.31 C297.69,321.03 297.75,324.95 296.86,327.32 C295.96,329.69 293.84,330.91 291.85,331.56 C289.86,332.20 286.85,332.26 284.92,331.17 C283.00,330.08 281.33,328.09 280.30,325.01 C279.27,321.93 278.82,316.80 278.76,312.69 C278.70,308.58 278.89,303.64 279.92,300.37 C280.94,297.10 283.19,293.82 284.92,293.06 Z" fill="none" stroke="#7e7e7e" stroke-width="0.5"/><path d="M285.32,295.90 C286.83,295.23 288.67,296.52 290.01,298.25 C291.35,299.98 292.36,303.16 293.36,306.29 C294.37,309.42 295.65,313.77 296.04,317.01 C296.43,320.25 296.49,323.65 295.70,325.72 C294.92,327.79 293.08,328.85 291.35,329.40 C289.62,329.96 287.00,330.02 285.32,329.07 C283.64,328.12 282.19,326.39 281.30,323.71 C280.41,321.03 280.02,316.56 279.96,312.99 C279.90,309.42 280.07,305.12 280.96,302.27 C281.86,299.42 283.81,296.57 285.32,295.90 Z" fill="none" stroke="#7e7e7e" stroke-width="0.5"/><path d="M285.72,298.75 C287.00,298.19 288.57,299.28 289.71,300.75 C290.85,302.22 291.70,304.93 292.56,307.59 C293.42,310.25 294.51,313.95 294.84,316.71 C295.17,319.46 295.22,322.36 294.56,324.12 C293.89,325.88 292.32,326.78 290.85,327.25 C289.38,327.73 287.15,327.78 285.72,326.97 C284.30,326.16 283.06,324.69 282.30,322.41 C281.54,320.13 281.21,316.33 281.16,313.29 C281.11,310.25 281.25,306.59 282.01,304.17 C282.77,301.75 284.44,299.32 285.72,298.75 Z" fill="none" stroke="#7e7e7e" stroke-width="0.5"/><path d="M286.12,301.61 C287.18,301.13 288.47,302.04 289.41,303.25 C290.35,304.46 291.06,306.70 291.76,308.89 C292.46,311.08 293.37,314.14 293.64,316.41 C293.91,318.68 293.95,321.07 293.40,322.52 C292.86,323.97 291.56,324.71 290.35,325.11 C289.14,325.50 287.30,325.54 286.12,324.87 C284.94,324.20 283.93,322.99 283.30,321.11 C282.67,319.23 282.40,316.10 282.36,313.59 C282.32,311.08 282.44,308.07 283.06,306.07 C283.69,304.07 285.06,302.08 286.12,301.61 Z" fill="none" stroke="#7e7e7e" stroke-width="0.5"/><path d="M286.52,304.45 C287.35,304.08 288.37,304.79 289.11,305.75 C289.85,306.71 290.40,308.46 290.96,310.19 C291.51,311.92 292.22,314.32 292.44,316.11 C292.66,317.90 292.69,319.78 292.25,320.92 C291.82,322.06 290.81,322.65 289.85,322.95 C288.89,323.26 287.44,323.29 286.52,322.77 C285.59,322.25 284.79,321.29 284.30,319.81 C283.81,318.33 283.59,315.86 283.56,313.89 C283.53,311.92 283.62,309.54 284.12,307.97 C284.61,306.40 285.69,304.82 286.52,304.45 Z" fill="none" stroke="#7e7e7e" stroke-width="0.5"/><path d="M286.92,307.31 C287.53,307.04 288.27,307.55 288.81,308.25 C289.35,308.95 289.75,310.23 290.16,311.49 C290.57,312.75 291.08,314.50 291.24,315.81 C291.40,317.12 291.42,318.49 291.11,319.32 C290.79,320.15 290.05,320.58 289.35,320.81 C288.65,321.03 287.60,321.05 286.92,320.67 C286.25,320.29 285.66,319.59 285.30,318.51 C284.94,317.43 284.78,315.63 284.76,314.19 C284.74,312.75 284.81,311.02 285.17,309.87 C285.53,308.72 286.31,307.57 286.92,307.31 Z" fill="none" stroke="#7e7e7e" stroke-width="0.5"/><ellipse cx="285.1" cy="303.2" rx="4.20" ry="5.04" fill="none" stroke="#666" stroke-width="0.5"/><ellipse cx="285.1" cy="303.2" rx="3.28" ry="3.93" fill="none" stroke="#666" stroke-width="0.5"/><ellipse cx="285.1" cy="303.2" rx="2.35" ry="2.82" fill="none" stroke="#666" stroke-width="0.5"/><ellipse cx="285.1" cy="303.2" rx="1.43" ry="1.71" fill="none" stroke="#666" stroke-width="0.5"/><ellipse cx="294.3" cy="320.7" rx="4.80" ry="5.76" fill="none" stroke="#666" stroke-width="0.5"/><ellipse cx="294.3" cy="320.7" rx="3.74" ry="4.49" fill="none" stroke="#666" stroke-width="0.5"/><ellipse cx="294.3" cy="320.7" rx="2.69" ry="3.23" fill="none" stroke="#666" stroke-width="0.5"/><ellipse cx="294.3" cy="320.7" rx="1.63" ry="1.96" fill="none" stroke="#666" stroke-width="0.5"/><ellipse cx="288" cy="312" rx="2.40" ry="2.88" fill="none" stroke="#666" stroke-width="0.5"/><ellipse cx="288" cy="312" rx="1.87" ry="2.25" fill="none" stroke="#666" stroke-width="0.5"/><ellipse cx="288" cy="312" rx="1.34" ry="1.61" fill="none" stroke="#666" stroke-width="0.5"/><ellipse cx="288" cy="312" rx="0.82" ry="0.98" fill="none" stroke="#666" stroke-width="0.5"/><path d="M266.00,337.00 C266.83,336.08 270.00,335.83 272.00,336.00 C274.00,336.17 277.33,337.08 278.00,338.00 C278.67,338.92 277.83,340.92 276.00,341.50 C274.17,342.08 268.67,342.25 267.00,341.50 C265.33,340.75 265.17,337.92 266.00,337.00 Z" fill="#f4f4f4" stroke="#777" stroke-width="0.5"/><path d="M272.6,279.4 L303.5,278.9 L310.6,314.9 L310.2,346.6 L273.4,350.0 Z" fill="none" stroke="#555" stroke-width="0.8"/><text transform="translate(269.70,273.90) scale(0.9201,1)" fill="#141414" stroke="#141414" stroke-width="0.28" ><tspan font-size="10.80">0.26x10</tspan><tspan font-size="7.40" dy="-4.60" dx="0.60">6</tspan></text><rect x="44.50" y="258.20" width="84.70" height="97.40" fill="none" stroke="#141414" stroke-width="1.3" /><line x1="49.58" y1="355.60" x2="49.58" y2="357.80" stroke="#141414" stroke-width="0.95" /><line x1="51.28" y1="355.60" x2="51.28" y2="357.80" stroke="#141414" stroke-width="0.95" /><line x1="52.97" y1="355.60" x2="52.97" y2="357.80" stroke="#141414" stroke-width="0.95" /><line x1="54.66" y1="355.60" x2="54.66" y2="357.80" stroke="#141414" stroke-width="0.95" /><line x1="56.36" y1="355.60" x2="56.36" y2="357.80" stroke="#141414" stroke-width="0.95" /><line x1="58.05" y1="355.60" x2="58.05" y2="357.80" stroke="#141414" stroke-width="0.95" /><line x1="59.75" y1="355.60" x2="59.75" y2="357.80" stroke="#141414" stroke-width="0.95" /><line x1="61.44" y1="355.60" x2="61.44" y2="357.80" stroke="#141414" stroke-width="0.95" /><line x1="63.13" y1="355.60" x2="63.13" y2="359.20" stroke="#141414" stroke-width="0.95" /><line x1="64.83" y1="355.60" x2="64.83" y2="357.80" stroke="#141414" stroke-width="0.95" /><line x1="66.52" y1="355.60" x2="66.52" y2="357.80" stroke="#141414" stroke-width="0.95" /><line x1="68.22" y1="355.60" x2="68.22" y2="357.80" stroke="#141414" stroke-width="0.95" /><line x1="69.91" y1="355.60" x2="69.91" y2="357.80" stroke="#141414" stroke-width="0.95" /><line x1="71.60" y1="355.60" x2="71.60" y2="357.80" stroke="#141414" stroke-width="0.95" /><line x1="73.30" y1="355.60" x2="73.30" y2="357.80" stroke="#141414" stroke-width="0.95" /><line x1="74.99" y1="355.60" x2="74.99" y2="357.80" stroke="#141414" stroke-width="0.95" /><line x1="76.69" y1="355.60" x2="76.69" y2="357.80" stroke="#141414" stroke-width="0.95" /><line x1="61.86" y1="356.80" x2="64.40" y2="356.80" stroke="#141414" stroke-width="2.2" /><line x1="84.31" y1="355.60" x2="84.31" y2="359.20" stroke="#141414" stroke-width="0.95" /><line x1="90.68" y1="355.60" x2="90.68" y2="357.80" stroke="#141414" stroke-width="0.95" /><line x1="94.41" y1="355.60" x2="94.41" y2="357.80" stroke="#141414" stroke-width="0.95" /><line x1="97.06" y1="355.60" x2="97.06" y2="357.80" stroke="#141414" stroke-width="0.95" /><line x1="99.11" y1="355.60" x2="99.11" y2="357.80" stroke="#141414" stroke-width="0.95" /><line x1="100.79" y1="355.60" x2="100.79" y2="357.80" stroke="#141414" stroke-width="0.95" /><line x1="102.20" y1="355.60" x2="102.20" y2="357.80" stroke="#141414" stroke-width="0.95" /><line x1="103.43" y1="355.60" x2="103.43" y2="357.80" stroke="#141414" stroke-width="0.95" /><line x1="104.52" y1="355.60" x2="104.52" y2="357.80" stroke="#141414" stroke-width="0.95" /><line x1="105.48" y1="355.60" x2="105.48" y2="359.20" stroke="#141414" stroke-width="0.95" /><line x1="111.86" y1="355.60" x2="111.86" y2="357.80" stroke="#141414" stroke-width="0.95" /><line x1="115.59" y1="355.60" x2="115.59" y2="357.80" stroke="#141414" stroke-width="0.95" /><line x1="118.23" y1="355.60" x2="118.23" y2="357.80" stroke="#141414" stroke-width="0.95" /><line x1="120.28" y1="355.60" x2="120.28" y2="357.80" stroke="#141414" stroke-width="0.95" /><line x1="121.96" y1="355.60" x2="121.96" y2="357.80" stroke="#141414" stroke-width="0.95" /><line x1="123.38" y1="355.60" x2="123.38" y2="357.80" stroke="#141414" stroke-width="0.95" /><line x1="124.61" y1="355.60" x2="124.61" y2="357.80" stroke="#141414" stroke-width="0.95" /><line x1="125.69" y1="355.60" x2="125.69" y2="357.80" stroke="#141414" stroke-width="0.95" /><line x1="126.66" y1="355.60" x2="126.66" y2="359.20" stroke="#141414" stroke-width="0.95" /><rect x="145.20" y="258.20" width="85.40" height="97.40" fill="none" stroke="#141414" stroke-width="1.3" /><line x1="150.32" y1="355.60" x2="150.32" y2="357.80" stroke="#141414" stroke-width="0.95" /><line x1="152.03" y1="355.60" x2="152.03" y2="357.80" stroke="#141414" stroke-width="0.95" /><line x1="153.74" y1="355.60" x2="153.74" y2="357.80" stroke="#141414" stroke-width="0.95" /><line x1="155.45" y1="355.60" x2="155.45" y2="357.80" stroke="#141414" stroke-width="0.95" /><line x1="157.16" y1="355.60" x2="157.16" y2="357.80" stroke="#141414" stroke-width="0.95" /><line x1="158.86" y1="355.60" x2="158.86" y2="357.80" stroke="#141414" stroke-width="0.95" /><line x1="160.57" y1="355.60" x2="160.57" y2="357.80" stroke="#141414" stroke-width="0.95" /><line x1="162.28" y1="355.60" x2="162.28" y2="357.80" stroke="#141414" stroke-width="0.95" /><line x1="163.99" y1="355.60" x2="163.99" y2="359.20" stroke="#141414" stroke-width="0.95" /><line x1="165.70" y1="355.60" x2="165.70" y2="357.80" stroke="#141414" stroke-width="0.95" /><line x1="167.40" y1="355.60" x2="167.40" y2="357.80" stroke="#141414" stroke-width="0.95" /><line x1="169.11" y1="355.60" x2="169.11" y2="357.80" stroke="#141414" stroke-width="0.95" /><line x1="170.82" y1="355.60" x2="170.82" y2="357.80" stroke="#141414" stroke-width="0.95" /><line x1="172.53" y1="355.60" x2="172.53" y2="357.80" stroke="#141414" stroke-width="0.95" /><line x1="174.24" y1="355.60" x2="174.24" y2="357.80" stroke="#141414" stroke-width="0.95" /><line x1="175.94" y1="355.60" x2="175.94" y2="357.80" stroke="#141414" stroke-width="0.95" /><line x1="177.65" y1="355.60" x2="177.65" y2="357.80" stroke="#141414" stroke-width="0.95" /><line x1="162.71" y1="356.80" x2="165.27" y2="356.80" stroke="#141414" stroke-width="2.2" /><line x1="185.34" y1="355.60" x2="185.34" y2="359.20" stroke="#141414" stroke-width="0.95" /><line x1="191.76" y1="355.60" x2="191.76" y2="357.80" stroke="#141414" stroke-width="0.95" /><line x1="195.52" y1="355.60" x2="195.52" y2="357.80" stroke="#141414" stroke-width="0.95" /><line x1="198.19" y1="355.60" x2="198.19" y2="357.80" stroke="#141414" stroke-width="0.95" /><line x1="200.26" y1="355.60" x2="200.26" y2="357.80" stroke="#141414" stroke-width="0.95" /><line x1="201.95" y1="355.60" x2="201.95" y2="357.80" stroke="#141414" stroke-width="0.95" /><line x1="203.38" y1="355.60" x2="203.38" y2="357.80" stroke="#141414" stroke-width="0.95" /><line x1="204.62" y1="355.60" x2="204.62" y2="357.80" stroke="#141414" stroke-width="0.95" /><line x1="205.71" y1="355.60" x2="205.71" y2="357.80" stroke="#141414" stroke-width="0.95" /><line x1="206.69" y1="355.60" x2="206.69" y2="359.20" stroke="#141414" stroke-width="0.95" /><line x1="213.11" y1="355.60" x2="213.11" y2="357.80" stroke="#141414" stroke-width="0.95" /><line x1="216.87" y1="355.60" x2="216.87" y2="357.80" stroke="#141414" stroke-width="0.95" /><line x1="219.54" y1="355.60" x2="219.54" y2="357.80" stroke="#141414" stroke-width="0.95" /><line x1="221.61" y1="355.60" x2="221.61" y2="357.80" stroke="#141414" stroke-width="0.95" /><line x1="223.30" y1="355.60" x2="223.30" y2="357.80" stroke="#141414" stroke-width="0.95" /><line x1="224.73" y1="355.60" x2="224.73" y2="357.80" stroke="#141414" stroke-width="0.95" /><line x1="225.97" y1="355.60" x2="225.97" y2="357.80" stroke="#141414" stroke-width="0.95" /><line x1="227.06" y1="355.60" x2="227.06" y2="357.80" stroke="#141414" stroke-width="0.95" /><line x1="228.04" y1="355.60" x2="228.04" y2="359.20" stroke="#141414" stroke-width="0.95" /><rect x="245.60" y="258.20" width="85.50" height="97.40" fill="none" stroke="#141414" stroke-width="1.3" /><line x1="250.73" y1="355.60" x2="250.73" y2="357.80" stroke="#141414" stroke-width="0.95" /><line x1="252.44" y1="355.60" x2="252.44" y2="357.80" stroke="#141414" stroke-width="0.95" /><line x1="254.15" y1="355.60" x2="254.15" y2="357.80" stroke="#141414" stroke-width="0.95" /><line x1="255.86" y1="355.60" x2="255.86" y2="357.80" stroke="#141414" stroke-width="0.95" /><line x1="257.57" y1="355.60" x2="257.57" y2="357.80" stroke="#141414" stroke-width="0.95" /><line x1="259.28" y1="355.60" x2="259.28" y2="357.80" stroke="#141414" stroke-width="0.95" /><line x1="260.99" y1="355.60" x2="260.99" y2="357.80" stroke="#141414" stroke-width="0.95" /><line x1="262.70" y1="355.60" x2="262.70" y2="357.80" stroke="#141414" stroke-width="0.95" /><line x1="264.41" y1="355.60" x2="264.41" y2="359.20" stroke="#141414" stroke-width="0.95" /><line x1="266.12" y1="355.60" x2="266.12" y2="357.80" stroke="#141414" stroke-width="0.95" /><line x1="267.83" y1="355.60" x2="267.83" y2="357.80" stroke="#141414" stroke-width="0.95" /><line x1="269.54" y1="355.60" x2="269.54" y2="357.80" stroke="#141414" stroke-width="0.95" /><line x1="271.25" y1="355.60" x2="271.25" y2="357.80" stroke="#141414" stroke-width="0.95" /><line x1="272.96" y1="355.60" x2="272.96" y2="357.80" stroke="#141414" stroke-width="0.95" /><line x1="274.67" y1="355.60" x2="274.67" y2="357.80" stroke="#141414" stroke-width="0.95" /><line x1="276.38" y1="355.60" x2="276.38" y2="357.80" stroke="#141414" stroke-width="0.95" /><line x1="278.09" y1="355.60" x2="278.09" y2="357.80" stroke="#141414" stroke-width="0.95" /><line x1="263.13" y1="356.80" x2="265.69" y2="356.80" stroke="#141414" stroke-width="2.2" /><line x1="285.79" y1="355.60" x2="285.79" y2="359.20" stroke="#141414" stroke-width="0.95" /><line x1="292.22" y1="355.60" x2="292.22" y2="357.80" stroke="#141414" stroke-width="0.95" /><line x1="295.98" y1="355.60" x2="295.98" y2="357.80" stroke="#141414" stroke-width="0.95" /><line x1="298.65" y1="355.60" x2="298.65" y2="357.80" stroke="#141414" stroke-width="0.95" /><line x1="300.73" y1="355.60" x2="300.73" y2="357.80" stroke="#141414" stroke-width="0.95" /><line x1="302.42" y1="355.60" x2="302.42" y2="357.80" stroke="#141414" stroke-width="0.95" /><line x1="303.85" y1="355.60" x2="303.85" y2="357.80" stroke="#141414" stroke-width="0.95" /><line x1="305.09" y1="355.60" x2="305.09" y2="357.80" stroke="#141414" stroke-width="0.95" /><line x1="306.18" y1="355.60" x2="306.18" y2="357.80" stroke="#141414" stroke-width="0.95" /><line x1="307.16" y1="355.60" x2="307.16" y2="359.20" stroke="#141414" stroke-width="0.95" /><line x1="313.59" y1="355.60" x2="313.59" y2="357.80" stroke="#141414" stroke-width="0.95" /><line x1="317.36" y1="355.60" x2="317.36" y2="357.80" stroke="#141414" stroke-width="0.95" /><line x1="320.03" y1="355.60" x2="320.03" y2="357.80" stroke="#141414" stroke-width="0.95" /><line x1="322.10" y1="355.60" x2="322.10" y2="357.80" stroke="#141414" stroke-width="0.95" /><line x1="323.79" y1="355.60" x2="323.79" y2="357.80" stroke="#141414" stroke-width="0.95" /><line x1="325.22" y1="355.60" x2="325.22" y2="357.80" stroke="#141414" stroke-width="0.95" /><line x1="326.46" y1="355.60" x2="326.46" y2="357.80" stroke="#141414" stroke-width="0.95" /><line x1="327.56" y1="355.60" x2="327.56" y2="357.80" stroke="#141414" stroke-width="0.95" /><line x1="328.54" y1="355.60" x2="328.54" y2="359.20" stroke="#141414" stroke-width="0.95" /><line x1="40.00" y1="355.60" x2="44.50" y2="355.60" stroke="#141414" stroke-width="0.9" /><line x1="42.10" y1="351.82" x2="44.50" y2="351.82" stroke="#141414" stroke-width="0.9" /><line x1="42.10" y1="348.04" x2="44.50" y2="348.04" stroke="#141414" stroke-width="0.9" /><line x1="42.10" y1="344.26" x2="44.50" y2="344.26" stroke="#141414" stroke-width="0.9" /><line x1="42.10" y1="340.48" x2="44.50" y2="340.48" stroke="#141414" stroke-width="0.9" /><line x1="40.00" y1="336.70" x2="44.50" y2="336.70" stroke="#141414" stroke-width="0.9" /><line x1="42.10" y1="332.92" x2="44.50" y2="332.92" stroke="#141414" stroke-width="0.9" /><line x1="42.10" y1="329.14" x2="44.50" y2="329.14" stroke="#141414" stroke-width="0.9" /><line x1="42.10" y1="325.36" x2="44.50" y2="325.36" stroke="#141414" stroke-width="0.9" /><line x1="42.10" y1="321.58" x2="44.50" y2="321.58" stroke="#141414" stroke-width="0.9" /><line x1="40.00" y1="317.80" x2="44.50" y2="317.80" stroke="#141414" stroke-width="0.9" /><line x1="42.10" y1="314.02" x2="44.50" y2="314.02" stroke="#141414" stroke-width="0.9" /><line x1="42.10" y1="310.24" x2="44.50" y2="310.24" stroke="#141414" stroke-width="0.9" /><line x1="42.10" y1="306.46" x2="44.50" y2="306.46" stroke="#141414" stroke-width="0.9" /><line x1="42.10" y1="302.68" x2="44.50" y2="302.68" stroke="#141414" stroke-width="0.9" /><line x1="40.00" y1="298.90" x2="44.50" y2="298.90" stroke="#141414" stroke-width="0.9" /><line x1="42.10" y1="295.12" x2="44.50" y2="295.12" stroke="#141414" stroke-width="0.9" /><line x1="42.10" y1="291.34" x2="44.50" y2="291.34" stroke="#141414" stroke-width="0.9" /><line x1="42.10" y1="287.56" x2="44.50" y2="287.56" stroke="#141414" stroke-width="0.9" /><line x1="42.10" y1="283.78" x2="44.50" y2="283.78" stroke="#141414" stroke-width="0.9" /><line x1="40.00" y1="280.00" x2="44.50" y2="280.00" stroke="#141414" stroke-width="0.9" /><line x1="42.10" y1="276.22" x2="44.50" y2="276.22" stroke="#141414" stroke-width="0.9" /><line x1="42.10" y1="272.44" x2="44.50" y2="272.44" stroke="#141414" stroke-width="0.9" /><line x1="42.10" y1="268.66" x2="44.50" y2="268.66" stroke="#141414" stroke-width="0.9" /><line x1="42.10" y1="264.88" x2="44.50" y2="264.88" stroke="#141414" stroke-width="0.9" /><line x1="40.00" y1="261.10" x2="44.50" y2="261.10" stroke="#141414" stroke-width="0.9" /><line x1="27.30" y1="268.80" x2="27.30" y2="321.50" stroke="#141414" stroke-width="1.25" /><path d="M27.30,258.30 L22.20,270.80 L27.30,268.60 L32.40,270.80 Z" fill="#141414"/><text transform="translate(32.00,354.80) rotate(-90) scale(0.7887,1)" fill="#141414" stroke="#141414" stroke-width="0.28" ><tspan font-size="14.20">FSC-A</tspan></text><text transform="translate(45.40,377.10) scale(0.8688,1)" fill="#141414" stroke="#141414" stroke-width="0.28" ><tspan font-size="14.00">CD45</tspan></text><line x1="79.00" y1="372.90" x2="309.30" y2="372.90" stroke="#141414" stroke-width="1.25" /><path d="M319.80,372.90 L307.30,368.00 L309.50,372.90 L307.30,377.80 Z" fill="#141414"/><line x1="394.20" y1="236.90" x2="394.20" y2="356.70" stroke="#141414" stroke-width="1.3" /><line x1="393.60" y1="356.20" x2="508.50" y2="356.20" stroke="#141414" stroke-width="1.3" /><line x1="389.70" y1="240.80" x2="394.20" y2="240.80" stroke="#141414" stroke-width="1.2" /><text transform="translate(371.50,244.80) scale(0.9424,1)" fill="#141414" stroke="#141414" stroke-width="0.28" ><tspan font-size="10.00">1.5</tspan></text><line x1="389.70" y1="279.50" x2="394.20" y2="279.50" stroke="#141414" stroke-width="1.2" /><text transform="translate(371.50,283.50) scale(0.9424,1)" fill="#141414" stroke="#141414" stroke-width="0.28" ><tspan font-size="10.00">1.0</tspan></text><line x1="389.70" y1="318.20" x2="394.20" y2="318.20" stroke="#141414" stroke-width="1.2" /><text transform="translate(371.50,322.20) scale(0.9424,1)" fill="#141414" stroke="#141414" stroke-width="0.28" ><tspan font-size="10.00">0.5</tspan></text><line x1="389.70" y1="356.20" x2="394.20" y2="356.20" stroke="#141414" stroke-width="1.2" /><text transform="translate(371.50,360.20) scale(0.9424,1)" fill="#141414" stroke="#141414" stroke-width="0.28" ><tspan font-size="10.00">0.0</tspan></text><line x1="416.90" y1="356.20" x2="416.90" y2="360.80" stroke="#141414" stroke-width="1.2" /><line x1="451.10" y1="356.20" x2="451.10" y2="360.80" stroke="#141414" stroke-width="1.2" /><line x1="485.10" y1="356.20" x2="485.10" y2="360.80" stroke="#141414" stroke-width="1.2" /><text transform="translate(361.00,338.00) rotate(-90) scale(1.0445,1)" fill="#141414" stroke="#141414" stroke-width="0.28" ><tspan font-size="12.40">Cells/mL x 10</tspan><tspan font-size="9.00" dy="-5.80">6</tspan></text><line x1="403.80" y1="303.10" x2="427.40" y2="303.10" stroke="#141414" stroke-width="1.2" /><line x1="440.30" y1="310.90" x2="463.10" y2="310.90" stroke="#141414" stroke-width="1.2" /><line x1="473.10" y1="325.70" x2="497.70" y2="325.70" stroke="#141414" stroke-width="1.2" /><circle cx="416.90" cy="276.30" r="2.45" fill="#a3243a"/><circle cx="409.20" cy="300.00" r="2.45" fill="#a3243a"/><circle cx="413.10" cy="302.80" r="2.45" fill="#a3243a"/><circle cx="416.90" cy="303.80" r="2.45" fill="#a3243a"/><circle cx="420.80" cy="301.50" r="2.45" fill="#a3243a"/><circle cx="424.60" cy="298.80" r="2.45" fill="#a3243a"/><circle cx="413.50" cy="321.80" r="2.45" fill="#a3243a"/><circle cx="420.50" cy="321.10" r="2.45" fill="#a3243a"/><circle cx="451.10" cy="287.70" r="2.45" fill="#a3243a"/><circle cx="451.10" cy="302.30" r="2.45" fill="#a3243a"/><circle cx="447.40" cy="310.80" r="2.45" fill="#a3243a"/><circle cx="454.60" cy="311.10" r="2.45" fill="#a3243a"/><circle cx="444.00" cy="321.10" r="2.45" fill="#a3243a"/><circle cx="451.10" cy="322.30" r="2.45" fill="#a3243a"/><circle cx="458.20" cy="322.30" r="2.45" fill="#a3243a"/><circle cx="485.10" cy="313.40" r="2.45" fill="#a3243a"/><circle cx="481.50" cy="324.90" r="2.45" fill="#a3243a"/><circle cx="492.30" cy="325.70" r="2.45" fill="#a3243a"/><circle cx="488.60" cy="329.20" r="2.45" fill="#a3243a"/><circle cx="481.50" cy="335.80" r="2.45" fill="#a3243a"/><text transform="translate(429.70,260.80) scale(0.9738,1)" fill="#141414" stroke="#141414" stroke-width="0.28" ><tspan font-size="10.00">P = 0.0147</tspan></text><line x1="415.50" y1="265.80" x2="488.50" y2="265.80" stroke="#141414" stroke-width="1.2" /><text transform="translate(124.60,426.00) scale(1.0589,1)" fill="#141414" stroke="#141414" stroke-width="0.28" ><tspan font-size="10.60">Monocytes/Macrophages</tspan></text><text transform="translate(67.50,440.20) scale(1.0664,1)" fill="#141414" stroke="#141414" stroke-width="0.28" ><tspan font-size="10.60">Live/Single/CD45</tspan><tspan font-size="8.60" dy="-4.00">+</tspan><tspan font-size="10.60" dy="4.00">/CD11b</tspan><tspan font-size="8.60" dy="-4.00">+</tspan><tspan font-size="10.60" dy="4.00">/CD11c</tspan><tspan font-size="8.20" dy="-4.40">Low-Med</tspan><tspan font-size="10.60" dy="4.40">/Ly6G</tspan><tspan font-size="7.60" dy="-4.20">-</tspan></text><line x1="59.40" y1="448.40" x2="317.50" y2="448.40" stroke="#141414" stroke-width="1.4" /><text transform="translate(72.95,467.50) scale(0.9934,1)" fill="#141414" stroke="#141414" stroke-width="0.12" ><tspan font-size="11.30">Plg</tspan><tspan font-size="8.14" dy="-3.84" dx="0.90">+</tspan><tspan font-size="8.14" dx="0.35">/</tspan><tspan font-size="8.14" dx="0.35">+</tspan></text><text transform="translate(174.90,467.50) scale(0.9908,1)" fill="#141414" stroke="#141414" stroke-width="0.12" ><tspan font-size="11.30">Plg</tspan><tspan font-size="8.14" dy="-3.84" dx="0.90">+</tspan><tspan font-size="8.14" dx="0.35">/</tspan><tspan font-size="8.14" dx="0.35">-</tspan></text><text transform="translate(276.70,467.50) scale(0.9683,1)" fill="#141414" stroke="#141414" stroke-width="0.12" ><tspan font-size="11.30">Plg</tspan><tspan font-size="8.14" dy="-3.84" dx="0.90">-</tspan><tspan font-size="8.14" dx="0.35">/</tspan><tspan font-size="8.14" dx="0.35">-</tspan></text><g filter="url(#spk4)"><path d="M75.00,515.00 C76.83,510.17 80.00,507.67 85.00,506.00 C90.00,504.33 98.33,504.67 105.00,505.00 C111.67,505.33 121.17,503.83 125.00,508.00 C128.83,512.17 127.50,521.33 128.00,530.00 C128.50,538.67 132.67,554.00 128.00,560.00 C123.33,566.00 108.83,565.00 100.00,566.00 C91.17,567.00 79.33,571.17 75.00,566.00 C70.67,560.83 74.00,543.50 74.00,535.00 C74.00,526.50 73.17,519.83 75.00,515.00 Z" fill="#000" opacity="0.3"/><path d="M85.75,524.50 C86.17,522.10 88.67,518.85 91.00,517.62 C93.33,516.40 97.25,516.60 99.75,517.12 C102.25,517.65 104.12,520.67 106.00,520.75 C107.88,520.83 108.50,518.27 111.00,517.62 C113.50,516.98 118.35,516.04 121.00,516.88 C123.65,517.71 126.46,520.21 126.88,522.62 C127.29,525.04 125.73,529.71 123.50,531.38 C121.27,533.04 116.42,533.04 113.50,532.62 C110.58,532.21 108.50,528.88 106.00,528.88 C103.50,528.88 101.42,532.10 98.50,532.62 C95.58,533.15 90.62,533.35 88.50,532.00 C86.38,530.65 85.33,526.90 85.75,524.50 Z" fill="#000" opacity="0.45"/><path d="M71.97,551.94 C71.97,548.41 71.71,544.25 74.62,542.40 C77.53,540.54 83.45,540.99 89.46,540.81 C95.47,540.63 105.18,541.43 110.66,541.34 C116.14,541.25 119.58,539.22 122.32,540.28 C125.06,541.34 126.56,544.34 127.09,547.70 C127.62,551.06 127.18,557.59 125.50,560.42 C123.82,563.25 123.03,563.95 117.02,564.66 C111.01,565.37 96.53,564.84 89.46,564.66 C82.39,564.48 77.53,565.72 74.62,563.60 C71.71,561.48 71.97,555.47 71.97,551.94 Z" fill="#000" opacity="0.5"/></g><path d="M73.50,552.00 C73.50,548.67 73.25,544.75 76.00,543.00 C78.75,541.25 84.33,541.67 90.00,541.50 C95.67,541.33 104.83,542.08 110.00,542.00 C115.17,541.92 118.42,540.00 121.00,541.00 C123.58,542.00 125.00,544.83 125.50,548.00 C126.00,551.17 125.58,557.33 124.00,560.00 C122.42,562.67 121.67,563.33 116.00,564.00 C110.33,564.67 96.67,564.17 90.00,564.00 C83.33,563.83 78.75,565.00 76.00,563.00 C73.25,561.00 73.50,555.33 73.50,552.00 Z" fill="#a8a8a8" stroke="#555" stroke-width="0.6"/><path d="M75.54,552.14 C75.54,549.27 75.31,545.90 77.84,544.40 C80.37,542.89 85.51,543.25 90.72,543.11 C95.93,542.97 104.37,543.61 109.12,543.54 C113.87,543.47 116.86,541.82 119.24,542.68 C121.62,543.54 122.92,545.98 123.38,548.70 C123.84,551.42 123.46,556.73 122.00,559.02 C120.54,561.31 119.85,561.89 114.64,562.46 C109.43,563.03 96.85,562.60 90.72,562.46 C84.59,562.32 80.37,563.32 77.84,561.60 C75.31,559.88 75.54,555.01 75.54,552.14 Z" fill="#b0b0b0" stroke="#5e5e5e" stroke-width="0.45"/><path d="M77.58,552.28 C77.58,549.88 77.37,547.06 79.68,545.80 C81.99,544.54 86.68,544.84 91.44,544.72 C96.20,544.60 103.90,545.14 108.24,545.08 C112.58,545.02 115.31,543.64 117.48,544.36 C119.65,545.08 120.84,547.12 121.26,549.40 C121.68,551.68 121.33,556.12 120.00,558.04 C118.67,559.96 118.04,560.44 113.28,560.92 C108.52,561.40 97.04,561.04 91.44,560.92 C85.84,560.80 81.99,561.64 79.68,560.20 C77.37,558.76 77.58,554.68 77.58,552.28 Z" fill="#b8b8b8" stroke="#5e5e5e" stroke-width="0.45"/><path d="M79.62,552.42 C79.62,550.49 79.43,548.22 81.52,547.20 C83.61,546.19 87.85,546.43 92.16,546.33 C96.47,546.23 103.43,546.67 107.36,546.62 C111.29,546.57 113.76,545.46 115.72,546.04 C117.68,546.62 118.76,548.26 119.14,550.10 C119.52,551.94 119.20,555.51 118.00,557.06 C116.80,558.61 116.23,558.99 111.92,559.38 C107.61,559.77 97.23,559.48 92.16,559.38 C87.09,559.28 83.61,559.96 81.52,558.80 C79.43,557.64 79.62,554.35 79.62,552.42 Z" fill="#c0c0c0" stroke="#5e5e5e" stroke-width="0.45"/><path d="M81.66,552.56 C81.66,551.09 81.49,549.37 83.36,548.60 C85.23,547.83 89.03,548.01 92.88,547.94 C96.73,547.87 102.97,548.20 106.48,548.16 C109.99,548.12 112.20,547.28 113.96,547.72 C115.72,548.16 116.68,549.41 117.02,550.80 C117.36,552.19 117.08,554.91 116.00,556.08 C114.92,557.25 114.41,557.55 110.56,557.84 C106.71,558.13 97.41,557.91 92.88,557.84 C88.35,557.77 85.23,558.28 83.36,557.40 C81.49,556.52 81.66,554.03 81.66,552.56 Z" fill="#c8c8c8" stroke="#5e5e5e" stroke-width="0.45"/><path d="M83.70,552.70 C83.70,551.70 83.55,550.52 85.20,550.00 C86.85,549.48 90.20,549.60 93.60,549.55 C97.00,549.50 102.50,549.73 105.60,549.70 C108.70,549.68 110.65,549.10 112.20,549.40 C113.75,549.70 114.60,550.55 114.90,551.50 C115.20,552.45 114.95,554.30 114.00,555.10 C113.05,555.90 112.60,556.10 109.20,556.30 C105.80,556.50 97.60,556.35 93.60,556.30 C89.60,556.25 86.85,556.60 85.20,556.00 C83.55,555.40 83.70,553.70 83.70,552.70 Z" fill="#d4d4d4" stroke="#5e5e5e" stroke-width="0.45"/><path d="M85.74,552.84 C85.74,552.31 85.61,551.68 87.04,551.40 C88.47,551.12 91.37,551.19 94.32,551.16 C97.27,551.13 102.03,551.25 104.72,551.24 C107.41,551.23 109.10,550.92 110.44,551.08 C111.78,551.24 112.52,551.69 112.78,552.20 C113.04,552.71 112.82,553.69 112.00,554.12 C111.18,554.55 110.79,554.65 107.84,554.76 C104.89,554.87 97.79,554.79 94.32,554.76 C90.85,554.73 88.47,554.92 87.04,554.60 C85.61,554.28 85.74,553.37 85.74,552.84 Z" fill="#e4e4e4" stroke="#5e5e5e" stroke-width="0.45"/><path d="M77.3,553.0 L117.0,552.7" stroke="#f4f4f4" stroke-width="1.3"/><path d="M89.80,524.50 C90.13,522.58 92.13,519.98 94.00,519.00 C95.87,518.02 99.00,518.18 101.00,518.60 C103.00,519.02 104.50,521.43 106.00,521.50 C107.50,521.57 108.00,519.52 110.00,519.00 C112.00,518.48 115.88,517.73 118.00,518.40 C120.12,519.07 122.37,521.07 122.70,523.00 C123.03,524.93 121.78,528.67 120.00,530.00 C118.22,531.33 114.33,531.33 112.00,531.00 C109.67,530.67 108.00,528.00 106.00,528.00 C104.00,528.00 102.33,530.58 100.00,531.00 C97.67,531.42 93.70,531.58 92.00,530.50 C90.30,529.42 89.47,526.42 89.80,524.50 Z" fill="#fdfdfd" stroke="#555" stroke-width="0.6"/><ellipse cx="98.9" cy="525" rx="5.2" ry="4.2" transform="rotate(0 98.9 525)" fill="none" stroke="#666" stroke-width="0.5"/><ellipse cx="98.9" cy="525" rx="2.86" ry="2.31" transform="rotate(0 98.9 525)" fill="none" stroke="#888" stroke-width="0.45"/><ellipse cx="115" cy="525" rx="7.0" ry="4.0" transform="rotate(-10 115 525)" fill="none" stroke="#666" stroke-width="0.5"/><ellipse cx="115" cy="525" rx="3.85" ry="2.20" transform="rotate(-10 115 525)" fill="none" stroke="#888" stroke-width="0.45"/><rect x="71.30" y="536.90" width="57.80" height="30.80" fill="none" stroke="#555" stroke-width="0.8" /><text transform="translate(54.70,503.90) scale(0.9155,1)" fill="#141414" stroke="#141414" stroke-width="0.28" ><tspan font-size="10.80">3.06x10</tspan><tspan font-size="7.40" dy="-4.60" dx="0.60">5</tspan></text><g filter="url(#spk5)"><path d="M176.00,512.00 C178.50,506.67 183.50,504.67 190.00,503.00 C196.50,501.33 208.83,500.83 215.00,502.00 C221.17,503.17 224.67,504.50 227.00,510.00 C229.33,515.50 228.67,525.83 229.00,535.00 C229.33,544.17 233.83,559.67 229.00,565.00 C224.17,570.33 209.00,566.83 200.00,567.00 C191.00,567.17 179.17,571.33 175.00,566.00 C170.83,560.67 174.83,544.00 175.00,535.00 C175.17,526.00 173.50,517.33 176.00,512.00 Z" fill="#000" opacity="0.3"/><path d="M181.00,520.00 C181.21,517.50 183.50,514.08 186.00,512.50 C188.50,510.92 192.67,510.40 196.00,510.50 C199.33,510.60 203.50,511.96 206.00,513.12 C208.50,514.29 208.92,516.88 211.00,517.50 C213.08,518.12 216.29,516.35 218.50,516.88 C220.71,517.40 224.04,519.38 224.25,520.62 C224.46,521.88 221.96,523.85 219.75,524.38 C217.54,524.90 213.50,523.02 211.00,523.75 C208.50,524.48 207.46,527.60 204.75,528.75 C202.04,529.90 198.08,530.83 194.75,530.62 C191.42,530.42 187.04,529.27 184.75,527.50 C182.46,525.73 180.79,522.50 181.00,520.00 Z" fill="#000" opacity="0.45"/><path d="M172.44,551.94 C172.44,548.23 171.91,544.17 175.62,542.40 C179.33,540.63 187.99,541.69 194.70,541.34 C201.41,540.99 210.42,540.10 215.90,540.28 C221.38,540.46 225.26,540.28 227.56,542.40 C229.86,544.52 230.03,549.29 229.68,553.00 C229.33,556.71 230.39,562.45 225.44,564.66 C220.49,566.87 208.30,566.25 200.00,566.25 C191.70,566.25 180.21,567.04 175.62,564.66 C171.03,562.27 172.44,555.65 172.44,551.94 Z" fill="#000" opacity="0.5"/></g><path d="M174.00,552.00 C174.00,548.50 173.50,544.67 177.00,543.00 C180.50,541.33 188.67,542.33 195.00,542.00 C201.33,541.67 209.83,540.83 215.00,541.00 C220.17,541.17 223.83,541.00 226.00,543.00 C228.17,545.00 228.33,549.50 228.00,553.00 C227.67,556.50 228.67,561.92 224.00,564.00 C219.33,566.08 207.83,565.50 200.00,565.50 C192.17,565.50 181.33,566.25 177.00,564.00 C172.67,561.75 174.00,555.50 174.00,552.00 Z" fill="#a8a8a8" stroke="#555" stroke-width="0.6"/><path d="M176.08,552.14 C176.08,549.13 175.62,545.83 178.84,544.40 C182.06,542.97 189.57,543.83 195.40,543.54 C201.23,543.25 209.05,542.54 213.80,542.68 C218.55,542.82 221.93,542.68 223.92,544.40 C225.91,546.12 226.07,549.99 225.76,553.00 C225.45,556.01 226.37,560.67 222.08,562.46 C217.79,564.25 207.21,563.75 200.00,563.75 C192.79,563.75 182.83,564.39 178.84,562.46 C174.85,560.53 176.08,555.15 176.08,552.14 Z" fill="#b0b0b0" stroke="#5e5e5e" stroke-width="0.45"/><path d="M178.16,552.28 C178.16,549.76 177.74,547.00 180.68,545.80 C183.62,544.60 190.48,545.32 195.80,545.08 C201.12,544.84 208.26,544.24 212.60,544.36 C216.94,544.48 220.02,544.36 221.84,545.80 C223.66,547.24 223.80,550.48 223.52,553.00 C223.24,555.52 224.08,559.42 220.16,560.92 C216.24,562.42 206.58,562.00 200.00,562.00 C193.42,562.00 184.32,562.54 180.68,560.92 C177.04,559.30 178.16,554.80 178.16,552.28 Z" fill="#b8b8b8" stroke="#5e5e5e" stroke-width="0.45"/><path d="M180.24,552.42 C180.24,550.39 179.86,548.17 182.52,547.20 C185.18,546.23 191.39,546.81 196.20,546.62 C201.01,546.43 207.47,545.94 211.40,546.04 C215.33,546.14 218.11,546.04 219.76,547.20 C221.41,548.36 221.53,550.97 221.28,553.00 C221.03,555.03 221.79,558.17 218.24,559.38 C214.69,560.59 205.95,560.25 200.00,560.25 C194.05,560.25 185.81,560.68 182.52,559.38 C179.23,558.08 180.24,554.45 180.24,552.42 Z" fill="#c0c0c0" stroke="#5e5e5e" stroke-width="0.45"/><path d="M182.32,552.56 C182.32,551.02 181.98,549.33 184.36,548.60 C186.74,547.87 192.29,548.31 196.60,548.16 C200.91,548.01 206.69,547.65 210.20,547.72 C213.71,547.79 216.21,547.72 217.68,548.60 C219.15,549.48 219.27,551.46 219.04,553.00 C218.81,554.54 219.49,556.92 216.32,557.84 C213.15,558.76 205.33,558.50 200.00,558.50 C194.67,558.50 187.31,558.83 184.36,557.84 C181.41,556.85 182.32,554.10 182.32,552.56 Z" fill="#c8c8c8" stroke="#5e5e5e" stroke-width="0.45"/><path d="M184.40,552.70 C184.40,551.65 184.10,550.50 186.20,550.00 C188.30,549.50 193.20,549.80 197.00,549.70 C200.80,549.60 205.90,549.35 209.00,549.40 C212.10,549.45 214.30,549.40 215.60,550.00 C216.90,550.60 217.00,551.95 216.80,553.00 C216.60,554.05 217.20,555.67 214.40,556.30 C211.60,556.92 204.70,556.75 200.00,556.75 C195.30,556.75 188.80,556.97 186.20,556.30 C183.60,555.62 184.40,553.75 184.40,552.70 Z" fill="#d4d4d4" stroke="#5e5e5e" stroke-width="0.45"/><path d="M186.48,552.84 C186.48,552.28 186.22,551.67 188.04,551.40 C189.86,551.13 194.11,551.29 197.40,551.24 C200.69,551.19 205.11,551.05 207.80,551.08 C210.49,551.11 212.39,551.08 213.52,551.40 C214.65,551.72 214.73,552.44 214.56,553.00 C214.39,553.56 214.91,554.43 212.48,554.76 C210.05,555.09 204.07,555.00 200.00,555.00 C195.93,555.00 190.29,555.12 188.04,554.76 C185.79,554.40 186.48,553.40 186.48,552.84 Z" fill="#e4e4e4" stroke="#5e5e5e" stroke-width="0.45"/><path d="M177.9,553.0 L218.0,552.7" stroke="#f4f4f4" stroke-width="1.3"/><path d="M184.00,520.00 C184.17,518.00 186.00,515.27 188.00,514.00 C190.00,512.73 193.33,512.32 196.00,512.40 C198.67,512.48 202.00,513.57 204.00,514.50 C206.00,515.43 206.33,517.50 208.00,518.00 C209.67,518.50 212.23,517.08 214.00,517.50 C215.77,517.92 218.43,519.50 218.60,520.50 C218.77,521.50 216.77,523.08 215.00,523.50 C213.23,523.92 210.00,522.42 208.00,523.00 C206.00,523.58 205.17,526.08 203.00,527.00 C200.83,527.92 197.67,528.67 195.00,528.50 C192.33,528.33 188.83,527.42 187.00,526.00 C185.17,524.58 183.83,522.00 184.00,520.00 Z" fill="#fdfdfd" stroke="#555" stroke-width="0.6"/><ellipse cx="195.5" cy="520" rx="8.5" ry="5.5" transform="rotate(0 195.5 520)" fill="none" stroke="#666" stroke-width="0.5"/><ellipse cx="195.5" cy="520" rx="4.68" ry="3.03" transform="rotate(0 195.5 520)" fill="none" stroke="#888" stroke-width="0.45"/><ellipse cx="195.5" cy="520" rx="5.0" ry="3.2" transform="rotate(0 195.5 520)" fill="none" stroke="#666" stroke-width="0.5"/><ellipse cx="195.5" cy="520" rx="2.75" ry="1.76" transform="rotate(0 195.5 520)" fill="none" stroke="#888" stroke-width="0.45"/><ellipse cx="214.5" cy="520.5" rx="2.6" ry="1.8" transform="rotate(0 214.5 520.5)" fill="none" stroke="#666" stroke-width="0.5"/><ellipse cx="214.5" cy="520.5" rx="1.43" ry="0.99" transform="rotate(0 214.5 520.5)" fill="none" stroke="#888" stroke-width="0.45"/><rect x="172.10" y="537.30" width="57.50" height="30.90" fill="none" stroke="#555" stroke-width="0.8" /><text transform="translate(156.50,502.60) scale(0.9108,1)" fill="#141414" stroke="#141414" stroke-width="0.28" ><tspan font-size="10.80">2.04x10</tspan><tspan font-size="7.40" dy="-4.60" dx="0.60">5</tspan></text><g filter="url(#spk6)"><path d="M277.00,515.00 C279.33,509.17 283.67,502.83 290.00,500.00 C296.33,497.17 308.33,497.17 315.00,498.00 C321.67,498.83 327.50,498.83 330.00,505.00 C332.50,511.17 330.00,524.83 330.00,535.00 C330.00,545.17 335.00,560.67 330.00,566.00 C325.00,571.33 309.00,567.00 300.00,567.00 C291.00,567.00 280.00,571.33 276.00,566.00 C272.00,560.67 275.83,543.50 276.00,535.00 C276.17,526.50 274.67,520.83 277.00,515.00 Z" fill="#000" opacity="0.3"/><path d="M289.62,527.25 C289.62,524.75 291.60,519.85 294.00,517.25 C296.40,514.65 300.04,512.79 304.00,511.62 C307.96,510.46 313.69,509.62 317.75,510.25 C321.81,510.88 326.71,513.17 328.38,515.38 C330.04,517.58 329.52,521.31 327.75,523.50 C325.98,525.69 321.71,527.02 317.75,528.50 C313.79,529.98 307.96,531.75 304.00,532.38 C300.04,533.00 296.40,533.10 294.00,532.25 C291.60,531.40 289.62,529.75 289.62,527.25 Z" fill="#000" opacity="0.45"/><path d="M272.44,551.94 C272.44,548.23 271.03,544.25 275.62,542.40 C280.21,540.54 292.05,541.07 300.00,540.81 C307.95,540.54 318.37,539.66 323.32,540.81 C328.27,541.96 328.80,544.43 329.68,547.70 C330.56,550.97 329.68,557.42 328.62,560.42 C327.56,563.42 328.09,564.75 323.32,565.72 C318.55,566.69 307.95,566.43 300.00,566.25 C292.05,566.07 280.21,567.04 275.62,564.66 C271.03,562.27 272.44,555.65 272.44,551.94 Z" fill="#000" opacity="0.5"/></g><path d="M274.00,552.00 C274.00,548.50 272.67,544.75 277.00,543.00 C281.33,541.25 292.50,541.75 300.00,541.50 C307.50,541.25 317.33,540.42 322.00,541.50 C326.67,542.58 327.17,544.92 328.00,548.00 C328.83,551.08 328.00,557.17 327.00,560.00 C326.00,562.83 326.50,564.08 322.00,565.00 C317.50,565.92 307.50,565.67 300.00,565.50 C292.50,565.33 281.33,566.25 277.00,564.00 C272.67,561.75 274.00,555.50 274.00,552.00 Z" fill="#a8a8a8" stroke="#555" stroke-width="0.6"/><path d="M276.08,552.14 C276.08,549.13 274.85,545.90 278.84,544.40 C282.83,542.89 293.10,543.33 300.00,543.11 C306.90,542.89 315.95,542.18 320.24,543.11 C324.53,544.04 324.99,546.05 325.76,548.70 C326.53,551.35 325.76,556.58 324.84,559.02 C323.92,561.46 324.38,562.53 320.24,563.32 C316.10,564.11 306.90,563.89 300.00,563.75 C293.10,563.61 282.83,564.39 278.84,562.46 C274.85,560.53 276.08,555.15 276.08,552.14 Z" fill="#b0b0b0" stroke="#5e5e5e" stroke-width="0.45"/><path d="M278.16,552.28 C278.16,549.76 277.04,547.06 280.68,545.80 C284.32,544.54 293.70,544.90 300.00,544.72 C306.30,544.54 314.56,543.94 318.48,544.72 C322.40,545.50 322.82,547.18 323.52,549.40 C324.22,551.62 323.52,556.00 322.68,558.04 C321.84,560.08 322.26,560.98 318.48,561.64 C314.70,562.30 306.30,562.12 300.00,562.00 C293.70,561.88 284.32,562.54 280.68,560.92 C277.04,559.30 278.16,554.80 278.16,552.28 Z" fill="#b8b8b8" stroke="#5e5e5e" stroke-width="0.45"/><path d="M280.24,552.42 C280.24,550.39 279.23,548.22 282.52,547.20 C285.81,546.19 294.30,546.48 300.00,546.33 C305.70,546.19 313.17,545.70 316.72,546.33 C320.27,546.96 320.65,548.31 321.28,550.10 C321.91,551.89 321.28,555.42 320.52,557.06 C319.76,558.70 320.14,559.43 316.72,559.96 C313.30,560.49 305.70,560.35 300.00,560.25 C294.30,560.15 285.81,560.68 282.52,559.38 C279.23,558.08 280.24,554.45 280.24,552.42 Z" fill="#c0c0c0" stroke="#5e5e5e" stroke-width="0.45"/><path d="M282.32,552.56 C282.32,551.02 281.41,549.37 284.36,548.60 C287.31,547.83 294.90,548.05 300.00,547.94 C305.10,547.83 311.79,547.46 314.96,547.94 C318.13,548.42 318.47,549.44 319.04,550.80 C319.61,552.16 319.04,554.83 318.36,556.08 C317.68,557.33 318.02,557.88 314.96,558.28 C311.90,558.68 305.10,558.57 300.00,558.50 C294.90,558.43 287.31,558.83 284.36,557.84 C281.41,556.85 282.32,554.10 282.32,552.56 Z" fill="#c8c8c8" stroke="#5e5e5e" stroke-width="0.45"/><path d="M284.40,552.70 C284.40,551.65 283.60,550.52 286.20,550.00 C288.80,549.48 295.50,549.62 300.00,549.55 C304.50,549.47 310.40,549.22 313.20,549.55 C316.00,549.88 316.30,550.58 316.80,551.50 C317.30,552.42 316.80,554.25 316.20,555.10 C315.60,555.95 315.90,556.33 313.20,556.60 C310.50,556.88 304.50,556.80 300.00,556.75 C295.50,556.70 288.80,556.97 286.20,556.30 C283.60,555.62 284.40,553.75 284.40,552.70 Z" fill="#d4d4d4" stroke="#5e5e5e" stroke-width="0.45"/><path d="M286.48,552.84 C286.48,552.28 285.79,551.68 288.04,551.40 C290.29,551.12 296.10,551.20 300.00,551.16 C303.90,551.12 309.01,550.99 311.44,551.16 C313.87,551.33 314.13,551.71 314.56,552.20 C314.99,552.69 314.56,553.67 314.04,554.12 C313.52,554.57 313.78,554.77 311.44,554.92 C309.10,555.07 303.90,555.03 300.00,555.00 C296.10,554.97 290.29,555.12 288.04,554.76 C285.79,554.40 286.48,553.40 286.48,552.84 Z" fill="#e4e4e4" stroke="#5e5e5e" stroke-width="0.45"/><path d="M277.9,553.0 L318.0,552.7" stroke="#f4f4f4" stroke-width="1.3"/><path d="M293.50,526.00 C293.50,524.00 295.08,520.08 297.00,518.00 C298.92,515.92 301.83,514.43 305.00,513.50 C308.17,512.57 312.75,511.90 316.00,512.40 C319.25,512.90 323.17,514.73 324.50,516.50 C325.83,518.27 325.42,521.25 324.00,523.00 C322.58,524.75 319.17,525.82 316.00,527.00 C312.83,528.18 308.17,529.60 305.00,530.10 C301.83,530.60 298.92,530.68 297.00,530.00 C295.08,529.32 293.50,528.00 293.50,526.00 Z" fill="#fdfdfd" stroke="#555" stroke-width="0.6"/><ellipse cx="309" cy="521" rx="12" ry="6" transform="rotate(-10 309 521)" fill="none" stroke="#666" stroke-width="0.5"/><ellipse cx="309" cy="521" rx="6.60" ry="3.30" transform="rotate(-10 309 521)" fill="none" stroke="#888" stroke-width="0.45"/><ellipse cx="312" cy="520.5" rx="7" ry="3.5" transform="rotate(-10 312 520.5)" fill="none" stroke="#666" stroke-width="0.5"/><ellipse cx="312" cy="520.5" rx="3.85" ry="1.93" transform="rotate(-10 312 520.5)" fill="none" stroke="#888" stroke-width="0.45"/><rect x="272.40" y="537.30" width="58.00" height="30.90" fill="none" stroke="#555" stroke-width="0.8" /><text transform="translate(253.80,503.40) scale(0.9340,1)" fill="#141414" stroke="#141414" stroke-width="0.28" ><tspan font-size="10.80">1.44x10</tspan><tspan font-size="7.40" dy="-4.60" dx="0.60">5</tspan></text><rect x="44.20" y="476.60" width="87.10" height="97.00" fill="none" stroke="#141414" stroke-width="1.3" /><line x1="49.43" y1="573.60" x2="49.43" y2="575.80" stroke="#141414" stroke-width="0.95" /><line x1="51.17" y1="573.60" x2="51.17" y2="575.80" stroke="#141414" stroke-width="0.95" /><line x1="52.91" y1="573.60" x2="52.91" y2="575.80" stroke="#141414" stroke-width="0.95" /><line x1="54.65" y1="573.60" x2="54.65" y2="575.80" stroke="#141414" stroke-width="0.95" /><line x1="56.39" y1="573.60" x2="56.39" y2="575.80" stroke="#141414" stroke-width="0.95" /><line x1="58.14" y1="573.60" x2="58.14" y2="575.80" stroke="#141414" stroke-width="0.95" /><line x1="59.88" y1="573.60" x2="59.88" y2="575.80" stroke="#141414" stroke-width="0.95" /><line x1="61.62" y1="573.60" x2="61.62" y2="575.80" stroke="#141414" stroke-width="0.95" /><line x1="63.36" y1="573.60" x2="63.36" y2="577.20" stroke="#141414" stroke-width="0.95" /><line x1="65.10" y1="573.60" x2="65.10" y2="575.80" stroke="#141414" stroke-width="0.95" /><line x1="66.85" y1="573.60" x2="66.85" y2="575.80" stroke="#141414" stroke-width="0.95" /><line x1="68.59" y1="573.60" x2="68.59" y2="575.80" stroke="#141414" stroke-width="0.95" /><line x1="70.33" y1="573.60" x2="70.33" y2="575.80" stroke="#141414" stroke-width="0.95" /><line x1="72.07" y1="573.60" x2="72.07" y2="575.80" stroke="#141414" stroke-width="0.95" /><line x1="73.81" y1="573.60" x2="73.81" y2="575.80" stroke="#141414" stroke-width="0.95" /><line x1="75.56" y1="573.60" x2="75.56" y2="575.80" stroke="#141414" stroke-width="0.95" /><line x1="77.30" y1="573.60" x2="77.30" y2="575.80" stroke="#141414" stroke-width="0.95" /><line x1="62.06" y1="574.80" x2="64.67" y2="574.80" stroke="#141414" stroke-width="2.2" /><line x1="85.14" y1="573.60" x2="85.14" y2="577.20" stroke="#141414" stroke-width="0.95" /><line x1="91.69" y1="573.60" x2="91.69" y2="575.80" stroke="#141414" stroke-width="0.95" /><line x1="95.53" y1="573.60" x2="95.53" y2="575.80" stroke="#141414" stroke-width="0.95" /><line x1="98.25" y1="573.60" x2="98.25" y2="575.80" stroke="#141414" stroke-width="0.95" /><line x1="100.36" y1="573.60" x2="100.36" y2="575.80" stroke="#141414" stroke-width="0.95" /><line x1="102.08" y1="573.60" x2="102.08" y2="575.80" stroke="#141414" stroke-width="0.95" /><line x1="103.54" y1="573.60" x2="103.54" y2="575.80" stroke="#141414" stroke-width="0.95" /><line x1="104.80" y1="573.60" x2="104.80" y2="575.80" stroke="#141414" stroke-width="0.95" /><line x1="105.92" y1="573.60" x2="105.92" y2="575.80" stroke="#141414" stroke-width="0.95" /><line x1="106.91" y1="573.60" x2="106.91" y2="577.20" stroke="#141414" stroke-width="0.95" /><line x1="113.47" y1="573.60" x2="113.47" y2="575.80" stroke="#141414" stroke-width="0.95" /><line x1="117.30" y1="573.60" x2="117.30" y2="575.80" stroke="#141414" stroke-width="0.95" /><line x1="120.02" y1="573.60" x2="120.02" y2="575.80" stroke="#141414" stroke-width="0.95" /><line x1="122.13" y1="573.60" x2="122.13" y2="575.80" stroke="#141414" stroke-width="0.95" /><line x1="123.86" y1="573.60" x2="123.86" y2="575.80" stroke="#141414" stroke-width="0.95" /><line x1="125.31" y1="573.60" x2="125.31" y2="575.80" stroke="#141414" stroke-width="0.95" /><line x1="126.58" y1="573.60" x2="126.58" y2="575.80" stroke="#141414" stroke-width="0.95" /><line x1="127.69" y1="573.60" x2="127.69" y2="575.80" stroke="#141414" stroke-width="0.95" /><line x1="128.69" y1="573.60" x2="128.69" y2="577.20" stroke="#141414" stroke-width="0.95" /><rect x="145.20" y="476.60" width="86.90" height="97.00" fill="none" stroke="#141414" stroke-width="1.3" /><line x1="150.41" y1="573.60" x2="150.41" y2="575.80" stroke="#141414" stroke-width="0.95" /><line x1="152.15" y1="573.60" x2="152.15" y2="575.80" stroke="#141414" stroke-width="0.95" /><line x1="153.89" y1="573.60" x2="153.89" y2="575.80" stroke="#141414" stroke-width="0.95" /><line x1="155.63" y1="573.60" x2="155.63" y2="575.80" stroke="#141414" stroke-width="0.95" /><line x1="157.37" y1="573.60" x2="157.37" y2="575.80" stroke="#141414" stroke-width="0.95" /><line x1="159.10" y1="573.60" x2="159.10" y2="575.80" stroke="#141414" stroke-width="0.95" /><line x1="160.84" y1="573.60" x2="160.84" y2="575.80" stroke="#141414" stroke-width="0.95" /><line x1="162.58" y1="573.60" x2="162.58" y2="575.80" stroke="#141414" stroke-width="0.95" /><line x1="164.32" y1="573.60" x2="164.32" y2="577.20" stroke="#141414" stroke-width="0.95" /><line x1="166.06" y1="573.60" x2="166.06" y2="575.80" stroke="#141414" stroke-width="0.95" /><line x1="167.79" y1="573.60" x2="167.79" y2="575.80" stroke="#141414" stroke-width="0.95" /><line x1="169.53" y1="573.60" x2="169.53" y2="575.80" stroke="#141414" stroke-width="0.95" /><line x1="171.27" y1="573.60" x2="171.27" y2="575.80" stroke="#141414" stroke-width="0.95" /><line x1="173.01" y1="573.60" x2="173.01" y2="575.80" stroke="#141414" stroke-width="0.95" /><line x1="174.75" y1="573.60" x2="174.75" y2="575.80" stroke="#141414" stroke-width="0.95" /><line x1="176.48" y1="573.60" x2="176.48" y2="575.80" stroke="#141414" stroke-width="0.95" /><line x1="178.22" y1="573.60" x2="178.22" y2="575.80" stroke="#141414" stroke-width="0.95" /><line x1="163.01" y1="574.80" x2="165.62" y2="574.80" stroke="#141414" stroke-width="2.2" /><line x1="186.04" y1="573.60" x2="186.04" y2="577.20" stroke="#141414" stroke-width="0.95" /><line x1="192.58" y1="573.60" x2="192.58" y2="575.80" stroke="#141414" stroke-width="0.95" /><line x1="196.41" y1="573.60" x2="196.41" y2="575.80" stroke="#141414" stroke-width="0.95" /><line x1="199.12" y1="573.60" x2="199.12" y2="575.80" stroke="#141414" stroke-width="0.95" /><line x1="201.23" y1="573.60" x2="201.23" y2="575.80" stroke="#141414" stroke-width="0.95" /><line x1="202.95" y1="573.60" x2="202.95" y2="575.80" stroke="#141414" stroke-width="0.95" /><line x1="204.40" y1="573.60" x2="204.40" y2="575.80" stroke="#141414" stroke-width="0.95" /><line x1="205.66" y1="573.60" x2="205.66" y2="575.80" stroke="#141414" stroke-width="0.95" /><line x1="206.77" y1="573.60" x2="206.77" y2="575.80" stroke="#141414" stroke-width="0.95" /><line x1="207.77" y1="573.60" x2="207.77" y2="577.20" stroke="#141414" stroke-width="0.95" /><line x1="214.31" y1="573.60" x2="214.31" y2="575.80" stroke="#141414" stroke-width="0.95" /><line x1="218.13" y1="573.60" x2="218.13" y2="575.80" stroke="#141414" stroke-width="0.95" /><line x1="220.85" y1="573.60" x2="220.85" y2="575.80" stroke="#141414" stroke-width="0.95" /><line x1="222.95" y1="573.60" x2="222.95" y2="575.80" stroke="#141414" stroke-width="0.95" /><line x1="224.67" y1="573.60" x2="224.67" y2="575.80" stroke="#141414" stroke-width="0.95" /><line x1="226.13" y1="573.60" x2="226.13" y2="575.80" stroke="#141414" stroke-width="0.95" /><line x1="227.39" y1="573.60" x2="227.39" y2="575.80" stroke="#141414" stroke-width="0.95" /><line x1="228.50" y1="573.60" x2="228.50" y2="575.80" stroke="#141414" stroke-width="0.95" /><line x1="229.49" y1="573.60" x2="229.49" y2="577.20" stroke="#141414" stroke-width="0.95" /><rect x="245.60" y="476.60" width="87.10" height="97.00" fill="none" stroke="#141414" stroke-width="1.3" /><line x1="250.83" y1="573.60" x2="250.83" y2="575.80" stroke="#141414" stroke-width="0.95" /><line x1="252.57" y1="573.60" x2="252.57" y2="575.80" stroke="#141414" stroke-width="0.95" /><line x1="254.31" y1="573.60" x2="254.31" y2="575.80" stroke="#141414" stroke-width="0.95" /><line x1="256.05" y1="573.60" x2="256.05" y2="575.80" stroke="#141414" stroke-width="0.95" /><line x1="257.79" y1="573.60" x2="257.79" y2="575.80" stroke="#141414" stroke-width="0.95" /><line x1="259.54" y1="573.60" x2="259.54" y2="575.80" stroke="#141414" stroke-width="0.95" /><line x1="261.28" y1="573.60" x2="261.28" y2="575.80" stroke="#141414" stroke-width="0.95" /><line x1="263.02" y1="573.60" x2="263.02" y2="575.80" stroke="#141414" stroke-width="0.95" /><line x1="264.76" y1="573.60" x2="264.76" y2="577.20" stroke="#141414" stroke-width="0.95" /><line x1="266.50" y1="573.60" x2="266.50" y2="575.80" stroke="#141414" stroke-width="0.95" /><line x1="268.25" y1="573.60" x2="268.25" y2="575.80" stroke="#141414" stroke-width="0.95" /><line x1="269.99" y1="573.60" x2="269.99" y2="575.80" stroke="#141414" stroke-width="0.95" /><line x1="271.73" y1="573.60" x2="271.73" y2="575.80" stroke="#141414" stroke-width="0.95" /><line x1="273.47" y1="573.60" x2="273.47" y2="575.80" stroke="#141414" stroke-width="0.95" /><line x1="275.21" y1="573.60" x2="275.21" y2="575.80" stroke="#141414" stroke-width="0.95" /><line x1="276.96" y1="573.60" x2="276.96" y2="575.80" stroke="#141414" stroke-width="0.95" /><line x1="278.70" y1="573.60" x2="278.70" y2="575.80" stroke="#141414" stroke-width="0.95" /><line x1="263.46" y1="574.80" x2="266.07" y2="574.80" stroke="#141414" stroke-width="2.2" /><line x1="286.54" y1="573.60" x2="286.54" y2="577.20" stroke="#141414" stroke-width="0.95" /><line x1="293.09" y1="573.60" x2="293.09" y2="575.80" stroke="#141414" stroke-width="0.95" /><line x1="296.93" y1="573.60" x2="296.93" y2="575.80" stroke="#141414" stroke-width="0.95" /><line x1="299.65" y1="573.60" x2="299.65" y2="575.80" stroke="#141414" stroke-width="0.95" /><line x1="301.76" y1="573.60" x2="301.76" y2="575.80" stroke="#141414" stroke-width="0.95" /><line x1="303.48" y1="573.60" x2="303.48" y2="575.80" stroke="#141414" stroke-width="0.95" /><line x1="304.94" y1="573.60" x2="304.94" y2="575.80" stroke="#141414" stroke-width="0.95" /><line x1="306.20" y1="573.60" x2="306.20" y2="575.80" stroke="#141414" stroke-width="0.95" /><line x1="307.32" y1="573.60" x2="307.32" y2="575.80" stroke="#141414" stroke-width="0.95" /><line x1="308.31" y1="573.60" x2="308.31" y2="577.20" stroke="#141414" stroke-width="0.95" /><line x1="314.87" y1="573.60" x2="314.87" y2="575.80" stroke="#141414" stroke-width="0.95" /><line x1="318.70" y1="573.60" x2="318.70" y2="575.80" stroke="#141414" stroke-width="0.95" /><line x1="321.42" y1="573.60" x2="321.42" y2="575.80" stroke="#141414" stroke-width="0.95" /><line x1="323.53" y1="573.60" x2="323.53" y2="575.80" stroke="#141414" stroke-width="0.95" /><line x1="325.26" y1="573.60" x2="325.26" y2="575.80" stroke="#141414" stroke-width="0.95" /><line x1="326.71" y1="573.60" x2="326.71" y2="575.80" stroke="#141414" stroke-width="0.95" /><line x1="327.98" y1="573.60" x2="327.98" y2="575.80" stroke="#141414" stroke-width="0.95" /><line x1="329.09" y1="573.60" x2="329.09" y2="575.80" stroke="#141414" stroke-width="0.95" /><line x1="330.09" y1="573.60" x2="330.09" y2="577.20" stroke="#141414" stroke-width="0.95" /><line x1="42.00" y1="567.78" x2="44.20" y2="567.78" stroke="#141414" stroke-width="0.95" /><line x1="42.00" y1="565.84" x2="44.20" y2="565.84" stroke="#141414" stroke-width="0.95" /><line x1="42.00" y1="563.90" x2="44.20" y2="563.90" stroke="#141414" stroke-width="0.95" /><line x1="42.00" y1="561.96" x2="44.20" y2="561.96" stroke="#141414" stroke-width="0.95" /><line x1="42.00" y1="560.02" x2="44.20" y2="560.02" stroke="#141414" stroke-width="0.95" /><line x1="42.00" y1="558.08" x2="44.20" y2="558.08" stroke="#141414" stroke-width="0.95" /><line x1="42.00" y1="556.14" x2="44.20" y2="556.14" stroke="#141414" stroke-width="0.95" /><line x1="42.00" y1="554.20" x2="44.20" y2="554.20" stroke="#141414" stroke-width="0.95" /><line x1="40.60" y1="552.26" x2="44.20" y2="552.26" stroke="#141414" stroke-width="0.95" /><line x1="42.00" y1="550.32" x2="44.20" y2="550.32" stroke="#141414" stroke-width="0.95" /><line x1="42.00" y1="548.38" x2="44.20" y2="548.38" stroke="#141414" stroke-width="0.95" /><line x1="42.00" y1="546.44" x2="44.20" y2="546.44" stroke="#141414" stroke-width="0.95" /><line x1="42.00" y1="544.50" x2="44.20" y2="544.50" stroke="#141414" stroke-width="0.95" /><line x1="42.00" y1="542.56" x2="44.20" y2="542.56" stroke="#141414" stroke-width="0.95" /><line x1="42.00" y1="540.62" x2="44.20" y2="540.62" stroke="#141414" stroke-width="0.95" /><line x1="42.00" y1="538.68" x2="44.20" y2="538.68" stroke="#141414" stroke-width="0.95" /><line x1="42.00" y1="536.74" x2="44.20" y2="536.74" stroke="#141414" stroke-width="0.95" /><line x1="43.00" y1="553.72" x2="43.00" y2="550.81" stroke="#141414" stroke-width="2.2" /><line x1="40.60" y1="528.01" x2="44.20" y2="528.01" stroke="#141414" stroke-width="0.95" /><line x1="42.00" y1="520.71" x2="44.20" y2="520.71" stroke="#141414" stroke-width="0.95" /><line x1="42.00" y1="516.44" x2="44.20" y2="516.44" stroke="#141414" stroke-width="0.95" /><line x1="42.00" y1="513.41" x2="44.20" y2="513.41" stroke="#141414" stroke-width="0.95" /><line x1="42.00" y1="511.06" x2="44.20" y2="511.06" stroke="#141414" stroke-width="0.95" /><line x1="42.00" y1="509.14" x2="44.20" y2="509.14" stroke="#141414" stroke-width="0.95" /><line x1="42.00" y1="507.52" x2="44.20" y2="507.52" stroke="#141414" stroke-width="0.95" /><line x1="42.00" y1="506.11" x2="44.20" y2="506.11" stroke="#141414" stroke-width="0.95" /><line x1="42.00" y1="504.87" x2="44.20" y2="504.87" stroke="#141414" stroke-width="0.95" /><line x1="40.60" y1="503.76" x2="44.20" y2="503.76" stroke="#141414" stroke-width="0.95" /><line x1="42.00" y1="496.46" x2="44.20" y2="496.46" stroke="#141414" stroke-width="0.95" /><line x1="42.00" y1="492.19" x2="44.20" y2="492.19" stroke="#141414" stroke-width="0.95" /><line x1="42.00" y1="489.16" x2="44.20" y2="489.16" stroke="#141414" stroke-width="0.95" /><line x1="42.00" y1="486.81" x2="44.20" y2="486.81" stroke="#141414" stroke-width="0.95" /><line x1="42.00" y1="484.89" x2="44.20" y2="484.89" stroke="#141414" stroke-width="0.95" /><line x1="42.00" y1="483.27" x2="44.20" y2="483.27" stroke="#141414" stroke-width="0.95" /><line x1="42.00" y1="481.86" x2="44.20" y2="481.86" stroke="#141414" stroke-width="0.95" /><line x1="42.00" y1="480.62" x2="44.20" y2="480.62" stroke="#141414" stroke-width="0.95" /><line x1="40.60" y1="479.51" x2="44.20" y2="479.51" stroke="#141414" stroke-width="0.95" /><line x1="28.10" y1="490.30" x2="28.10" y2="546.00" stroke="#141414" stroke-width="1.25" /><path d="M28.10,480.20 L23.10,492.30 L28.10,490.10 L33.10,492.30 Z" fill="#141414"/><text transform="translate(32.00,572.80) rotate(-90) scale(0.8141,1)" fill="#141414" stroke="#141414" stroke-width="0.28" ><tspan font-size="14.20">Ly6G</tspan></text><text transform="translate(45.40,592.60) scale(0.9167,1)" fill="#141414" stroke="#141414" stroke-width="0.28" ><tspan font-size="14.00">CD11b</tspan></text><line x1="84.60" y1="589.50" x2="311.40" y2="589.50" stroke="#141414" stroke-width="1.25" /><path d="M321.80,589.50 L309.40,584.60 L311.60,589.50 L309.40,594.40 Z" fill="#141414"/><line x1="394.50" y1="454.20" x2="394.50" y2="574.70" stroke="#141414" stroke-width="1.3" /><line x1="393.90" y1="574.20" x2="510.00" y2="574.20" stroke="#141414" stroke-width="1.3" /><line x1="390.00" y1="457.80" x2="394.50" y2="457.80" stroke="#141414" stroke-width="1.2" /><text transform="translate(371.60,461.80) scale(0.9640,1)" fill="#141414" stroke="#141414" stroke-width="0.28" ><tspan font-size="10.00">6.0</tspan></text><line x1="390.00" y1="496.60" x2="394.50" y2="496.60" stroke="#141414" stroke-width="1.2" /><text transform="translate(371.60,500.60) scale(0.9640,1)" fill="#141414" stroke="#141414" stroke-width="0.28" ><tspan font-size="10.00">4.0</tspan></text><line x1="390.00" y1="535.40" x2="394.50" y2="535.40" stroke="#141414" stroke-width="1.2" /><text transform="translate(371.60,539.40) scale(0.9640,1)" fill="#141414" stroke="#141414" stroke-width="0.28" ><tspan font-size="10.00">2.0</tspan></text><line x1="390.00" y1="574.20" x2="394.50" y2="574.20" stroke="#141414" stroke-width="1.2" /><text transform="translate(371.60,578.20) scale(0.9640,1)" fill="#141414" stroke="#141414" stroke-width="0.28" ><tspan font-size="10.00">0.0</tspan></text><line x1="417.30" y1="574.20" x2="417.30" y2="578.80" stroke="#141414" stroke-width="1.2" /><line x1="451.50" y1="574.20" x2="451.50" y2="578.80" stroke="#141414" stroke-width="1.2" /><line x1="485.80" y1="574.20" x2="485.80" y2="578.80" stroke="#141414" stroke-width="1.2" /><text transform="translate(360.50,555.80) rotate(-90) scale(1.0344,1)" fill="#141414" stroke="#141414" stroke-width="0.28" ><tspan font-size="12.40">Cells/mL x 10</tspan><tspan font-size="9.00" dy="-5.80">5</tspan></text><line x1="406.70" y1="505.80" x2="429.80" y2="505.80" stroke="#141414" stroke-width="1.2" /><line x1="439.80" y1="520.20" x2="464.40" y2="520.20" stroke="#141414" stroke-width="1.2" /><line x1="473.10" y1="552.00" x2="497.20" y2="552.00" stroke="#141414" stroke-width="1.2" /><circle cx="409.60" cy="480.80" r="2.45" fill="#a3243a"/><circle cx="417.30" cy="484.60" r="2.45" fill="#a3243a"/><circle cx="424.60" cy="479.20" r="2.45" fill="#a3243a"/><circle cx="417.30" cy="511.20" r="2.45" fill="#a3243a"/><circle cx="424.60" cy="515.40" r="2.45" fill="#a3243a"/><circle cx="410.00" cy="519.20" r="2.45" fill="#a3243a"/><circle cx="417.30" cy="521.50" r="2.45" fill="#a3243a"/><circle cx="417.30" cy="533.70" r="2.45" fill="#a3243a"/><circle cx="451.50" cy="488.50" r="2.45" fill="#a3243a"/><circle cx="451.50" cy="507.30" r="2.45" fill="#a3243a"/><circle cx="451.50" cy="515.80" r="2.45" fill="#a3243a"/><circle cx="451.50" cy="527.30" r="2.45" fill="#a3243a"/><circle cx="444.60" cy="531.70" r="2.45" fill="#a3243a"/><circle cx="451.50" cy="536.20" r="2.45" fill="#a3243a"/><circle cx="458.70" cy="534.60" r="2.45" fill="#a3243a"/><circle cx="493.50" cy="546.20" r="2.45" fill="#a3243a"/><circle cx="479.20" cy="550.30" r="2.45" fill="#a3243a"/><circle cx="486.20" cy="550.30" r="2.45" fill="#a3243a"/><circle cx="489.50" cy="553.80" r="2.45" fill="#a3243a"/><circle cx="482.80" cy="559.50" r="2.45" fill="#a3243a"/><text transform="translate(428.80,461.90) scale(0.9924,1)" fill="#141414" stroke="#141414" stroke-width="0.28" ><tspan font-size="10.00">P = 0.0005</tspan></text><line x1="415.40" y1="466.70" x2="488.80" y2="466.70" stroke="#141414" stroke-width="1.2" /><text transform="translate(443.80,479.80) scale(0.9924,1)" fill="#141414" stroke="#141414" stroke-width="0.28" ><tspan font-size="10.00">P = 0.0149</tspan></text><line x1="451.00" y1="482.70" x2="488.10" y2="482.70" stroke="#141414" stroke-width="1.2" /><text transform="translate(138.00,643.80) scale(1.0230,1)" fill="#141414" stroke="#141414" stroke-width="0.28" ><tspan font-size="10.60">Small and Large Peritoneal Macrophages (S/LPM)</tspan></text><text transform="translate(146.90,657.70) scale(1.0361,1)" fill="#141414" stroke="#141414" stroke-width="0.28" ><tspan font-size="10.60">Live/Single/CD45</tspan><tspan font-size="8.60" dy="-4.00">+</tspan><tspan font-size="10.60" dy="4.00">/CD11b</tspan><tspan font-size="8.60" dy="-4.00">+</tspan><tspan font-size="10.60" dy="4.00">/Ly6G</tspan><tspan font-size="7.60" dy="-4.20">-</tspan><tspan font-size="10.60" dy="4.20">/Ly6c</tspan><tspan font-size="8.20" dy="-4.40">Low-Med</tspan></text><line x1="48.20" y1="666.20" x2="469.50" y2="666.20" stroke="#141414" stroke-width="1.4" /><g filter="url(#spk7)"><path d="M112.00,690.00 C113.67,684.33 115.33,682.67 118.00,681.00 C120.67,679.33 124.00,679.00 128.00,680.00 C132.00,681.00 137.83,683.83 142.00,687.00 C146.17,690.17 149.83,694.83 153.00,699.00 C156.17,703.17 159.17,706.83 161.00,712.00 C162.83,717.17 163.83,723.58 164.00,730.00 C164.17,736.42 166.00,746.92 162.00,750.50 C158.00,754.08 147.83,751.33 140.00,751.50 C132.17,751.67 120.67,753.42 115.00,751.50 C109.33,749.58 107.17,746.08 106.00,740.00 C104.83,733.92 107.00,723.33 108.00,715.00 C109.00,706.67 110.33,695.67 112.00,690.00 Z" fill="#000" opacity="0.2"/><path d="M113.00,712.00 C115.00,706.17 115.83,702.00 118.00,700.00 C120.17,698.00 124.00,696.67 126.00,700.00 C128.00,703.33 129.67,711.67 130.00,720.00 C130.33,728.33 131.00,744.83 128.00,750.00 C125.00,755.17 115.67,753.50 112.00,751.00 C108.33,748.50 105.83,741.50 106.00,735.00 C106.17,728.50 111.00,717.83 113.00,712.00 Z" fill="#000" opacity="0.35"/><path d="M77.00,690.00 C78.75,683.50 82.00,678.92 87.00,676.00 C92.00,673.08 101.00,672.50 107.00,672.50 C113.00,672.50 119.50,673.42 123.00,676.00 C126.50,678.58 128.00,682.00 128.00,688.00 C128.00,694.00 125.33,706.67 123.00,712.00 C120.67,717.33 116.83,714.33 114.00,720.00 C111.17,725.67 108.33,740.50 106.00,746.00 C103.67,751.50 103.83,751.42 100.00,753.00 C96.17,754.58 86.92,756.67 83.00,755.50 C79.08,754.33 77.58,752.75 76.50,746.00 C75.42,739.25 76.42,724.33 76.50,715.00 C76.58,705.67 75.25,696.50 77.00,690.00 Z" fill="#000" opacity="0.3"/></g><path d="M80.00,690.00 C81.50,683.83 83.38,680.58 88.00,678.00 C92.62,675.42 102.12,674.58 107.70,674.50 C113.28,674.42 118.62,675.35 121.50,677.50 C124.38,679.65 125.08,681.90 125.00,687.40 C124.92,692.90 123.17,705.40 121.00,710.50 C118.83,715.60 114.83,712.12 112.00,718.00 C109.17,723.88 106.17,740.30 104.00,745.80 C101.83,751.30 102.50,749.72 99.00,751.00 C95.50,752.28 86.42,754.37 83.00,753.50 C79.58,752.63 79.17,752.22 78.50,745.80 C77.83,739.38 78.75,724.30 79.00,715.00 C79.25,705.70 78.50,696.17 80.00,690.00 Z" fill="#e6e6e6" stroke="#888" stroke-width="0.6"/><path d="M81.00,700.00 C82.00,695.67 83.50,691.83 86.00,689.00 C88.50,686.17 92.00,684.33 96.00,683.00 C100.00,681.67 106.00,680.67 110.00,681.00 C114.00,681.33 118.50,681.83 120.00,685.00 C121.50,688.17 121.00,695.83 119.00,700.00 C117.00,704.17 111.50,706.67 108.00,710.00 C104.50,713.33 100.50,715.33 98.00,720.00 C95.50,724.67 94.00,732.83 93.00,738.00 C92.00,743.17 93.83,748.67 92.00,751.00 C90.17,753.33 84.00,753.83 82.00,752.00 C80.00,750.17 80.33,746.17 80.00,740.00 C79.67,733.83 79.83,721.67 80.00,715.00 C80.17,708.33 80.00,704.33 81.00,700.00 Z" fill="#d6d6d6" stroke="#777" stroke-width="0.45"/><path d="M83.00,702.00 C84.00,698.67 85.17,694.67 88.00,692.00 C90.83,689.33 95.83,687.17 100.00,686.00 C104.17,684.83 110.17,684.00 113.00,685.00 C115.83,686.00 117.17,689.00 117.00,692.00 C116.83,695.00 114.67,700.00 112.00,703.00 C109.33,706.00 104.17,706.83 101.00,710.00 C97.83,713.17 94.83,717.00 93.00,722.00 C91.17,727.00 90.50,735.33 90.00,740.00 C89.50,744.67 91.17,748.33 90.00,750.00 C88.83,751.67 84.33,753.33 83.00,750.00 C81.67,746.67 82.17,736.33 82.00,730.00 C81.83,723.67 81.83,716.67 82.00,712.00 C82.17,707.33 82.00,705.33 83.00,702.00 Z" fill="#c4c4c4" stroke="#666" stroke-width="0.45"/><ellipse cx="104.5" cy="691" rx="14.00" ry="9.50" fill="#b4b4b4" stroke="#5a5a5a" stroke-width="0.42" transform="rotate(-18 104.5 691)"/><ellipse cx="104.5" cy="691" rx="12.60" ry="8.55" fill="#b4b4b4" stroke="#5a5a5a" stroke-width="0.42" transform="rotate(-18 104.5 691)"/><ellipse cx="104.5" cy="691" rx="11.20" ry="7.60" fill="#b4b4b4" stroke="#5a5a5a" stroke-width="0.42" transform="rotate(-18 104.5 691)"/><ellipse cx="104.5" cy="691" rx="9.80" ry="6.65" fill="#b4b4b4" stroke="#5a5a5a" stroke-width="0.42" transform="rotate(-18 104.5 691)"/><ellipse cx="104.5" cy="691" rx="8.40" ry="5.70" fill="#b4b4b4" stroke="#5a5a5a" stroke-width="0.42" transform="rotate(-18 104.5 691)"/><ellipse cx="104.5" cy="691" rx="7.00" ry="4.75" fill="#b4b4b4" stroke="#5a5a5a" stroke-width="0.42" transform="rotate(-18 104.5 691)"/><ellipse cx="104.5" cy="691" rx="5.60" ry="3.80" fill="#d0d0d0" stroke="#5a5a5a" stroke-width="0.42" transform="rotate(-18 104.5 691)"/><ellipse cx="104.5" cy="691" rx="4.20" ry="2.85" fill="#d0d0d0" stroke="#5a5a5a" stroke-width="0.42" transform="rotate(-18 104.5 691)"/><ellipse cx="104.5" cy="691" rx="2.80" ry="1.90" fill="#d0d0d0" stroke="#5a5a5a" stroke-width="0.42" transform="rotate(-18 104.5 691)"/><ellipse cx="104.8" cy="690.6" rx="3.2" ry="1.3" fill="#f4f4f4" transform="rotate(-18 104.8 690.6)"/><ellipse cx="86" cy="738" rx="4.2" ry="14" fill="#8a8a8a" stroke="#555" stroke-width="0.4"/><ellipse cx="86" cy="741" rx="2.8" ry="9" fill="#5e5e5e" stroke="#444" stroke-width="0.4"/><ellipse cx="86.2" cy="747.2" rx="1.6" ry="3.0" fill="#ffffff"/><path d="M91.9,751.0 C97.0,736.0 101.0,718.4 112.6,707.0" fill="none" stroke="#6a6a6a" stroke-width="0.45"/><path d="M92.8,751.0 C99.0,736.0 103.0,717.8 114.2,706.0" fill="none" stroke="#6a6a6a" stroke-width="0.45"/><path d="M93.7,751.0 C101.0,736.0 105.0,717.2 115.8,705.0" fill="none" stroke="#6a6a6a" stroke-width="0.45"/><path d="M94.6,751.0 C103.0,736.0 107.0,716.6 117.4,704.0" fill="none" stroke="#6a6a6a" stroke-width="0.45"/><path d="M95.5,751.0 C105.0,736.0 109.0,716.0 119.0,703.0" fill="none" stroke="#6a6a6a" stroke-width="0.45"/><path d="M89.7,682.5 L107.7,675.8 L120.0,679.7 L122.3,695.1 L106.9,707.4 L93.5,707.7 Z" fill="none" stroke="#d0393f" stroke-width="0.9"/><path d="M80.0,735.4 L91.5,736.6 L94.2,745.1 L92.6,755.1 L83.1,756.3 L76.6,750.5 Z" fill="none" stroke="#5aa7d8" stroke-width="0.9"/><text transform="translate(57.10,693.10) scale(0.9082,1)" fill="#d0393f" stroke="#d0393f" stroke-width="0.28" ><tspan font-size="11.30">LPM</tspan></text><text transform="translate(57.00,767.50) scale(0.8576,1)" fill="#5aa7d8" stroke="#5aa7d8" stroke-width="0.28" ><tspan font-size="11.30">SPM</tspan></text><g filter="url(#spk8)"><path d="M223.06,708.30 C221.92,706.01 223.02,700.05 225.48,696.20 C227.94,692.35 231.71,688.50 237.80,685.20 C243.89,681.90 253.93,678.14 262.00,676.40 C270.07,674.66 280.97,674.20 286.20,674.75 C291.43,675.30 292.43,676.31 293.35,679.70 C294.27,683.09 294.18,690.70 291.70,695.10 C289.22,699.50 284.73,703.62 278.50,706.10 C272.27,708.58 262.00,709.31 254.30,709.95 C246.60,710.59 237.51,710.23 232.30,709.95 C227.09,709.68 224.20,710.59 223.06,708.30 Z" fill="#000" opacity="0.4"/></g><path d="M226.60,707.00 C225.57,704.92 226.57,699.50 228.80,696.00 C231.03,692.50 234.47,689.00 240.00,686.00 C245.53,683.00 254.67,679.58 262.00,678.00 C269.33,676.42 279.25,676.00 284.00,676.50 C288.75,677.00 289.67,677.92 290.50,681.00 C291.33,684.08 291.25,691.00 289.00,695.00 C286.75,699.00 282.67,702.75 277.00,705.00 C271.33,707.25 262.00,707.92 255.00,708.50 C248.00,709.08 239.73,708.75 235.00,708.50 C230.27,708.25 227.63,709.08 226.60,707.00 Z" fill="url(#pinkg)" stroke="#d9706a" stroke-width="0.55"/><path d="M229.80,705.53 C228.85,703.61 229.77,698.64 231.82,695.43 C233.87,692.21 237.02,689.00 242.10,686.25 C247.18,683.49 255.57,680.35 262.30,678.90 C269.03,677.45 278.14,677.06 282.50,677.52 C286.86,677.98 287.70,678.82 288.47,681.65 C289.23,684.49 289.16,690.84 287.09,694.51 C285.03,698.18 281.28,701.62 276.07,703.69 C270.87,705.76 262.30,706.37 255.87,706.90 C249.45,707.44 241.86,707.13 237.51,706.90 C233.16,706.68 230.75,707.44 229.80,705.53 Z" fill="none" stroke="#dc7770" stroke-width="0.42"/><path d="M232.99,704.05 C232.13,702.31 232.96,697.78 234.83,694.85 C236.70,691.93 239.57,689.00 244.20,686.49 C248.83,683.98 256.47,681.12 262.60,679.80 C268.73,678.48 277.03,678.13 281.00,678.55 C284.97,678.96 285.74,679.73 286.44,682.31 C287.13,684.89 287.06,690.67 285.18,694.02 C283.30,697.36 279.88,700.50 275.15,702.38 C270.41,704.26 262.60,704.82 256.75,705.31 C250.89,705.80 243.98,705.52 240.02,705.31 C236.06,705.10 233.86,705.80 232.99,704.05 Z" fill="none" stroke="#dc7770" stroke-width="0.42"/><path d="M236.19,702.58 C235.41,701.01 236.16,696.92 237.85,694.28 C239.53,691.64 242.12,689.00 246.30,686.74 C250.48,684.47 257.37,681.89 262.90,680.70 C268.43,679.51 275.92,679.19 279.50,679.57 C283.08,679.95 283.78,680.64 284.40,682.96 C285.03,685.29 284.97,690.51 283.27,693.53 C281.57,696.55 278.49,699.37 274.22,701.07 C269.94,702.77 262.90,703.27 257.62,703.71 C252.34,704.15 246.10,703.90 242.53,703.71 C238.96,703.52 236.97,704.15 236.19,702.58 Z" fill="none" stroke="#dc7770" stroke-width="0.42"/><path d="M239.39,701.11 C238.69,699.71 239.36,696.06 240.87,693.71 C242.37,691.35 244.68,689.00 248.40,686.98 C252.12,684.96 258.27,682.67 263.20,681.60 C268.13,680.53 274.80,680.25 278.00,680.59 C281.20,680.93 281.81,681.54 282.37,683.62 C282.93,685.69 282.88,690.35 281.36,693.04 C279.85,695.73 277.10,698.25 273.29,699.76 C269.48,701.28 263.20,701.73 258.49,702.12 C253.78,702.51 248.22,702.29 245.04,702.12 C241.85,701.95 240.08,702.51 239.39,701.11 Z" fill="none" stroke="#dc7770" stroke-width="0.42"/><path d="M242.58,699.64 C241.97,698.41 242.56,695.20 243.88,693.14 C245.20,691.07 247.23,689.00 250.50,687.23 C253.77,685.45 259.17,683.44 263.50,682.50 C267.83,681.56 273.69,681.32 276.50,681.61 C279.31,681.91 279.85,682.45 280.34,684.27 C280.83,686.09 280.78,690.18 279.45,692.55 C278.12,694.91 275.71,697.12 272.36,698.45 C269.02,699.78 263.50,700.18 259.36,700.52 C255.23,700.87 250.34,700.67 247.55,700.52 C244.75,700.38 243.19,700.87 242.58,699.64 Z" fill="none" stroke="#dc7770" stroke-width="0.42"/><path d="M245.78,698.16 C245.25,697.10 245.76,694.35 246.90,692.56 C248.04,690.78 249.78,689.00 252.60,687.47 C255.42,685.95 260.07,684.21 263.80,683.40 C267.53,682.59 272.58,682.38 275.00,682.64 C277.42,682.89 277.88,683.36 278.31,684.93 C278.73,686.50 278.69,690.02 277.55,692.05 C276.40,694.09 274.32,696.00 271.44,697.15 C268.55,698.29 263.80,698.63 260.24,698.93 C256.67,699.22 252.46,699.05 250.05,698.93 C247.64,698.80 246.30,699.22 245.78,698.16 Z" fill="none" stroke="#dc7770" stroke-width="0.42"/><path d="M248.97,696.69 C248.53,695.80 248.96,693.49 249.91,691.99 C250.87,690.50 252.34,689.00 254.70,687.72 C257.06,686.44 260.97,684.98 264.10,684.30 C267.23,683.62 271.47,683.45 273.50,683.66 C275.53,683.87 275.92,684.26 276.28,685.58 C276.63,686.90 276.60,689.85 275.64,691.56 C274.68,693.27 272.93,694.88 270.51,695.84 C268.09,696.80 264.10,697.08 261.11,697.33 C258.12,697.58 254.59,697.44 252.56,697.33 C250.54,697.23 249.42,697.58 248.97,696.69 Z" fill="none" stroke="#dc7770" stroke-width="0.42"/><path d="M252.17,695.22 C251.81,694.50 252.16,692.63 252.93,691.42 C253.70,690.21 254.89,689.00 256.80,687.96 C258.71,686.93 261.87,685.75 264.40,685.20 C266.93,684.65 270.36,684.51 272.00,684.68 C273.64,684.85 273.96,685.17 274.25,686.24 C274.53,687.30 274.50,689.69 273.73,691.07 C272.95,692.45 271.54,693.75 269.58,694.53 C267.62,695.30 264.40,695.53 261.98,695.74 C259.56,695.94 256.71,695.82 255.07,695.74 C253.44,695.65 252.53,695.94 252.17,695.22 Z" fill="none" stroke="#dc7770" stroke-width="0.42"/><path d="M255.37,693.75 C255.09,693.20 255.36,691.77 255.95,690.85 C256.54,689.92 257.44,689.00 258.90,688.21 C260.36,687.42 262.77,686.52 264.70,686.10 C266.63,685.68 269.25,685.57 270.50,685.70 C271.75,685.84 271.99,686.08 272.21,686.89 C272.43,687.70 272.41,689.53 271.82,690.58 C271.23,691.64 270.15,692.62 268.65,693.22 C267.16,693.81 264.70,693.99 262.85,694.14 C261.01,694.29 258.83,694.21 257.58,694.14 C256.33,694.08 255.64,694.29 255.37,693.75 Z" fill="none" stroke="#dc7770" stroke-width="0.42"/><path d="M258.56,692.27 C258.38,691.89 258.56,690.91 258.96,690.27 C259.37,689.64 259.99,689.00 261.00,688.45 C262.01,687.91 263.67,687.29 265.00,687.00 C266.33,686.71 268.14,686.64 269.00,686.73 C269.86,686.82 270.03,686.98 270.18,687.55 C270.33,688.11 270.32,689.36 269.91,690.09 C269.50,690.82 268.76,691.50 267.73,691.91 C266.70,692.32 265.00,692.44 263.73,692.55 C262.45,692.65 260.95,692.59 260.09,692.55 C259.23,692.50 258.75,692.65 258.56,692.27 Z" fill="none" stroke="#dc7770" stroke-width="0.42"/><ellipse cx="265.3" cy="689.5" rx="3.8" ry="1.5" transform="rotate(-15 265.3 689.5)" fill="#fff" opacity="0.9" filter="url(#b05)"/><g filter="url(#spk9)"><ellipse cx="228.5" cy="743.5" rx="6.6" ry="10.450000000000001" fill="#000" opacity="0.6"/><path d="M228.5,735.9 L272,738.75 L272,748.25 L228.5,751.1 Z" fill="#000" opacity="0.05"/></g><ellipse cx="228.5" cy="743.5" rx="5.50" ry="9.50" fill="#b4d8f0" stroke="#62acdc" stroke-width="0.5"/><ellipse cx="228.5" cy="743.5" rx="4.40" ry="7.60" fill="none" stroke="#62acdc" stroke-width="0.5"/><ellipse cx="228.5" cy="743.5" rx="3.30" ry="5.70" fill="none" stroke="#62acdc" stroke-width="0.5"/><ellipse cx="228.5" cy="743.5" rx="2.20" ry="3.80" fill="none" stroke="#62acdc" stroke-width="0.5"/><circle cx="258.30" cy="746.89" r="0.40" fill="#62acdc"/><circle cx="242.48" cy="744.04" r="0.40" fill="#62acdc"/><circle cx="261.99" cy="739.49" r="0.40" fill="#62acdc"/><circle cx="237.30" cy="735.42" r="0.40" fill="#62acdc"/><circle cx="250.03" cy="746.45" r="0.40" fill="#62acdc"/><circle cx="253.20" cy="744.06" r="0.40" fill="#62acdc"/><circle cx="235.01" cy="745.46" r="0.40" fill="#62acdc"/><circle cx="254.71" cy="749.38" r="0.40" fill="#62acdc"/><circle cx="242.38" cy="736.91" r="0.40" fill="#62acdc"/><circle cx="234.25" cy="739.36" r="0.40" fill="#62acdc"/><circle cx="264.62" cy="742.25" r="0.40" fill="#62acdc"/><circle cx="239.91" cy="739.81" r="0.40" fill="#62acdc"/><circle cx="270.37" cy="742.52" r="0.40" fill="#62acdc"/><circle cx="237.68" cy="745.11" r="0.40" fill="#62acdc"/><circle cx="266.20" cy="737.33" r="0.40" fill="#62acdc"/><circle cx="261.73" cy="738.80" r="0.40" fill="#62acdc"/><circle cx="254.38" cy="747.61" r="0.40" fill="#62acdc"/><circle cx="254.98" cy="742.80" r="0.40" fill="#62acdc"/><circle cx="265.52" cy="737.25" r="0.40" fill="#62acdc"/><circle cx="255.94" cy="737.74" r="0.40" fill="#62acdc"/><circle cx="260.77" cy="746.45" r="0.40" fill="#62acdc"/><circle cx="245.00" cy="744.37" r="0.40" fill="#62acdc"/><circle cx="237.03" cy="743.71" r="0.40" fill="#62acdc"/><circle cx="244.56" cy="745.46" r="0.40" fill="#62acdc"/><circle cx="258.16" cy="740.78" r="0.40" fill="#62acdc"/><rect x="245.50" y="675.50" width="45.50" height="40.80" fill="none" stroke="#333" stroke-width="0.9" /><rect x="245.50" y="727.00" width="45.50" height="38.00" fill="none" stroke="#333" stroke-width="0.9" /><g filter="url(#spk10)"><path d="M364.70,706.20 C363.60,703.54 364.52,699.05 365.80,695.20 C367.08,691.35 369.10,686.22 372.40,683.10 C375.70,679.98 380.83,677.69 385.60,676.50 C390.37,675.31 396.60,675.03 401.00,675.95 C405.40,676.87 410.17,678.98 412.00,682.00 C413.83,685.02 413.47,690.25 412.00,694.10 C410.53,697.95 407.23,702.35 403.20,705.10 C399.17,707.85 392.93,709.59 387.80,710.60 C382.67,711.61 376.25,711.88 372.40,711.15 C368.55,710.42 365.80,708.86 364.70,706.20 Z" fill="#000" opacity="0.4"/></g><path d="M367.00,705.00 C366.00,702.58 366.83,698.50 368.00,695.00 C369.17,691.50 371.00,686.83 374.00,684.00 C377.00,681.17 381.67,679.08 386.00,678.00 C390.33,676.92 396.00,676.67 400.00,677.50 C404.00,678.33 408.33,680.25 410.00,683.00 C411.67,685.75 411.33,690.50 410.00,694.00 C408.67,697.50 405.67,701.50 402.00,704.00 C398.33,706.50 392.67,708.08 388.00,709.00 C383.33,709.92 377.50,710.17 374.00,709.50 C370.50,708.83 368.00,707.42 367.00,705.00 Z" fill="url(#pinkg)" stroke="#d9706a" stroke-width="0.55"/><path d="M368.88,703.88 C367.96,701.66 368.73,697.91 369.80,694.70 C370.87,691.49 372.55,687.20 375.31,684.60 C378.06,682.00 382.35,680.09 386.33,679.09 C390.31,678.10 395.51,677.87 399.18,678.63 C402.85,679.40 406.83,681.16 408.36,683.68 C409.89,686.21 409.59,690.57 408.36,693.78 C407.14,697.00 404.38,700.67 401.02,702.96 C397.65,705.26 392.45,706.71 388.16,707.55 C383.88,708.40 378.52,708.63 375.31,708.01 C372.10,707.40 369.80,706.10 368.88,703.88 Z" fill="none" stroke="#dc7770" stroke-width="0.42"/><path d="M370.76,702.76 C369.93,700.74 370.62,697.33 371.60,694.40 C372.58,691.47 374.11,687.57 376.62,685.20 C379.13,682.83 383.03,681.09 386.65,680.18 C390.28,679.28 395.02,679.07 398.36,679.76 C401.71,680.46 405.33,682.06 406.73,684.36 C408.12,686.66 407.84,690.64 406.73,693.56 C405.61,696.49 403.10,699.84 400.04,701.93 C396.97,704.02 392.23,705.34 388.33,706.11 C384.42,706.88 379.55,707.08 376.62,706.53 C373.69,705.97 371.60,704.78 370.76,702.76 Z" fill="none" stroke="#dc7770" stroke-width="0.42"/><path d="M372.65,701.65 C371.89,699.82 372.52,696.74 373.40,694.10 C374.28,691.46 375.66,687.94 377.93,685.80 C380.19,683.66 383.71,682.09 386.98,681.27 C390.25,680.46 394.53,680.27 397.55,680.90 C400.56,681.52 403.83,682.97 405.09,685.05 C406.35,687.12 406.10,690.70 405.09,693.35 C404.08,695.99 401.82,699.00 399.05,700.89 C396.29,702.78 392.01,703.97 388.49,704.66 C384.97,705.36 380.57,705.54 377.93,705.04 C375.29,704.54 373.40,703.47 372.65,701.65 Z" fill="none" stroke="#dc7770" stroke-width="0.42"/><path d="M374.53,700.53 C373.85,698.90 374.42,696.15 375.20,693.80 C375.98,691.45 377.22,688.31 379.24,686.40 C381.25,684.49 384.39,683.09 387.31,682.36 C390.22,681.63 394.04,681.47 396.73,682.03 C399.42,682.59 402.33,683.88 403.45,685.73 C404.58,687.58 404.35,690.77 403.45,693.13 C402.56,695.48 400.54,698.17 398.07,699.85 C395.61,701.54 391.79,702.60 388.65,703.22 C385.52,703.83 381.59,704.00 379.24,703.55 C376.88,703.11 375.20,702.15 374.53,700.53 Z" fill="none" stroke="#dc7770" stroke-width="0.42"/><path d="M376.41,699.41 C375.82,697.98 376.31,695.57 377.00,693.50 C377.69,691.43 378.77,688.67 380.55,687.00 C382.32,685.33 385.08,684.09 387.64,683.45 C390.20,682.81 393.55,682.67 395.91,683.16 C398.27,683.65 400.83,684.78 401.82,686.41 C402.80,688.03 402.61,690.84 401.82,692.91 C401.03,694.98 399.26,697.34 397.09,698.82 C394.92,700.30 391.58,701.23 388.82,701.77 C386.06,702.31 382.61,702.46 380.55,702.07 C378.48,701.67 377.00,700.84 376.41,699.41 Z" fill="none" stroke="#dc7770" stroke-width="0.42"/><path d="M378.29,698.29 C377.78,697.06 378.21,694.98 378.80,693.20 C379.39,691.42 380.33,689.04 381.85,687.60 C383.38,686.16 385.76,685.10 387.96,684.55 C390.17,683.99 393.05,683.87 395.09,684.29 C397.13,684.72 399.33,685.69 400.18,687.09 C401.03,688.49 400.86,690.91 400.18,692.69 C399.50,694.47 397.98,696.51 396.11,697.78 C394.24,699.05 391.36,699.86 388.98,700.33 C386.61,700.79 383.64,700.92 381.85,700.58 C380.07,700.24 378.80,699.52 378.29,698.29 Z" fill="none" stroke="#dc7770" stroke-width="0.42"/><path d="M380.17,697.17 C379.75,696.14 380.10,694.40 380.60,692.90 C381.10,691.40 381.88,689.41 383.16,688.20 C384.45,686.99 386.44,686.10 388.29,685.64 C390.14,685.17 392.56,685.07 394.27,685.42 C395.98,685.78 397.83,686.60 398.55,687.77 C399.26,688.95 399.12,690.98 398.55,692.47 C397.98,693.97 396.69,695.68 395.13,696.75 C393.56,697.81 391.14,698.49 389.15,698.88 C387.15,699.27 384.66,699.38 383.16,699.10 C381.67,698.81 380.60,698.21 380.17,697.17 Z" fill="none" stroke="#dc7770" stroke-width="0.42"/><path d="M382.05,696.05 C381.71,695.22 382.00,693.81 382.40,692.60 C382.80,691.39 383.44,689.78 384.47,688.80 C385.51,687.82 387.12,687.10 388.62,686.73 C390.12,686.35 392.07,686.27 393.45,686.55 C394.84,686.84 396.33,687.50 396.91,688.45 C397.48,689.40 397.37,691.05 396.91,692.25 C396.45,693.46 395.41,694.85 394.15,695.71 C392.88,696.57 390.92,697.12 389.31,697.44 C387.70,697.75 385.68,697.84 384.47,697.61 C383.26,697.38 382.40,696.89 382.05,696.05 Z" fill="none" stroke="#dc7770" stroke-width="0.42"/><path d="M383.94,694.94 C383.67,694.30 383.89,693.22 384.20,692.30 C384.51,691.38 384.99,690.15 385.78,689.40 C386.57,688.65 387.80,688.10 388.95,687.82 C390.09,687.53 391.58,687.47 392.64,687.69 C393.69,687.91 394.83,688.41 395.27,689.14 C395.71,689.86 395.62,691.11 395.27,692.04 C394.92,692.96 394.13,694.01 393.16,694.67 C392.20,695.33 390.70,695.75 389.47,695.99 C388.24,696.23 386.70,696.30 385.78,696.12 C384.86,695.95 384.20,695.57 383.94,694.94 Z" fill="none" stroke="#dc7770" stroke-width="0.42"/><path d="M385.82,693.82 C385.64,693.38 385.79,692.64 386.00,692.00 C386.21,691.36 386.55,690.52 387.09,690.00 C387.64,689.48 388.48,689.11 389.27,688.91 C390.06,688.71 391.09,688.67 391.82,688.82 C392.55,688.97 393.33,689.32 393.64,689.82 C393.94,690.32 393.88,691.18 393.64,691.82 C393.39,692.45 392.85,693.18 392.18,693.64 C391.52,694.09 390.48,694.38 389.64,694.55 C388.79,694.71 387.73,694.76 387.09,694.64 C386.45,694.52 386.00,694.26 385.82,693.82 Z" fill="none" stroke="#dc7770" stroke-width="0.42"/><ellipse cx="390" cy="691.5" rx="3.8" ry="1.5" transform="rotate(-30 390 691.5)" fill="#fff" opacity="0.9" filter="url(#b05)"/><g filter="url(#spk11)"><ellipse cx="372.5" cy="744.5" rx="9.0" ry="11.55" fill="#000" opacity="0.6"/><path d="M372.5,736.1 L419,739.25 L419,749.75 L372.5,752.9 Z" fill="#000" opacity="0.16"/></g><ellipse cx="372.5" cy="744.5" rx="7.50" ry="10.50" fill="#b4d8f0" stroke="#62acdc" stroke-width="0.5"/><ellipse cx="372.5" cy="744.5" rx="6.00" ry="8.40" fill="none" stroke="#62acdc" stroke-width="0.5"/><ellipse cx="372.5" cy="744.5" rx="4.50" ry="6.30" fill="none" stroke="#62acdc" stroke-width="0.5"/><ellipse cx="372.5" cy="744.5" rx="3.00" ry="4.20" fill="none" stroke="#62acdc" stroke-width="0.5"/><circle cx="395.93" cy="735.42" r="0.40" fill="#62acdc"/><circle cx="386.89" cy="742.05" r="0.40" fill="#62acdc"/><circle cx="388.78" cy="746.81" r="0.40" fill="#62acdc"/><circle cx="380.34" cy="744.93" r="0.40" fill="#62acdc"/><circle cx="386.11" cy="730.29" r="0.40" fill="#62acdc"/><circle cx="407.05" cy="743.27" r="0.40" fill="#62acdc"/><circle cx="394.76" cy="738.51" r="0.40" fill="#62acdc"/><circle cx="392.72" cy="748.57" r="0.40" fill="#62acdc"/><circle cx="382.87" cy="748.06" r="0.40" fill="#62acdc"/><circle cx="384.37" cy="739.01" r="0.40" fill="#62acdc"/><circle cx="382.73" cy="754.39" r="0.40" fill="#62acdc"/><circle cx="384.20" cy="751.19" r="0.40" fill="#62acdc"/><circle cx="404.39" cy="745.74" r="0.40" fill="#62acdc"/><circle cx="395.05" cy="744.26" r="0.40" fill="#62acdc"/><circle cx="398.61" cy="747.15" r="0.40" fill="#62acdc"/><circle cx="390.08" cy="742.98" r="0.40" fill="#62acdc"/><circle cx="389.67" cy="751.24" r="0.40" fill="#62acdc"/><circle cx="411.85" cy="746.65" r="0.40" fill="#62acdc"/><circle cx="397.02" cy="751.76" r="0.40" fill="#62acdc"/><circle cx="408.74" cy="746.26" r="0.40" fill="#62acdc"/><circle cx="405.48" cy="740.28" r="0.40" fill="#62acdc"/><circle cx="404.59" cy="752.34" r="0.40" fill="#62acdc"/><circle cx="403.01" cy="741.17" r="0.40" fill="#62acdc"/><circle cx="397.77" cy="743.63" r="0.40" fill="#62acdc"/><circle cx="410.97" cy="742.74" r="0.40" fill="#62acdc"/><circle cx="411.96" cy="740.52" r="0.40" fill="#62acdc"/><circle cx="412.74" cy="747.16" r="0.40" fill="#62acdc"/><circle cx="388.70" cy="745.25" r="0.40" fill="#62acdc"/><circle cx="380.57" cy="744.65" r="0.40" fill="#62acdc"/><circle cx="401.18" cy="737.68" r="0.40" fill="#62acdc"/><circle cx="418.79" cy="742.54" r="0.40" fill="#62acdc"/><circle cx="384.35" cy="746.97" r="0.40" fill="#62acdc"/><circle cx="393.27" cy="747.89" r="0.40" fill="#62acdc"/><circle cx="382.31" cy="739.01" r="0.40" fill="#62acdc"/><circle cx="396.90" cy="750.80" r="0.40" fill="#62acdc"/><circle cx="384.78" cy="746.46" r="0.40" fill="#62acdc"/><circle cx="387.00" cy="738.88" r="0.40" fill="#62acdc"/><circle cx="404.17" cy="737.50" r="0.40" fill="#62acdc"/><circle cx="391.45" cy="742.20" r="0.40" fill="#62acdc"/><circle cx="380.26" cy="741.52" r="0.40" fill="#62acdc"/><circle cx="390.68" cy="741.99" r="0.40" fill="#62acdc"/><circle cx="387.51" cy="738.36" r="0.40" fill="#62acdc"/><circle cx="412.78" cy="746.36" r="0.40" fill="#62acdc"/><circle cx="417.48" cy="741.16" r="0.40" fill="#62acdc"/><circle cx="390.24" cy="749.70" r="0.40" fill="#62acdc"/><circle cx="413.73" cy="746.74" r="0.40" fill="#62acdc"/><circle cx="403.39" cy="739.27" r="0.40" fill="#62acdc"/><circle cx="391.08" cy="742.93" r="0.40" fill="#62acdc"/><circle cx="391.70" cy="739.62" r="0.40" fill="#62acdc"/><circle cx="416.77" cy="747.90" r="0.40" fill="#62acdc"/><circle cx="382.84" cy="744.35" r="0.40" fill="#62acdc"/><circle cx="405.63" cy="755.83" r="0.40" fill="#62acdc"/><circle cx="382.90" cy="738.10" r="0.40" fill="#62acdc"/><circle cx="415.57" cy="746.96" r="0.40" fill="#62acdc"/><circle cx="383.28" cy="751.13" r="0.40" fill="#62acdc"/><circle cx="390.87" cy="739.83" r="0.40" fill="#62acdc"/><circle cx="400.80" cy="746.11" r="0.40" fill="#62acdc"/><circle cx="407.35" cy="741.36" r="0.40" fill="#62acdc"/><circle cx="401.84" cy="747.87" r="0.40" fill="#62acdc"/><circle cx="396.09" cy="746.17" r="0.40" fill="#62acdc"/><circle cx="385.44" cy="747.86" r="0.40" fill="#62acdc"/><circle cx="389.04" cy="743.26" r="0.40" fill="#62acdc"/><circle cx="403.29" cy="740.42" r="0.40" fill="#62acdc"/><circle cx="392.69" cy="743.79" r="0.40" fill="#62acdc"/><circle cx="399.36" cy="746.11" r="0.40" fill="#62acdc"/><circle cx="415.57" cy="743.47" r="0.40" fill="#62acdc"/><circle cx="416.58" cy="741.04" r="0.40" fill="#62acdc"/><circle cx="394.90" cy="736.72" r="0.40" fill="#62acdc"/><circle cx="417.54" cy="744.16" r="0.40" fill="#62acdc"/><circle cx="397.51" cy="737.31" r="0.40" fill="#62acdc"/><rect x="382.00" y="675.50" width="43.50" height="40.00" fill="none" stroke="#333" stroke-width="0.9" /><rect x="381.50" y="729.50" width="44.00" height="40.00" fill="none" stroke="#333" stroke-width="0.9" /><rect x="50.50" y="672.10" width="127.70" height="124.20" fill="none" stroke="#141414" stroke-width="1.2" /><line x1="58.16" y1="796.30" x2="58.16" y2="798.50" stroke="#141414" stroke-width="0.95" /><line x1="60.72" y1="796.30" x2="60.72" y2="798.50" stroke="#141414" stroke-width="0.95" /><line x1="63.27" y1="796.30" x2="63.27" y2="798.50" stroke="#141414" stroke-width="0.95" /><line x1="65.82" y1="796.30" x2="65.82" y2="798.50" stroke="#141414" stroke-width="0.95" /><line x1="68.38" y1="796.30" x2="68.38" y2="798.50" stroke="#141414" stroke-width="0.95" /><line x1="70.93" y1="796.30" x2="70.93" y2="798.50" stroke="#141414" stroke-width="0.95" /><line x1="73.49" y1="796.30" x2="73.49" y2="798.50" stroke="#141414" stroke-width="0.95" /><line x1="76.04" y1="796.30" x2="76.04" y2="798.50" stroke="#141414" stroke-width="0.95" /><line x1="78.59" y1="796.30" x2="78.59" y2="799.90" stroke="#141414" stroke-width="0.95" /><line x1="81.15" y1="796.30" x2="81.15" y2="798.50" stroke="#141414" stroke-width="0.95" /><line x1="83.70" y1="796.30" x2="83.70" y2="798.50" stroke="#141414" stroke-width="0.95" /><line x1="86.26" y1="796.30" x2="86.26" y2="798.50" stroke="#141414" stroke-width="0.95" /><line x1="88.81" y1="796.30" x2="88.81" y2="798.50" stroke="#141414" stroke-width="0.95" /><line x1="91.36" y1="796.30" x2="91.36" y2="798.50" stroke="#141414" stroke-width="0.95" /><line x1="93.92" y1="796.30" x2="93.92" y2="798.50" stroke="#141414" stroke-width="0.95" /><line x1="96.47" y1="796.30" x2="96.47" y2="798.50" stroke="#141414" stroke-width="0.95" /><line x1="99.03" y1="796.30" x2="99.03" y2="798.50" stroke="#141414" stroke-width="0.95" /><line x1="76.68" y1="797.50" x2="80.51" y2="797.50" stroke="#141414" stroke-width="2.2" /><line x1="110.52" y1="796.30" x2="110.52" y2="799.90" stroke="#141414" stroke-width="0.95" /><line x1="120.13" y1="796.30" x2="120.13" y2="798.50" stroke="#141414" stroke-width="0.95" /><line x1="125.75" y1="796.30" x2="125.75" y2="798.50" stroke="#141414" stroke-width="0.95" /><line x1="129.74" y1="796.30" x2="129.74" y2="798.50" stroke="#141414" stroke-width="0.95" /><line x1="132.83" y1="796.30" x2="132.83" y2="798.50" stroke="#141414" stroke-width="0.95" /><line x1="135.36" y1="796.30" x2="135.36" y2="798.50" stroke="#141414" stroke-width="0.95" /><line x1="137.50" y1="796.30" x2="137.50" y2="798.50" stroke="#141414" stroke-width="0.95" /><line x1="139.35" y1="796.30" x2="139.35" y2="798.50" stroke="#141414" stroke-width="0.95" /><line x1="140.98" y1="796.30" x2="140.98" y2="798.50" stroke="#141414" stroke-width="0.95" /><line x1="142.44" y1="796.30" x2="142.44" y2="799.90" stroke="#141414" stroke-width="0.95" /><line x1="152.05" y1="796.30" x2="152.05" y2="798.50" stroke="#141414" stroke-width="0.95" /><line x1="157.68" y1="796.30" x2="157.68" y2="798.50" stroke="#141414" stroke-width="0.95" /><line x1="161.66" y1="796.30" x2="161.66" y2="798.50" stroke="#141414" stroke-width="0.95" /><line x1="164.76" y1="796.30" x2="164.76" y2="798.50" stroke="#141414" stroke-width="0.95" /><line x1="167.29" y1="796.30" x2="167.29" y2="798.50" stroke="#141414" stroke-width="0.95" /><line x1="169.42" y1="796.30" x2="169.42" y2="798.50" stroke="#141414" stroke-width="0.95" /><line x1="171.28" y1="796.30" x2="171.28" y2="798.50" stroke="#141414" stroke-width="0.95" /><line x1="172.91" y1="796.30" x2="172.91" y2="798.50" stroke="#141414" stroke-width="0.95" /><line x1="174.37" y1="796.30" x2="174.37" y2="799.90" stroke="#141414" stroke-width="0.95" /><rect x="196.50" y="672.10" width="128.00" height="124.20" fill="none" stroke="#141414" stroke-width="1.2" /><line x1="204.18" y1="796.30" x2="204.18" y2="798.50" stroke="#141414" stroke-width="0.95" /><line x1="206.74" y1="796.30" x2="206.74" y2="798.50" stroke="#141414" stroke-width="0.95" /><line x1="209.30" y1="796.30" x2="209.30" y2="798.50" stroke="#141414" stroke-width="0.95" /><line x1="211.86" y1="796.30" x2="211.86" y2="798.50" stroke="#141414" stroke-width="0.95" /><line x1="214.42" y1="796.30" x2="214.42" y2="798.50" stroke="#141414" stroke-width="0.95" /><line x1="216.98" y1="796.30" x2="216.98" y2="798.50" stroke="#141414" stroke-width="0.95" /><line x1="219.54" y1="796.30" x2="219.54" y2="798.50" stroke="#141414" stroke-width="0.95" /><line x1="222.10" y1="796.30" x2="222.10" y2="798.50" stroke="#141414" stroke-width="0.95" /><line x1="224.66" y1="796.30" x2="224.66" y2="799.90" stroke="#141414" stroke-width="0.95" /><line x1="227.22" y1="796.30" x2="227.22" y2="798.50" stroke="#141414" stroke-width="0.95" /><line x1="229.78" y1="796.30" x2="229.78" y2="798.50" stroke="#141414" stroke-width="0.95" /><line x1="232.34" y1="796.30" x2="232.34" y2="798.50" stroke="#141414" stroke-width="0.95" /><line x1="234.90" y1="796.30" x2="234.90" y2="798.50" stroke="#141414" stroke-width="0.95" /><line x1="237.46" y1="796.30" x2="237.46" y2="798.50" stroke="#141414" stroke-width="0.95" /><line x1="240.02" y1="796.30" x2="240.02" y2="798.50" stroke="#141414" stroke-width="0.95" /><line x1="242.58" y1="796.30" x2="242.58" y2="798.50" stroke="#141414" stroke-width="0.95" /><line x1="245.14" y1="796.30" x2="245.14" y2="798.50" stroke="#141414" stroke-width="0.95" /><line x1="222.74" y1="797.50" x2="226.58" y2="797.50" stroke="#141414" stroke-width="2.2" /><line x1="256.66" y1="796.30" x2="256.66" y2="799.90" stroke="#141414" stroke-width="0.95" /><line x1="266.29" y1="796.30" x2="266.29" y2="798.50" stroke="#141414" stroke-width="0.95" /><line x1="271.93" y1="796.30" x2="271.93" y2="798.50" stroke="#141414" stroke-width="0.95" /><line x1="275.93" y1="796.30" x2="275.93" y2="798.50" stroke="#141414" stroke-width="0.95" /><line x1="279.03" y1="796.30" x2="279.03" y2="798.50" stroke="#141414" stroke-width="0.95" /><line x1="281.56" y1="796.30" x2="281.56" y2="798.50" stroke="#141414" stroke-width="0.95" /><line x1="283.70" y1="796.30" x2="283.70" y2="798.50" stroke="#141414" stroke-width="0.95" /><line x1="285.56" y1="796.30" x2="285.56" y2="798.50" stroke="#141414" stroke-width="0.95" /><line x1="287.20" y1="796.30" x2="287.20" y2="798.50" stroke="#141414" stroke-width="0.95" /><line x1="288.66" y1="796.30" x2="288.66" y2="799.90" stroke="#141414" stroke-width="0.95" /><line x1="298.29" y1="796.30" x2="298.29" y2="798.50" stroke="#141414" stroke-width="0.95" /><line x1="303.93" y1="796.30" x2="303.93" y2="798.50" stroke="#141414" stroke-width="0.95" /><line x1="307.93" y1="796.30" x2="307.93" y2="798.50" stroke="#141414" stroke-width="0.95" /><line x1="311.03" y1="796.30" x2="311.03" y2="798.50" stroke="#141414" stroke-width="0.95" /><line x1="313.56" y1="796.30" x2="313.56" y2="798.50" stroke="#141414" stroke-width="0.95" /><line x1="315.70" y1="796.30" x2="315.70" y2="798.50" stroke="#141414" stroke-width="0.95" /><line x1="317.56" y1="796.30" x2="317.56" y2="798.50" stroke="#141414" stroke-width="0.95" /><line x1="319.20" y1="796.30" x2="319.20" y2="798.50" stroke="#141414" stroke-width="0.95" /><line x1="320.66" y1="796.30" x2="320.66" y2="799.90" stroke="#141414" stroke-width="0.95" /><rect x="339.50" y="672.10" width="128.20" height="124.20" fill="none" stroke="#141414" stroke-width="1.2" /><line x1="347.19" y1="796.30" x2="347.19" y2="798.50" stroke="#141414" stroke-width="0.95" /><line x1="349.76" y1="796.30" x2="349.76" y2="798.50" stroke="#141414" stroke-width="0.95" /><line x1="352.32" y1="796.30" x2="352.32" y2="798.50" stroke="#141414" stroke-width="0.95" /><line x1="354.88" y1="796.30" x2="354.88" y2="798.50" stroke="#141414" stroke-width="0.95" /><line x1="357.45" y1="796.30" x2="357.45" y2="798.50" stroke="#141414" stroke-width="0.95" /><line x1="360.01" y1="796.30" x2="360.01" y2="798.50" stroke="#141414" stroke-width="0.95" /><line x1="362.58" y1="796.30" x2="362.58" y2="798.50" stroke="#141414" stroke-width="0.95" /><line x1="365.14" y1="796.30" x2="365.14" y2="798.50" stroke="#141414" stroke-width="0.95" /><line x1="367.70" y1="796.30" x2="367.70" y2="799.90" stroke="#141414" stroke-width="0.95" /><line x1="370.27" y1="796.30" x2="370.27" y2="798.50" stroke="#141414" stroke-width="0.95" /><line x1="372.83" y1="796.30" x2="372.83" y2="798.50" stroke="#141414" stroke-width="0.95" /><line x1="375.40" y1="796.30" x2="375.40" y2="798.50" stroke="#141414" stroke-width="0.95" /><line x1="377.96" y1="796.30" x2="377.96" y2="798.50" stroke="#141414" stroke-width="0.95" /><line x1="380.52" y1="796.30" x2="380.52" y2="798.50" stroke="#141414" stroke-width="0.95" /><line x1="383.09" y1="796.30" x2="383.09" y2="798.50" stroke="#141414" stroke-width="0.95" /><line x1="385.65" y1="796.30" x2="385.65" y2="798.50" stroke="#141414" stroke-width="0.95" /><line x1="388.22" y1="796.30" x2="388.22" y2="798.50" stroke="#141414" stroke-width="0.95" /><line x1="365.78" y1="797.50" x2="369.63" y2="797.50" stroke="#141414" stroke-width="2.2" /><line x1="399.75" y1="796.30" x2="399.75" y2="799.90" stroke="#141414" stroke-width="0.95" /><line x1="409.40" y1="796.30" x2="409.40" y2="798.50" stroke="#141414" stroke-width="0.95" /><line x1="415.05" y1="796.30" x2="415.05" y2="798.50" stroke="#141414" stroke-width="0.95" /><line x1="419.05" y1="796.30" x2="419.05" y2="798.50" stroke="#141414" stroke-width="0.95" /><line x1="422.16" y1="796.30" x2="422.16" y2="798.50" stroke="#141414" stroke-width="0.95" /><line x1="424.69" y1="796.30" x2="424.69" y2="798.50" stroke="#141414" stroke-width="0.95" /><line x1="426.84" y1="796.30" x2="426.84" y2="798.50" stroke="#141414" stroke-width="0.95" /><line x1="428.70" y1="796.30" x2="428.70" y2="798.50" stroke="#141414" stroke-width="0.95" /><line x1="430.34" y1="796.30" x2="430.34" y2="798.50" stroke="#141414" stroke-width="0.95" /><line x1="431.80" y1="796.30" x2="431.80" y2="799.90" stroke="#141414" stroke-width="0.95" /><line x1="441.45" y1="796.30" x2="441.45" y2="798.50" stroke="#141414" stroke-width="0.95" /><line x1="447.10" y1="796.30" x2="447.10" y2="798.50" stroke="#141414" stroke-width="0.95" /><line x1="451.10" y1="796.30" x2="451.10" y2="798.50" stroke="#141414" stroke-width="0.95" /><line x1="454.21" y1="796.30" x2="454.21" y2="798.50" stroke="#141414" stroke-width="0.95" /><line x1="456.74" y1="796.30" x2="456.74" y2="798.50" stroke="#141414" stroke-width="0.95" /><line x1="458.89" y1="796.30" x2="458.89" y2="798.50" stroke="#141414" stroke-width="0.95" /><line x1="460.75" y1="796.30" x2="460.75" y2="798.50" stroke="#141414" stroke-width="0.95" /><line x1="462.39" y1="796.30" x2="462.39" y2="798.50" stroke="#141414" stroke-width="0.95" /><line x1="463.85" y1="796.30" x2="463.85" y2="799.90" stroke="#141414" stroke-width="0.95" /><line x1="48.30" y1="788.85" x2="50.50" y2="788.85" stroke="#141414" stroke-width="0.95" /><line x1="48.30" y1="786.36" x2="50.50" y2="786.36" stroke="#141414" stroke-width="0.95" /><line x1="48.30" y1="783.88" x2="50.50" y2="783.88" stroke="#141414" stroke-width="0.95" /><line x1="48.30" y1="781.40" x2="50.50" y2="781.40" stroke="#141414" stroke-width="0.95" /><line x1="48.30" y1="778.91" x2="50.50" y2="778.91" stroke="#141414" stroke-width="0.95" /><line x1="48.30" y1="776.43" x2="50.50" y2="776.43" stroke="#141414" stroke-width="0.95" /><line x1="48.30" y1="773.94" x2="50.50" y2="773.94" stroke="#141414" stroke-width="0.95" /><line x1="48.30" y1="771.46" x2="50.50" y2="771.46" stroke="#141414" stroke-width="0.95" /><line x1="46.90" y1="768.98" x2="50.50" y2="768.98" stroke="#141414" stroke-width="0.95" /><line x1="48.30" y1="766.49" x2="50.50" y2="766.49" stroke="#141414" stroke-width="0.95" /><line x1="48.30" y1="764.01" x2="50.50" y2="764.01" stroke="#141414" stroke-width="0.95" /><line x1="48.30" y1="761.52" x2="50.50" y2="761.52" stroke="#141414" stroke-width="0.95" /><line x1="48.30" y1="759.04" x2="50.50" y2="759.04" stroke="#141414" stroke-width="0.95" /><line x1="48.30" y1="756.56" x2="50.50" y2="756.56" stroke="#141414" stroke-width="0.95" /><line x1="48.30" y1="754.07" x2="50.50" y2="754.07" stroke="#141414" stroke-width="0.95" /><line x1="48.30" y1="751.59" x2="50.50" y2="751.59" stroke="#141414" stroke-width="0.95" /><line x1="48.30" y1="749.10" x2="50.50" y2="749.10" stroke="#141414" stroke-width="0.95" /><line x1="49.30" y1="770.84" x2="49.30" y2="767.11" stroke="#141414" stroke-width="2.2" /><line x1="46.90" y1="737.93" x2="50.50" y2="737.93" stroke="#141414" stroke-width="0.95" /><line x1="48.30" y1="728.58" x2="50.50" y2="728.58" stroke="#141414" stroke-width="0.95" /><line x1="48.30" y1="723.11" x2="50.50" y2="723.11" stroke="#141414" stroke-width="0.95" /><line x1="48.30" y1="719.23" x2="50.50" y2="719.23" stroke="#141414" stroke-width="0.95" /><line x1="48.30" y1="716.22" x2="50.50" y2="716.22" stroke="#141414" stroke-width="0.95" /><line x1="48.30" y1="713.76" x2="50.50" y2="713.76" stroke="#141414" stroke-width="0.95" /><line x1="48.30" y1="711.69" x2="50.50" y2="711.69" stroke="#141414" stroke-width="0.95" /><line x1="48.30" y1="709.89" x2="50.50" y2="709.89" stroke="#141414" stroke-width="0.95" /><line x1="48.30" y1="708.30" x2="50.50" y2="708.30" stroke="#141414" stroke-width="0.95" /><line x1="46.90" y1="706.88" x2="50.50" y2="706.88" stroke="#141414" stroke-width="0.95" /><line x1="48.30" y1="697.53" x2="50.50" y2="697.53" stroke="#141414" stroke-width="0.95" /><line x1="48.30" y1="692.06" x2="50.50" y2="692.06" stroke="#141414" stroke-width="0.95" /><line x1="48.30" y1="688.18" x2="50.50" y2="688.18" stroke="#141414" stroke-width="0.95" /><line x1="48.30" y1="685.17" x2="50.50" y2="685.17" stroke="#141414" stroke-width="0.95" /><line x1="48.30" y1="682.71" x2="50.50" y2="682.71" stroke="#141414" stroke-width="0.95" /><line x1="48.30" y1="680.64" x2="50.50" y2="680.64" stroke="#141414" stroke-width="0.95" /><line x1="48.30" y1="678.84" x2="50.50" y2="678.84" stroke="#141414" stroke-width="0.95" /><line x1="48.30" y1="677.25" x2="50.50" y2="677.25" stroke="#141414" stroke-width="0.95" /><line x1="46.90" y1="675.83" x2="50.50" y2="675.83" stroke="#141414" stroke-width="0.95" /><line x1="34.60" y1="683.40" x2="34.60" y2="757.00" stroke="#141414" stroke-width="1.25" /><path d="M34.60,673.50 L29.90,685.40 L34.60,683.20 L39.30,685.40 Z" fill="#141414"/><text transform="translate(38.00,794.80) rotate(-90) scale(0.8945,1)" fill="#141414" stroke="#141414" stroke-width="0.28" ><tspan font-size="14.20">CD11b</tspan></text><text transform="translate(50.80,814.40) scale(0.8561,1)" fill="#141414" stroke="#141414" stroke-width="0.28" ><tspan font-size="14.00">Ly6G</tspan></text><line x1="79.00" y1="811.30" x2="166.00" y2="811.30" stroke="#141414" stroke-width="1.25" /><path d="M176.50,811.30 L164.00,806.50 L166.20,811.30 L164.00,816.10 Z" fill="#141414"/><text transform="translate(196.90,814.40) scale(0.9358,1)" fill="#141414" stroke="#141414" stroke-width="0.28" ><tspan font-size="14.00">F4/80</tspan></text><line x1="230.40" y1="811.30" x2="313.80" y2="811.30" stroke="#141414" stroke-width="1.25" /><path d="M324.30,811.30 L311.80,806.50 L314.00,811.30 L311.80,816.10 Z" fill="#141414"/><text transform="translate(340.50,814.40) scale(0.8771,1)" fill="#141414" stroke="#141414" stroke-width="0.28" ><tspan font-size="14.00">CD86</tspan></text><line x1="371.90" y1="811.30" x2="458.00" y2="811.30" stroke="#141414" stroke-width="1.25" /><path d="M468.50,811.30 L456.00,806.50 L458.20,811.30 L456.00,816.10 Z" fill="#141414"/><text transform="translate(405.50,396.40) rotate(-45)" fill="#141414" stroke="#141414" stroke-width="0.28" x="0" y="0"><tspan font-size="11.30">Plg</tspan><tspan font-size="9.04" dy="-3.39">+/+</tspan></text><text transform="translate(439.70,396.40) rotate(-45)" fill="#141414" stroke="#141414" stroke-width="0.28" x="0" y="0"><tspan font-size="11.30">Plg</tspan><tspan font-size="9.04" dy="-3.39">+/-</tspan></text><text transform="translate(473.70,396.40) rotate(-45)" fill="#141414" stroke="#141414" stroke-width="0.28" x="0" y="0"><tspan font-size="11.30">Plg</tspan><tspan font-size="9.04" dy="-3.39">-/-</tspan></text><text transform="translate(405.90,614.40) rotate(-45)" fill="#141414" stroke="#141414" stroke-width="0.28" x="0" y="0"><tspan font-size="11.30">Plg</tspan><tspan font-size="9.04" dy="-3.39">+/+</tspan></text><text transform="translate(440.10,614.40) rotate(-45)" fill="#141414" stroke="#141414" stroke-width="0.28" x="0" y="0"><tspan font-size="11.30">Plg</tspan><tspan font-size="9.04" dy="-3.39">+/-</tspan></text><text transform="translate(474.40,614.40) rotate(-45)" fill="#141414" stroke="#141414" stroke-width="0.28" x="0" y="0"><tspan font-size="11.30">Plg</tspan><tspan font-size="9.04" dy="-3.39">-/-</tspan></text><text transform="translate(43.00,845.00) scale(1.0223,1)" fill="#141414" stroke="#141414" stroke-width="0.28" ><tspan font-size="10.60">Large Peritoneal Macrophages (LPM)</tspan></text><text transform="translate(73.00,859.20) scale(1.0346,1)" fill="#141414" stroke="#141414" stroke-width="0.28" ><tspan font-size="10.60">F4/80</tspan><tspan font-size="8.60" dy="-4.40">Hi</tspan><tspan font-size="10.60" dy="4.40">/CD86</tspan><tspan font-size="8.60" dy="-4.40">Hi</tspan><tspan font-size="10.60" dy="4.40">/CD11b</tspan><tspan font-size="8.60" dy="-4.40">Hi</tspan></text><line x1="26.20" y1="867.00" x2="240.00" y2="867.00" stroke="#141414" stroke-width="1.4" /><line x1="92.50" y1="880.00" x2="92.50" y2="1003.90" stroke="#141414" stroke-width="1.3" /><line x1="91.90" y1="1003.40" x2="209.80" y2="1003.40" stroke="#141414" stroke-width="1.3" /><line x1="88.00" y1="883.80" x2="92.50" y2="883.80" stroke="#141414" stroke-width="1.2" /><text transform="translate(70.00,887.80) scale(1.0504,1)" fill="#141414" stroke="#141414" stroke-width="0.28" ><tspan font-size="10.00">3.0</tspan></text><line x1="88.00" y1="923.80" x2="92.50" y2="923.80" stroke="#141414" stroke-width="1.2" /><text transform="translate(70.00,927.80) scale(1.0504,1)" fill="#141414" stroke="#141414" stroke-width="0.28" ><tspan font-size="10.00">2.0</tspan></text><line x1="88.00" y1="963.70" x2="92.50" y2="963.70" stroke="#141414" stroke-width="1.2" /><text transform="translate(70.00,967.70) scale(1.0504,1)" fill="#141414" stroke="#141414" stroke-width="0.28" ><tspan font-size="10.00">1.0</tspan></text><line x1="88.00" y1="1003.40" x2="92.50" y2="1003.40" stroke="#141414" stroke-width="1.2" /><text transform="translate(70.00,1007.40) scale(1.0504,1)" fill="#141414" stroke="#141414" stroke-width="0.28" ><tspan font-size="10.00">0.0</tspan></text><line x1="115.60" y1="1003.40" x2="115.60" y2="1008.00" stroke="#141414" stroke-width="1.2" /><line x1="150.80" y1="1003.40" x2="150.80" y2="1008.00" stroke="#141414" stroke-width="1.2" /><line x1="186.00" y1="1003.40" x2="186.00" y2="1008.00" stroke="#141414" stroke-width="1.2" /><text transform="translate(58.60,983.60) rotate(-90) scale(1.0470,1)" fill="#141414" stroke="#141414" stroke-width="0.28" ><tspan font-size="12.40">Cells/mL x 10</tspan><tspan font-size="9.00" dy="-5.80">5</tspan></text><circle cx="116.00" cy="903.30" r="2.40" fill="#c0373a"/><circle cx="116.00" cy="913.80" r="2.40" fill="#c0373a"/><circle cx="116.00" cy="926.30" r="2.40" fill="#c0373a"/><circle cx="112.10" cy="944.60" r="2.40" fill="#c0373a"/><circle cx="119.40" cy="940.80" r="2.40" fill="#c0373a"/><circle cx="116.00" cy="958.10" r="2.40" fill="#c0373a"/><circle cx="112.10" cy="967.10" r="2.40" fill="#c0373a"/><circle cx="119.40" cy="966.70" r="2.40" fill="#c0373a"/><circle cx="150.80" cy="909.20" r="2.40" fill="#c0373a"/><circle cx="150.80" cy="939.70" r="2.40" fill="#c0373a"/><circle cx="143.40" cy="959.10" r="2.40" fill="#c0373a"/><circle cx="150.80" cy="959.10" r="2.40" fill="#c0373a"/><circle cx="158.40" cy="954.50" r="2.40" fill="#c0373a"/><circle cx="154.70" cy="964.70" r="2.40" fill="#c0373a"/><circle cx="147.30" cy="968.80" r="2.40" fill="#c0373a"/><circle cx="177.10" cy="985.00" r="2.40" fill="#c0373a"/><circle cx="186.00" cy="982.10" r="2.40" fill="#c0373a"/><circle cx="188.80" cy="986.70" r="2.40" fill="#c0373a"/><circle cx="194.60" cy="984.80" r="2.40" fill="#c0373a"/><circle cx="183.10" cy="991.00" r="2.40" fill="#c0373a"/><line x1="105.40" y1="939.20" x2="127.50" y2="939.20" stroke="#c0373a" stroke-width="1.3" /><line x1="139.70" y1="950.10" x2="164.20" y2="950.10" stroke="#c0373a" stroke-width="1.3" /><line x1="174.40" y1="989.00" x2="199.00" y2="989.00" stroke="#c0373a" stroke-width="1.3" /><text transform="translate(127.70,881.50) scale(0.9759,1)" fill="#141414" stroke="#141414" stroke-width="0.28" ><tspan font-size="10.00">P = 0.0020</tspan></text><line x1="113.40" y1="886.20" x2="187.30" y2="886.20" stroke="#141414" stroke-width="1.2" /><text transform="translate(146.20,898.20) scale(0.9903,1)" fill="#141414" stroke="#141414" stroke-width="0.28" ><tspan font-size="10.00">P = 0.0180</tspan></text><line x1="150.30" y1="903.70" x2="188.20" y2="903.70" stroke="#141414" stroke-width="1.2" /><text transform="translate(104.20,1043.60) rotate(-45)" fill="#141414" stroke="#141414" stroke-width="0.28" x="0" y="0"><tspan font-size="11.30">Plg</tspan><tspan font-size="9.04" dy="-3.39">+/+</tspan></text><text transform="translate(139.40,1043.60) rotate(-45)" fill="#141414" stroke="#141414" stroke-width="0.28" x="0" y="0"><tspan font-size="11.30">Plg</tspan><tspan font-size="9.04" dy="-3.39">+/-</tspan></text><text transform="translate(174.60,1043.60) rotate(-45)" fill="#141414" stroke="#141414" stroke-width="0.28" x="0" y="0"><tspan font-size="11.30">Plg</tspan><tspan font-size="9.04" dy="-3.39">-/-</tspan></text><text transform="translate(294.50,844.80) scale(1.0168,1)" fill="#141414" stroke="#141414" stroke-width="0.28" ><tspan font-size="10.60">Small Peritoneal Macrophages (SPM)</tspan></text><text transform="translate(311.20,859.20) scale(1.0519,1)" fill="#141414" stroke="#141414" stroke-width="0.28" ><tspan font-size="10.60">F4/80</tspan><tspan font-size="8.60" dy="-4.40">Low</tspan><tspan font-size="10.60" dy="4.40">/CD86</tspan><tspan font-size="8.60" dy="-4.40">Low</tspan><tspan font-size="10.60" dy="4.40">/CD11b</tspan><tspan font-size="8.60" dy="-4.40">Low</tspan></text><line x1="278.30" y1="866.90" x2="491.70" y2="866.90" stroke="#141414" stroke-width="1.4" /><line x1="342.00" y1="880.40" x2="342.00" y2="1003.80" stroke="#141414" stroke-width="1.3" /><line x1="341.40" y1="1003.30" x2="464.40" y2="1003.30" stroke="#141414" stroke-width="1.3" /><line x1="337.50" y1="885.00" x2="342.00" y2="885.00" stroke="#141414" stroke-width="1.2" /><text transform="translate(319.00,889.00) scale(1.0072,1)" fill="#141414" stroke="#141414" stroke-width="0.28" ><tspan font-size="10.00">8.0</tspan></text><line x1="337.50" y1="914.30" x2="342.00" y2="914.30" stroke="#141414" stroke-width="1.2" /><text transform="translate(319.00,918.30) scale(1.0072,1)" fill="#141414" stroke="#141414" stroke-width="0.28" ><tspan font-size="10.00">6.0</tspan></text><line x1="337.50" y1="943.90" x2="342.00" y2="943.90" stroke="#141414" stroke-width="1.2" /><text transform="translate(319.00,947.90) scale(1.0072,1)" fill="#141414" stroke="#141414" stroke-width="0.28" ><tspan font-size="10.00">4.0</tspan></text><line x1="337.50" y1="973.40" x2="342.00" y2="973.40" stroke="#141414" stroke-width="1.2" /><text transform="translate(319.00,977.40) scale(1.0072,1)" fill="#141414" stroke="#141414" stroke-width="0.28" ><tspan font-size="10.00">2.0</tspan></text><line x1="337.50" y1="1003.30" x2="342.00" y2="1003.30" stroke="#141414" stroke-width="1.2" /><text transform="translate(319.00,1007.30) scale(1.0072,1)" fill="#141414" stroke="#141414" stroke-width="0.28" ><tspan font-size="10.00">0.0</tspan></text><line x1="365.70" y1="1003.30" x2="365.70" y2="1007.90" stroke="#141414" stroke-width="1.2" /><line x1="402.80" y1="1003.30" x2="402.80" y2="1007.90" stroke="#141414" stroke-width="1.2" /><line x1="440.20" y1="1003.30" x2="440.20" y2="1007.90" stroke="#141414" stroke-width="1.2" /><text transform="translate(309.40,983.90) rotate(-90) scale(1.0419,1)" fill="#141414" stroke="#141414" stroke-width="0.28" ><tspan font-size="12.40">Cells/mL x 10</tspan><tspan font-size="9.00" dy="-5.80">4</tspan></text><circle cx="366.50" cy="905.10" r="2.40" fill="#619fd3"/><circle cx="362.40" cy="933.00" r="2.40" fill="#619fd3"/><circle cx="370.70" cy="933.00" r="2.40" fill="#619fd3"/><circle cx="358.40" cy="948.50" r="2.40" fill="#619fd3"/><circle cx="366.50" cy="952.40" r="2.40" fill="#619fd3"/><circle cx="374.40" cy="947.80" r="2.40" fill="#619fd3"/><circle cx="370.40" cy="970.90" r="2.40" fill="#619fd3"/><circle cx="362.40" cy="975.30" r="2.40" fill="#619fd3"/><circle cx="406.70" cy="938.60" r="2.40" fill="#619fd3"/><circle cx="399.30" cy="944.80" r="2.40" fill="#619fd3"/><circle cx="399.30" cy="960.50" r="2.40" fill="#619fd3"/><circle cx="406.70" cy="962.40" r="2.40" fill="#619fd3"/><circle cx="395.30" cy="968.80" r="2.40" fill="#619fd3"/><circle cx="410.80" cy="970.90" r="2.40" fill="#619fd3"/><circle cx="403.00" cy="974.30" r="2.40" fill="#619fd3"/><circle cx="431.80" cy="968.80" r="2.40" fill="#619fd3"/><circle cx="439.70" cy="969.70" r="2.40" fill="#619fd3"/><circle cx="447.30" cy="968.10" r="2.40" fill="#619fd3"/><circle cx="443.40" cy="974.30" r="2.40" fill="#619fd3"/><circle cx="435.80" cy="977.50" r="2.40" fill="#619fd3"/><line x1="354.30" y1="945.70" x2="379.20" y2="945.70" stroke="#619fd3" stroke-width="1.3" /><line x1="390.00" y1="959.60" x2="415.40" y2="959.60" stroke="#619fd3" stroke-width="1.3" /><line x1="424.90" y1="971.10" x2="451.20" y2="971.10" stroke="#619fd3" stroke-width="1.3" /><text transform="translate(379.70,894.30) scale(0.9800,1)" fill="#141414" stroke="#141414" stroke-width="0.28" ><tspan font-size="10.00">P = 0.0348</tspan></text><line x1="365.10" y1="898.60" x2="442.70" y2="898.60" stroke="#141414" stroke-width="1.2" /><text transform="translate(354.30,1043.50) rotate(-45)" fill="#141414" stroke="#141414" stroke-width="0.28" x="0" y="0"><tspan font-size="11.30">Plg</tspan><tspan font-size="9.04" dy="-3.39">+/+</tspan></text><text transform="translate(391.40,1043.50) rotate(-45)" fill="#141414" stroke="#141414" stroke-width="0.28" x="0" y="0"><tspan font-size="11.30">Plg</tspan><tspan font-size="9.04" dy="-3.39">+/-</tspan></text><text transform="translate(428.80,1043.50) rotate(-45)" fill="#141414" stroke="#141414" stroke-width="0.28" x="0" y="0"><tspan font-size="11.30">Plg</tspan><tspan font-size="9.04" dy="-3.39">-/-</tspan></text></svg></body></html>
